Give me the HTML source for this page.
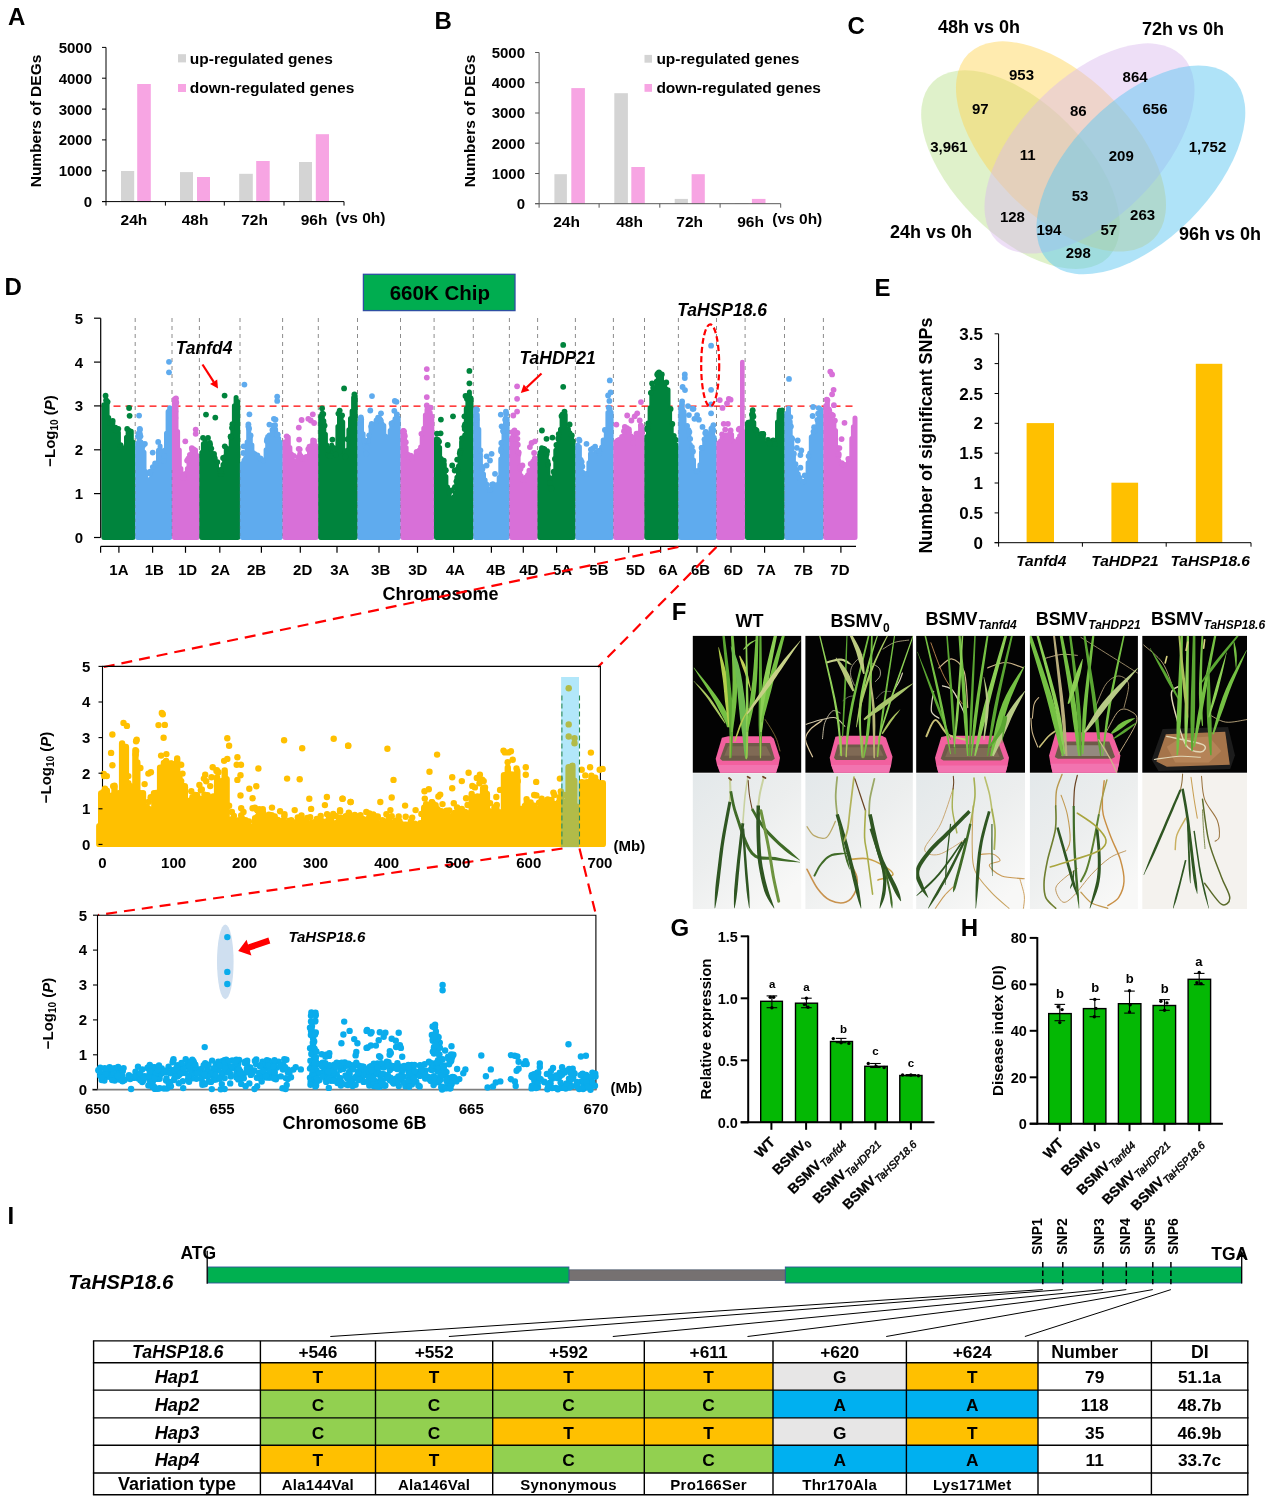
<!DOCTYPE html>
<html lang="en"><head><meta charset="utf-8"><title>Figure</title>
<style>
html,body{margin:0;padding:0;background:#fff;}
body{width:1269px;height:1502px;overflow:hidden;}
svg{display:block;font-family:"Liberation Sans", Arial, sans-serif;font-weight:bold;}
</style></head><body>
<svg width="1269" height="1502" viewBox="0 0 1269 1502">
<rect width="1269" height="1502" fill="#fff"/>
<g id="panelA">
<text x="8.0" y="25.4" font-size="24">A</text>
<rect x="121.0" y="171.0" width="13.2" height="30.6" fill="#d4d4d4"/>
<rect x="137.2" y="84.0" width="13.6" height="117.6" fill="#f7a5e3"/>
<rect x="180.0" y="172.1" width="13.0" height="29.5" fill="#d4d4d4"/>
<rect x="197.0" y="177.0" width="13.0" height="24.6" fill="#f7a5e3"/>
<rect x="239.2" y="173.8" width="13.6" height="27.8" fill="#d4d4d4"/>
<rect x="256.2" y="161.0" width="13.5" height="40.6" fill="#f7a5e3"/>
<rect x="299.0" y="162.0" width="13.0" height="39.6" fill="#d4d4d4"/>
<rect x="315.8" y="134.2" width="13.2" height="67.4" fill="#f7a5e3"/>
<line x1="106.0" y1="47.4" x2="106.0" y2="205.6" stroke="#000" stroke-width="1"/>
<line x1="102.0" y1="201.6" x2="344.0" y2="201.6" stroke="#000" stroke-width="1"/>
<line x1="102.0" y1="201.6" x2="106.0" y2="201.6" stroke="#000" stroke-width="1"/>
<text x="92.0" y="207.0" font-size="15" text-anchor="end">0</text>
<line x1="102.0" y1="170.8" x2="106.0" y2="170.8" stroke="#000" stroke-width="1"/>
<text x="92.0" y="176.2" font-size="15" text-anchor="end">1000</text>
<line x1="102.0" y1="139.9" x2="106.0" y2="139.9" stroke="#000" stroke-width="1"/>
<text x="92.0" y="145.3" font-size="15" text-anchor="end">2000</text>
<line x1="102.0" y1="109.1" x2="106.0" y2="109.1" stroke="#000" stroke-width="1"/>
<text x="92.0" y="114.5" font-size="15" text-anchor="end">3000</text>
<line x1="102.0" y1="78.2" x2="106.0" y2="78.2" stroke="#000" stroke-width="1"/>
<text x="92.0" y="83.6" font-size="15" text-anchor="end">4000</text>
<line x1="102.0" y1="47.4" x2="106.0" y2="47.4" stroke="#000" stroke-width="1"/>
<text x="92.0" y="52.8" font-size="15" text-anchor="end">5000</text>
<line x1="165.4" y1="201.6" x2="165.4" y2="205.6" stroke="#000" stroke-width="1"/>
<line x1="224.3" y1="201.6" x2="224.3" y2="205.6" stroke="#000" stroke-width="1"/>
<line x1="284.0" y1="201.6" x2="284.0" y2="205.6" stroke="#000" stroke-width="1"/>
<line x1="344.0" y1="201.6" x2="344.0" y2="205.6" stroke="#000" stroke-width="1"/>
<text x="133.9" y="225.0" font-size="15.5" text-anchor="middle">24h</text>
<text x="195.0" y="225.0" font-size="15.5" text-anchor="middle">48h</text>
<text x="254.5" y="225.0" font-size="15.5" text-anchor="middle">72h</text>
<text x="314.0" y="225.0" font-size="15.5" text-anchor="middle">96h</text>
<text x="335.5" y="222.5" font-size="15.5">(vs 0h)</text>
<text x="40.5" y="121.0" font-size="15.5" text-anchor="middle" transform="rotate(-90 40.5 121.0)">Numbers of DEGs</text>
<rect x="178.0" y="54.2" width="8.0" height="8.2" fill="#d4d4d4"/>
<text x="189.8" y="63.5" font-size="15.5">up-regulated genes</text>
<rect x="178.0" y="84.0" width="8.0" height="8.0" fill="#f7a5e3"/>
<text x="189.8" y="92.5" font-size="15.5">down-regulated genes</text>
</g>
<g id="panelB">
<text x="434.4" y="28.8" font-size="24">B</text>
<rect x="554.4" y="174.2" width="12.5" height="29.5" fill="#d4d4d4"/>
<rect x="571.3" y="88.1" width="13.6" height="115.6" fill="#f7a5e3"/>
<rect x="614.3" y="93.2" width="13.6" height="110.5" fill="#d4d4d4"/>
<rect x="631.3" y="167.0" width="13.5" height="36.7" fill="#f7a5e3"/>
<rect x="674.7" y="198.9" width="13.2" height="4.8" fill="#d4d4d4"/>
<rect x="691.6" y="174.2" width="13.2" height="29.5" fill="#f7a5e3"/>
<rect x="735.0" y="203.2" width="13.5" height="0.5" fill="#d4d4d4"/>
<rect x="751.9" y="198.9" width="13.6" height="4.8" fill="#f7a5e3"/>
<line x1="539.1" y1="52.5" x2="539.1" y2="207.7" stroke="#595959" stroke-width="1"/>
<line x1="535.1" y1="203.7" x2="780.7" y2="203.7" stroke="#595959" stroke-width="1"/>
<line x1="535.1" y1="203.7" x2="539.1" y2="203.7" stroke="#595959" stroke-width="1"/>
<text x="525.0" y="209.1" font-size="15" text-anchor="end">0</text>
<line x1="535.1" y1="173.5" x2="539.1" y2="173.5" stroke="#595959" stroke-width="1"/>
<text x="525.0" y="178.9" font-size="15" text-anchor="end">1000</text>
<line x1="535.1" y1="143.2" x2="539.1" y2="143.2" stroke="#595959" stroke-width="1"/>
<text x="525.0" y="148.6" font-size="15" text-anchor="end">2000</text>
<line x1="535.1" y1="113.0" x2="539.1" y2="113.0" stroke="#595959" stroke-width="1"/>
<text x="525.0" y="118.4" font-size="15" text-anchor="end">3000</text>
<line x1="535.1" y1="82.7" x2="539.1" y2="82.7" stroke="#595959" stroke-width="1"/>
<text x="525.0" y="88.1" font-size="15" text-anchor="end">4000</text>
<line x1="535.1" y1="52.5" x2="539.1" y2="52.5" stroke="#595959" stroke-width="1"/>
<text x="525.0" y="57.9" font-size="15" text-anchor="end">5000</text>
<line x1="599.1" y1="203.7" x2="599.1" y2="207.7" stroke="#595959" stroke-width="1"/>
<line x1="659.8" y1="203.7" x2="659.8" y2="207.7" stroke="#595959" stroke-width="1"/>
<line x1="720.1" y1="203.7" x2="720.1" y2="207.7" stroke="#595959" stroke-width="1"/>
<line x1="780.7" y1="203.7" x2="780.7" y2="207.7" stroke="#595959" stroke-width="1"/>
<text x="566.6" y="226.7" font-size="15.5" text-anchor="middle">24h</text>
<text x="629.5" y="226.7" font-size="15.5" text-anchor="middle">48h</text>
<text x="689.7" y="226.7" font-size="15.5" text-anchor="middle">72h</text>
<text x="750.5" y="226.7" font-size="15.5" text-anchor="middle">96h</text>
<text x="772.3" y="224.0" font-size="15.5">(vs 0h)</text>
<text x="474.5" y="121.0" font-size="15.5" text-anchor="middle" transform="rotate(-90 474.5 121.0)">Numbers of DEGs</text>
<rect x="644.5" y="54.9" width="7.5" height="7.8" fill="#d4d4d4"/>
<text x="656.4" y="63.5" font-size="15.5">up-regulated genes</text>
<rect x="644.5" y="84.0" width="7.5" height="7.8" fill="#f7a5e3"/>
<text x="656.4" y="92.5" font-size="15.5">down-regulated genes</text>
</g>
<g id="panelC">
<text x="847.4" y="33.6" font-size="24">C</text>
<ellipse cx="1020.5" cy="169.7" rx="124" ry="66" transform="rotate(45 1020.5 169.7)" fill="#b7e08a" fill-opacity="0.45"/>
<ellipse cx="1061" cy="146.4" rx="131" ry="70" transform="rotate(45 1061 146.4)" fill="#ffd24d" fill-opacity="0.45"/>
<ellipse cx="1089.5" cy="148.4" rx="131" ry="70" transform="rotate(-45 1089.5 148.4)" fill="#d9b8ee" fill-opacity="0.45"/>
<ellipse cx="1140.9" cy="169.9" rx="130" ry="70" transform="rotate(-45 1140.9 169.9)" fill="#5fc7f2" fill-opacity="0.5"/>
<text x="938.0" y="33.3" font-size="18">48h vs 0h</text>
<text x="1142.0" y="35.0" font-size="18">72h vs 0h</text>
<text x="890.0" y="238.0" font-size="18">24h vs 0h</text>
<text x="1179.0" y="239.5" font-size="18">96h vs 0h</text>
<text x="1021.5" y="80.3" font-size="15" text-anchor="middle">953</text>
<text x="1135.1" y="82.3" font-size="15" text-anchor="middle">864</text>
<text x="980.3" y="113.5" font-size="15" text-anchor="middle">97</text>
<text x="1078.3" y="116.2" font-size="15" text-anchor="middle">86</text>
<text x="1155.0" y="114.2" font-size="15" text-anchor="middle">656</text>
<text x="948.9" y="152.3" font-size="15" text-anchor="middle">3,961</text>
<text x="1027.6" y="160.1" font-size="15" text-anchor="middle">11</text>
<text x="1121.3" y="161.1" font-size="15" text-anchor="middle">209</text>
<text x="1207.5" y="151.7" font-size="15" text-anchor="middle">1,752</text>
<text x="1080.0" y="201.3" font-size="15" text-anchor="middle">53</text>
<text x="1012.4" y="221.7" font-size="15" text-anchor="middle">128</text>
<text x="1142.6" y="220.3" font-size="15" text-anchor="middle">263</text>
<text x="1048.9" y="234.5" font-size="15" text-anchor="middle">194</text>
<text x="1108.8" y="235.2" font-size="15" text-anchor="middle">57</text>
<text x="1078.3" y="258.2" font-size="15" text-anchor="middle">298</text>
</g>
<g id="panelD">
<text x="4.5" y="295.0" font-size="24">D</text>
<line x1="135.2" y1="318.0" x2="135.2" y2="539.5" stroke="#7f7f7f" stroke-width="0.9" stroke-dasharray="4 4"/>
<line x1="172.0" y1="318.0" x2="172.0" y2="539.5" stroke="#7f7f7f" stroke-width="0.9" stroke-dasharray="4 4"/>
<line x1="199.4" y1="318.0" x2="199.4" y2="539.5" stroke="#7f7f7f" stroke-width="0.9" stroke-dasharray="4 4"/>
<line x1="240.0" y1="318.0" x2="240.0" y2="539.5" stroke="#7f7f7f" stroke-width="0.9" stroke-dasharray="4 4"/>
<line x1="282.6" y1="318.0" x2="282.6" y2="539.5" stroke="#7f7f7f" stroke-width="0.9" stroke-dasharray="4 4"/>
<line x1="318.3" y1="318.0" x2="318.3" y2="539.5" stroke="#7f7f7f" stroke-width="0.9" stroke-dasharray="4 4"/>
<line x1="357.5" y1="318.0" x2="357.5" y2="539.5" stroke="#7f7f7f" stroke-width="0.9" stroke-dasharray="4 4"/>
<line x1="400.5" y1="318.0" x2="400.5" y2="539.5" stroke="#7f7f7f" stroke-width="0.9" stroke-dasharray="4 4"/>
<line x1="434.1" y1="318.0" x2="434.1" y2="539.5" stroke="#7f7f7f" stroke-width="0.9" stroke-dasharray="4 4"/>
<line x1="473.3" y1="318.0" x2="473.3" y2="539.5" stroke="#7f7f7f" stroke-width="0.9" stroke-dasharray="4 4"/>
<line x1="509.4" y1="318.0" x2="509.4" y2="539.5" stroke="#7f7f7f" stroke-width="0.9" stroke-dasharray="4 4"/>
<line x1="537.6" y1="318.0" x2="537.6" y2="539.5" stroke="#7f7f7f" stroke-width="0.9" stroke-dasharray="4 4"/>
<line x1="575.4" y1="318.0" x2="575.4" y2="539.5" stroke="#7f7f7f" stroke-width="0.9" stroke-dasharray="4 4"/>
<line x1="613.4" y1="318.0" x2="613.4" y2="539.5" stroke="#7f7f7f" stroke-width="0.9" stroke-dasharray="4 4"/>
<line x1="644.5" y1="318.0" x2="644.5" y2="539.5" stroke="#7f7f7f" stroke-width="0.9" stroke-dasharray="4 4"/>
<line x1="678.4" y1="318.0" x2="678.4" y2="539.5" stroke="#7f7f7f" stroke-width="0.9" stroke-dasharray="4 4"/>
<line x1="716.5" y1="318.0" x2="716.5" y2="539.5" stroke="#7f7f7f" stroke-width="0.9" stroke-dasharray="4 4"/>
<line x1="745.1" y1="318.0" x2="745.1" y2="539.5" stroke="#7f7f7f" stroke-width="0.9" stroke-dasharray="4 4"/>
<line x1="784.5" y1="318.0" x2="784.5" y2="539.5" stroke="#7f7f7f" stroke-width="0.9" stroke-dasharray="4 4"/>
<line x1="823.4" y1="318.0" x2="823.4" y2="539.5" stroke="#7f7f7f" stroke-width="0.9" stroke-dasharray="4 4"/>
<line x1="101.5" y1="406.2" x2="857.5" y2="406.2" stroke="#ff0000" stroke-width="1.3" stroke-dasharray="7 5"/>
<path d="M103.9 537.5V404.8M105.5 537.5V404.0M107.1 537.5V402.5M108.7 537.5V417.4M110.3 537.5V429.1M112.0 537.5V427.3M113.6 537.5V432.6M115.2 537.5V434.2M116.8 537.5V436.1M118.4 537.5V432.4M120.0 537.5V448.0M121.6 537.5V458.3M123.2 537.5V459.6M124.8 537.5V447.8M126.5 537.5V437.2M128.1 537.5V432.7M129.7 537.5V430.4M131.3 537.5V431.2M132.9 537.5V442.0" stroke="#00843d" stroke-width="5.0" stroke-linecap="round" fill="none"/>
<g fill="#00843d"><circle cx="129.1" cy="408.0" r="2.9"/><circle cx="129.6" cy="415.8" r="2.9"/><circle cx="118.3" cy="428.8" r="2.9"/><circle cx="111.6" cy="423.0" r="2.9"/><circle cx="115.4" cy="427.7" r="2.9"/><circle cx="105.6" cy="395.7" r="2.9"/><circle cx="112.4" cy="423.5" r="2.9"/><circle cx="107.6" cy="401.8" r="2.9"/><circle cx="127.2" cy="428.9" r="2.9"/><circle cx="120.6" cy="445.1" r="2.9"/><circle cx="114.8" cy="429.7" r="2.9"/><circle cx="106.1" cy="400.2" r="2.9"/><circle cx="110.1" cy="422.9" r="2.9"/><circle cx="116.3" cy="430.3" r="2.9"/><circle cx="120.8" cy="446.9" r="2.9"/><circle cx="112.7" cy="420.9" r="2.9"/></g>
<path d="M137.6 537.5V443.2M139.2 537.5V436.0M140.8 537.5V441.7M142.4 537.5V446.4M144.0 537.5V452.2M145.6 537.5V471.6M147.2 537.5V486.0M148.8 537.5V481.1M150.4 537.5V478.9M152.0 537.5V473.3M153.6 537.5V468.8M155.3 537.5V471.7M156.9 537.5V464.3M158.5 537.5V450.3M160.1 537.5V446.1M161.7 537.5V456.9M163.3 537.5V462.1M164.9 537.5V450.0M166.5 537.5V433.2M168.1 537.5V411.4M169.7 537.5V407.8" stroke="#5fabee" stroke-width="5.0" stroke-linecap="round" fill="none"/>
<g fill="#5fabee"><circle cx="169.0" cy="361.8" r="2.9"/><circle cx="169.0" cy="372.3" r="2.9"/><circle cx="139.1" cy="415.6" r="2.9"/><circle cx="152.7" cy="452.6" r="2.9"/><circle cx="139.9" cy="433.8" r="2.9"/><circle cx="137.9" cy="436.3" r="2.9"/><circle cx="144.9" cy="443.8" r="2.9"/><circle cx="156.1" cy="464.8" r="2.9"/><circle cx="164.2" cy="456.2" r="2.9"/><circle cx="152.8" cy="467.1" r="2.9"/><circle cx="139.9" cy="429.7" r="2.9"/><circle cx="158.2" cy="441.9" r="2.9"/><circle cx="163.6" cy="460.9" r="2.9"/><circle cx="150.0" cy="473.6" r="2.9"/><circle cx="138.7" cy="433.3" r="2.9"/><circle cx="143.2" cy="445.2" r="2.9"/><circle cx="139.8" cy="428.9" r="2.9"/><circle cx="142.0" cy="444.0" r="2.9"/><circle cx="150.2" cy="471.7" r="2.9"/><circle cx="140.5" cy="436.3" r="2.9"/><circle cx="155.1" cy="463.5" r="2.9"/></g>
<path d="M174.4 537.5V399.1M176.0 537.5V401.5M177.6 537.5V431.6M179.3 537.5V449.9M180.9 537.5V468.5M182.5 537.5V475.5M184.1 537.5V473.9M185.8 537.5V473.5M187.4 537.5V468.4M189.0 537.5V463.2M190.6 537.5V458.8M192.2 537.5V453.1M193.9 537.5V449.1M195.5 537.5V450.1M197.1 537.5V455.4" stroke="#d870d8" stroke-width="5.0" stroke-linecap="round" fill="none"/>
<g fill="#d870d8"><circle cx="185.3" cy="441.3" r="2.9"/><circle cx="195.7" cy="429.6" r="2.9"/><circle cx="195.7" cy="433.8" r="2.9"/><circle cx="175.4" cy="411.3" r="2.9"/><circle cx="175.4" cy="418.0" r="2.9"/><circle cx="174.9" cy="428.8" r="2.9"/><circle cx="183.9" cy="475.1" r="2.9"/><circle cx="187.1" cy="460.6" r="2.9"/><circle cx="189.9" cy="455.0" r="2.9"/><circle cx="188.3" cy="458.7" r="2.9"/><circle cx="176.0" cy="398.3" r="2.9"/><circle cx="191.8" cy="448.1" r="2.9"/><circle cx="192.2" cy="449.9" r="2.9"/><circle cx="183.5" cy="478.2" r="2.9"/><circle cx="188.6" cy="460.8" r="2.9"/><circle cx="176.3" cy="402.5" r="2.9"/></g>
<path d="M201.8 537.5V452.5M203.4 537.5V443.7M205.1 537.5V440.5M206.7 537.5V443.6M208.3 537.5V446.4M210.0 537.5V451.1M211.6 537.5V453.3M213.2 537.5V459.9M214.9 537.5V457.4M216.5 537.5V463.3M218.1 537.5V471.9M219.8 537.5V477.4M221.4 537.5V476.2M223.0 537.5V464.4M224.6 537.5V456.7M226.3 537.5V447.9M227.9 537.5V448.8M229.5 537.5V448.6M231.2 537.5V439.7M232.8 537.5V427.8M234.4 537.5V405.7M236.1 537.5V397.4M237.7 537.5V401.6" stroke="#00843d" stroke-width="5.0" stroke-linecap="round" fill="none"/>
<g fill="#00843d"><circle cx="206.0" cy="414.6" r="2.9"/><circle cx="215.3" cy="417.6" r="2.9"/><circle cx="224.6" cy="395.6" r="2.9"/><circle cx="209.8" cy="443.0" r="2.9"/><circle cx="214.0" cy="453.8" r="2.9"/><circle cx="217.3" cy="462.1" r="2.9"/><circle cx="223.1" cy="458.0" r="2.9"/><circle cx="224.8" cy="446.3" r="2.9"/><circle cx="231.2" cy="437.4" r="2.9"/><circle cx="203.0" cy="437.8" r="2.9"/><circle cx="220.7" cy="474.2" r="2.9"/><circle cx="221.2" cy="474.1" r="2.9"/><circle cx="220.7" cy="469.9" r="2.9"/><circle cx="232.4" cy="424.2" r="2.9"/><circle cx="211.3" cy="448.6" r="2.9"/><circle cx="208.0" cy="437.9" r="2.9"/><circle cx="220.8" cy="470.7" r="2.9"/><circle cx="213.7" cy="455.3" r="2.9"/><circle cx="230.6" cy="436.7" r="2.9"/><circle cx="232.0" cy="427.8" r="2.9"/><circle cx="230.8" cy="436.5" r="2.9"/><circle cx="210.1" cy="444.8" r="2.9"/><circle cx="214.6" cy="458.5" r="2.9"/></g>
<path d="M242.4 537.5V463.6M244.0 537.5V460.2M245.6 537.5V457.7M247.1 537.5V442.1M248.7 537.5V428.1M250.3 537.5V436.0M251.9 537.5V445.1M253.5 537.5V452.8M255.0 537.5V453.8M256.6 537.5V458.9M258.2 537.5V461.1M259.8 537.5V462.1M261.4 537.5V463.3M262.9 537.5V464.4M264.5 537.5V462.3M266.1 537.5V449.8M267.7 537.5V436.5M269.2 537.5V434.9M270.8 537.5V438.3M272.4 537.5V434.1M274.0 537.5V434.6M275.6 537.5V429.2M277.1 537.5V434.0M278.7 537.5V438.2M280.3 537.5V442.3" stroke="#5fabee" stroke-width="5.0" stroke-linecap="round" fill="none"/>
<g fill="#5fabee"><circle cx="244.4" cy="384.6" r="2.9"/><circle cx="249.4" cy="414.3" r="2.9"/><circle cx="248.4" cy="424.3" r="2.9"/><circle cx="243.6" cy="446.3" r="2.9"/><circle cx="269.4" cy="424.6" r="2.9"/><circle cx="273.9" cy="418.8" r="2.9"/><circle cx="275.5" cy="419.6" r="2.9"/><circle cx="277.2" cy="396.6" r="2.9"/><circle cx="277.2" cy="400.9" r="2.9"/><circle cx="260.5" cy="458.5" r="2.9"/><circle cx="272.0" cy="435.4" r="2.9"/><circle cx="272.4" cy="430.0" r="2.9"/><circle cx="257.4" cy="455.3" r="2.9"/><circle cx="277.8" cy="434.6" r="2.9"/><circle cx="249.1" cy="428.6" r="2.9"/><circle cx="248.4" cy="426.6" r="2.9"/><circle cx="272.6" cy="433.4" r="2.9"/><circle cx="273.4" cy="425.7" r="2.9"/><circle cx="267.1" cy="439.1" r="2.9"/><circle cx="263.1" cy="460.5" r="2.9"/><circle cx="243.3" cy="453.0" r="2.9"/><circle cx="266.8" cy="441.1" r="2.9"/><circle cx="277.3" cy="434.6" r="2.9"/><circle cx="275.1" cy="425.2" r="2.9"/><circle cx="250.6" cy="435.4" r="2.9"/></g>
<path d="M285.0 537.5V441.8M286.6 537.5V441.0M288.3 537.5V437.2M289.9 537.5V447.5M291.5 537.5V454.0M293.2 537.5V462.3M294.8 537.5V460.9M296.4 537.5V462.6M298.1 537.5V456.8M299.7 537.5V453.8M301.3 537.5V458.2M302.9 537.5V462.2M304.6 537.5V458.5M306.2 537.5V460.4M307.8 537.5V457.1M309.5 537.5V448.4M311.1 537.5V445.8M312.7 537.5V439.9M314.4 537.5V440.6M316.0 537.5V445.7" stroke="#d870d8" stroke-width="5.0" stroke-linecap="round" fill="none"/>
<g fill="#d870d8"><circle cx="298.8" cy="427.6" r="2.9"/><circle cx="301.6" cy="420.0" r="2.9"/><circle cx="308.3" cy="418.8" r="2.9"/><circle cx="310.8" cy="420.5" r="2.9"/><circle cx="312.8" cy="414.3" r="2.9"/><circle cx="314.1" cy="423.0" r="2.9"/><circle cx="299.1" cy="439.6" r="2.9"/><circle cx="286.7" cy="436.3" r="2.9"/><circle cx="309.5" cy="446.6" r="2.9"/><circle cx="299.7" cy="449.3" r="2.9"/><circle cx="302.1" cy="458.6" r="2.9"/><circle cx="301.0" cy="457.1" r="2.9"/><circle cx="309.0" cy="449.4" r="2.9"/><circle cx="302.3" cy="459.1" r="2.9"/><circle cx="293.7" cy="456.0" r="2.9"/><circle cx="300.7" cy="456.4" r="2.9"/><circle cx="308.3" cy="449.1" r="2.9"/><circle cx="298.7" cy="448.8" r="2.9"/><circle cx="300.6" cy="456.2" r="2.9"/><circle cx="306.3" cy="456.9" r="2.9"/><circle cx="301.5" cy="457.7" r="2.9"/></g>
<path d="M320.7 537.5V416.6M322.3 537.5V417.4M323.8 537.5V420.8M325.4 537.5V434.2M327.0 537.5V451.8M328.5 537.5V454.6M330.1 537.5V454.9M331.7 537.5V445.1M333.2 537.5V447.5M334.8 537.5V457.7M336.4 537.5V451.0M337.9 537.5V426.5M339.5 537.5V416.0M341.1 537.5V418.2M342.7 537.5V422.1M344.2 537.5V455.7M345.8 537.5V454.8M347.4 537.5V450.1M348.9 537.5V429.7M350.5 537.5V418.5M352.1 537.5V411.1M353.6 537.5V397.6M355.2 537.5V396.2" stroke="#00843d" stroke-width="5.0" stroke-linecap="round" fill="none"/>
<g fill="#00843d"><circle cx="344.1" cy="388.4" r="2.9"/><circle cx="322.1" cy="408.3" r="2.9"/><circle cx="332.4" cy="439.6" r="2.9"/><circle cx="339.9" cy="451.3" r="2.9"/><circle cx="328.3" cy="454.6" r="2.9"/><circle cx="335.7" cy="454.6" r="2.9"/><circle cx="328.5" cy="448.7" r="2.9"/><circle cx="334.5" cy="448.4" r="2.9"/><circle cx="354.4" cy="394.4" r="2.9"/><circle cx="326.5" cy="445.3" r="2.9"/><circle cx="338.4" cy="413.6" r="2.9"/><circle cx="327.7" cy="449.5" r="2.9"/><circle cx="345.4" cy="456.6" r="2.9"/><circle cx="339.7" cy="410.6" r="2.9"/><circle cx="321.7" cy="416.2" r="2.9"/><circle cx="342.1" cy="415.3" r="2.9"/><circle cx="323.3" cy="414.1" r="2.9"/><circle cx="347.6" cy="439.2" r="2.9"/><circle cx="324.6" cy="425.6" r="2.9"/><circle cx="322.4" cy="413.6" r="2.9"/><circle cx="330.2" cy="455.9" r="2.9"/></g>
<path d="M359.9 537.5V422.5M361.5 537.5V419.5M363.1 537.5V433.8M364.7 537.5V449.9M366.3 537.5V458.0M367.9 537.5V440.3M369.5 537.5V435.4M371.1 537.5V428.8M372.7 537.5V430.2M374.3 537.5V428.7M375.9 537.5V423.0M377.5 537.5V424.4M379.0 537.5V426.5M380.6 537.5V419.5M382.2 537.5V423.9M383.8 537.5V425.5M385.4 537.5V436.1M387.0 537.5V441.4M388.6 537.5V448.0M390.2 537.5V430.6M391.8 537.5V425.9M393.4 537.5V422.0M395.0 537.5V418.8M396.6 537.5V414.4M398.2 537.5V418.0" stroke="#5fabee" stroke-width="5.0" stroke-linecap="round" fill="none"/>
<g fill="#5fabee"><circle cx="372.0" cy="396.1" r="2.9"/><circle cx="370.3" cy="410.5" r="2.9"/><circle cx="381.0" cy="413.3" r="2.9"/><circle cx="394.3" cy="410.8" r="2.9"/><circle cx="394.8" cy="400.9" r="2.9"/><circle cx="396.5" cy="401.8" r="2.9"/><circle cx="361.2" cy="419.6" r="2.9"/><circle cx="365.1" cy="446.6" r="2.9"/><circle cx="369.2" cy="435.3" r="2.9"/><circle cx="366.3" cy="453.6" r="2.9"/><circle cx="367.8" cy="440.9" r="2.9"/><circle cx="371.7" cy="424.0" r="2.9"/><circle cx="371.1" cy="426.4" r="2.9"/><circle cx="367.0" cy="447.4" r="2.9"/><circle cx="361.0" cy="420.0" r="2.9"/><circle cx="360.9" cy="417.4" r="2.9"/><circle cx="380.9" cy="421.0" r="2.9"/><circle cx="378.1" cy="417.6" r="2.9"/><circle cx="364.3" cy="440.5" r="2.9"/><circle cx="376.5" cy="420.5" r="2.9"/><circle cx="391.5" cy="423.4" r="2.9"/><circle cx="379.3" cy="418.5" r="2.9"/><circle cx="397.0" cy="414.3" r="2.9"/></g>
<path d="M402.9 537.5V433.2M404.5 537.5V434.7M406.1 537.5V447.6M407.7 537.5V458.9M409.3 537.5V462.9M410.9 537.5V465.0M412.5 537.5V462.8M414.1 537.5V461.6M415.7 537.5V455.0M417.4 537.5V454.9M419.0 537.5V450.2M420.6 537.5V447.1M422.2 537.5V437.5M423.8 537.5V428.2M425.4 537.5V414.9M427.0 537.5V409.6M428.6 537.5V410.4M430.2 537.5V412.6M431.8 537.5V416.1" stroke="#d870d8" stroke-width="5.0" stroke-linecap="round" fill="none"/>
<g fill="#d870d8"><circle cx="426.8" cy="369.1" r="2.9"/><circle cx="426.8" cy="377.6" r="2.9"/><circle cx="426.8" cy="397.1" r="2.9"/><circle cx="426.8" cy="405.4" r="2.9"/><circle cx="404.0" cy="431.3" r="2.9"/><circle cx="404.8" cy="436.3" r="2.9"/><circle cx="404.0" cy="443.0" r="2.9"/><circle cx="421.4" cy="433.8" r="2.9"/><circle cx="407.7" cy="454.7" r="2.9"/><circle cx="410.7" cy="455.7" r="2.9"/><circle cx="430.5" cy="407.7" r="2.9"/><circle cx="410.1" cy="456.2" r="2.9"/><circle cx="412.0" cy="457.6" r="2.9"/><circle cx="403.3" cy="431.0" r="2.9"/><circle cx="416.6" cy="451.9" r="2.9"/><circle cx="408.9" cy="457.1" r="2.9"/><circle cx="403.4" cy="431.2" r="2.9"/><circle cx="405.8" cy="442.2" r="2.9"/><circle cx="404.5" cy="434.9" r="2.9"/><circle cx="411.8" cy="458.4" r="2.9"/></g>
<path d="M436.5 537.5V438.8M438.1 537.5V441.9M439.6 537.5V447.6M441.2 537.5V458.6M442.8 537.5V461.7M444.3 537.5V464.1M445.9 537.5V476.5M447.5 537.5V487.1M449.0 537.5V490.7M450.6 537.5V503.9M452.2 537.5V500.6M453.8 537.5V497.1M455.3 537.5V492.5M456.9 537.5V477.2M458.5 537.5V466.0M460.0 537.5V453.6M461.6 537.5V441.8M463.2 537.5V437.7M464.7 537.5V434.9M466.3 537.5V408.5M467.9 537.5V395.6M469.4 537.5V391.9M471.0 537.5V398.1" stroke="#00843d" stroke-width="5.0" stroke-linecap="round" fill="none"/>
<g fill="#00843d"><circle cx="469.4" cy="370.9" r="2.9"/><circle cx="469.4" cy="383.3" r="2.9"/><circle cx="453.0" cy="416.3" r="2.9"/><circle cx="440.9" cy="419.6" r="2.9"/><circle cx="440.6" cy="433.3" r="2.9"/><circle cx="447.7" cy="445.0" r="2.9"/><circle cx="457.2" cy="459.6" r="2.9"/><circle cx="452.2" cy="465.5" r="2.9"/><circle cx="454.7" cy="470.5" r="2.9"/><circle cx="456.4" cy="481.3" r="2.9"/><circle cx="451.4" cy="490.5" r="2.9"/><circle cx="465.5" cy="395.9" r="2.9"/><circle cx="464.4" cy="416.3" r="2.9"/><circle cx="464.4" cy="426.3" r="2.9"/><circle cx="437.2" cy="443.0" r="2.9"/><circle cx="438.1" cy="449.6" r="2.9"/><circle cx="464.7" cy="429.0" r="2.9"/><circle cx="466.9" cy="398.7" r="2.9"/><circle cx="460.2" cy="451.0" r="2.9"/><circle cx="437.9" cy="439.8" r="2.9"/><circle cx="449.0" cy="492.5" r="2.9"/><circle cx="465.0" cy="424.4" r="2.9"/><circle cx="458.0" cy="468.7" r="2.9"/><circle cx="459.8" cy="453.2" r="2.9"/><circle cx="437.0" cy="433.6" r="2.9"/><circle cx="462.0" cy="438.4" r="2.9"/><circle cx="454.9" cy="487.2" r="2.9"/><circle cx="439.1" cy="441.6" r="2.9"/><circle cx="445.4" cy="470.6" r="2.9"/><circle cx="445.8" cy="470.2" r="2.9"/><circle cx="443.8" cy="460.7" r="2.9"/></g>
<path d="M475.7 537.5V409.1M477.3 537.5V414.8M478.8 537.5V429.2M480.4 537.5V454.2M482.0 537.5V467.6M483.5 537.5V474.0M485.1 537.5V479.9M486.7 537.5V483.9M488.3 537.5V491.9M489.8 537.5V495.1M491.4 537.5V491.2M493.0 537.5V483.7M494.5 537.5V484.8M496.1 537.5V484.7M497.7 537.5V490.7M499.2 537.5V477.4M500.8 537.5V459.1M502.4 537.5V442.0M504.0 537.5V427.5M505.5 537.5V417.9M507.1 537.5V418.7" stroke="#5fabee" stroke-width="5.0" stroke-linecap="round" fill="none"/>
<g fill="#5fabee"><circle cx="500.8" cy="414.6" r="2.9"/><circle cx="506.3" cy="413.8" r="2.9"/><circle cx="501.6" cy="426.3" r="2.9"/><circle cx="501.3" cy="443.0" r="2.9"/><circle cx="491.6" cy="453.8" r="2.9"/><circle cx="486.6" cy="456.3" r="2.9"/><circle cx="490.0" cy="460.5" r="2.9"/><circle cx="486.6" cy="465.5" r="2.9"/><circle cx="495.0" cy="473.8" r="2.9"/><circle cx="477.0" cy="410.0" r="2.9"/><circle cx="476.6" cy="419.6" r="2.9"/><circle cx="491.9" cy="484.7" r="2.9"/><circle cx="490.3" cy="490.2" r="2.9"/><circle cx="503.4" cy="431.4" r="2.9"/><circle cx="505.9" cy="411.7" r="2.9"/><circle cx="476.6" cy="409.3" r="2.9"/><circle cx="501.1" cy="448.9" r="2.9"/><circle cx="489.8" cy="489.9" r="2.9"/><circle cx="482.5" cy="466.8" r="2.9"/><circle cx="482.5" cy="468.8" r="2.9"/><circle cx="480.4" cy="450.4" r="2.9"/><circle cx="505.2" cy="419.7" r="2.9"/><circle cx="501.1" cy="451.3" r="2.9"/><circle cx="503.1" cy="430.8" r="2.9"/></g>
<path d="M511.8 537.5V437.4M513.4 537.5V432.1M514.9 537.5V436.2M516.5 537.5V442.8M518.1 537.5V454.2M519.6 537.5V465.8M521.2 537.5V475.7M522.8 537.5V482.3M524.3 537.5V484.4M525.9 537.5V476.9M527.5 537.5V475.1M529.0 537.5V470.3M530.6 537.5V477.5M532.2 537.5V469.5M533.7 537.5V461.6M535.3 537.5V464.6" stroke="#d870d8" stroke-width="5.0" stroke-linecap="round" fill="none"/>
<g fill="#d870d8"><circle cx="517.1" cy="386.3" r="2.9"/><circle cx="517.1" cy="398.8" r="2.9"/><circle cx="517.1" cy="411.6" r="2.9"/><circle cx="513.3" cy="415.5" r="2.9"/><circle cx="531.6" cy="443.0" r="2.9"/><circle cx="534.9" cy="441.3" r="2.9"/><circle cx="529.9" cy="447.1" r="2.9"/><circle cx="534.1" cy="453.0" r="2.9"/><circle cx="534.9" cy="460.5" r="2.9"/><circle cx="530.7" cy="463.8" r="2.9"/><circle cx="522.4" cy="465.5" r="2.9"/><circle cx="512.4" cy="432.1" r="2.9"/><circle cx="517.4" cy="433.0" r="2.9"/><circle cx="513.3" cy="438.8" r="2.9"/><circle cx="517.4" cy="438.8" r="2.9"/><circle cx="533.1" cy="461.7" r="2.9"/><circle cx="532.6" cy="466.7" r="2.9"/><circle cx="520.6" cy="468.7" r="2.9"/><circle cx="534.8" cy="458.4" r="2.9"/><circle cx="520.4" cy="467.0" r="2.9"/><circle cx="518.4" cy="454.2" r="2.9"/><circle cx="514.5" cy="430.3" r="2.9"/><circle cx="518.7" cy="452.3" r="2.9"/><circle cx="517.8" cy="444.7" r="2.9"/><circle cx="523.7" cy="480.2" r="2.9"/></g>
<path d="M540.0 537.5V452.6M541.6 537.5V447.7M543.2 537.5V448.2M544.7 537.5V448.8M546.3 537.5V454.0M547.9 537.5V461.2M549.5 537.5V477.5M551.0 537.5V490.2M552.6 537.5V486.5M554.2 537.5V472.5M555.8 537.5V450.2M557.3 537.5V444.8M558.9 537.5V437.0M560.5 537.5V429.3M562.1 537.5V414.2M563.6 537.5V414.3M565.2 537.5V414.8M566.8 537.5V428.7M568.4 537.5V428.9M569.9 537.5V432.7M571.5 537.5V438.3M573.1 537.5V440.9" stroke="#00843d" stroke-width="5.0" stroke-linecap="round" fill="none"/>
<g fill="#00843d"><circle cx="563.2" cy="344.9" r="2.9"/><circle cx="563.2" cy="386.8" r="2.9"/><circle cx="541.9" cy="430.5" r="2.9"/><circle cx="546.5" cy="438.8" r="2.9"/><circle cx="552.4" cy="437.6" r="2.9"/><circle cx="549.9" cy="483.0" r="2.9"/><circle cx="571.8" cy="435.4" r="2.9"/><circle cx="561.5" cy="416.1" r="2.9"/><circle cx="558.3" cy="438.4" r="2.9"/><circle cx="545.8" cy="451.6" r="2.9"/><circle cx="547.1" cy="451.2" r="2.9"/><circle cx="556.4" cy="444.9" r="2.9"/><circle cx="569.6" cy="424.4" r="2.9"/><circle cx="554.9" cy="458.9" r="2.9"/><circle cx="546.6" cy="454.2" r="2.9"/><circle cx="551.4" cy="488.4" r="2.9"/><circle cx="548.1" cy="464.6" r="2.9"/><circle cx="558.7" cy="434.1" r="2.9"/><circle cx="564.5" cy="411.7" r="2.9"/><circle cx="553.7" cy="471.7" r="2.9"/></g>
<path d="M577.8 537.5V445.1M579.4 537.5V446.7M581.0 537.5V459.4M582.6 537.5V472.1M584.1 537.5V476.3M585.7 537.5V483.0M587.3 537.5V473.2M588.9 537.5V462.8M590.5 537.5V453.7M592.1 537.5V455.3M593.7 537.5V453.8M595.2 537.5V453.2M596.8 537.5V453.5M598.4 537.5V455.4M600.0 537.5V454.2M601.6 537.5V447.2M603.2 537.5V439.9M604.8 537.5V440.0M606.3 537.5V433.3M607.9 537.5V412.5M609.5 537.5V408.2M611.1 537.5V412.2" stroke="#5fabee" stroke-width="5.0" stroke-linecap="round" fill="none"/>
<g fill="#5fabee"><circle cx="609.8" cy="380.4" r="2.9"/><circle cx="610.6" cy="392.4" r="2.9"/><circle cx="608.1" cy="395.4" r="2.9"/><circle cx="609.4" cy="400.9" r="2.9"/><circle cx="586.5" cy="443.8" r="2.9"/><circle cx="579.0" cy="439.6" r="2.9"/><circle cx="597.2" cy="452.2" r="2.9"/><circle cx="590.9" cy="449.6" r="2.9"/><circle cx="604.9" cy="430.0" r="2.9"/><circle cx="609.7" cy="408.8" r="2.9"/><circle cx="581.7" cy="461.8" r="2.9"/><circle cx="595.1" cy="446.7" r="2.9"/><circle cx="608.7" cy="407.6" r="2.9"/><circle cx="599.2" cy="451.1" r="2.9"/><circle cx="593.0" cy="448.4" r="2.9"/><circle cx="579.5" cy="440.6" r="2.9"/><circle cx="585.7" cy="474.2" r="2.9"/><circle cx="599.1" cy="453.4" r="2.9"/><circle cx="582.3" cy="466.4" r="2.9"/><circle cx="598.8" cy="450.8" r="2.9"/></g>
<path d="M615.8 537.5V441.8M617.4 537.5V440.3M618.9 537.5V439.5M620.5 537.5V439.5M622.0 537.5V438.9M623.6 537.5V435.9M625.1 537.5V428.7M626.7 537.5V434.1M628.2 537.5V433.8M629.8 537.5V436.5M631.3 537.5V435.9M632.9 537.5V441.8M634.4 537.5V444.2M636.0 537.5V441.6M637.5 537.5V437.2M639.1 537.5V432.7M640.6 537.5V425.3M642.2 537.5V427.6" stroke="#d870d8" stroke-width="5.0" stroke-linecap="round" fill="none"/>
<g fill="#d870d8"><circle cx="641.0" cy="402.1" r="2.9"/><circle cx="627.2" cy="415.5" r="2.9"/><circle cx="631.4" cy="420.5" r="2.9"/><circle cx="634.7" cy="416.3" r="2.9"/><circle cx="637.2" cy="413.3" r="2.9"/><circle cx="639.7" cy="420.5" r="2.9"/><circle cx="616.4" cy="424.6" r="2.9"/><circle cx="624.0" cy="431.2" r="2.9"/><circle cx="628.9" cy="429.4" r="2.9"/><circle cx="626.9" cy="428.1" r="2.9"/><circle cx="633.2" cy="437.8" r="2.9"/><circle cx="622.0" cy="436.8" r="2.9"/><circle cx="624.8" cy="426.8" r="2.9"/><circle cx="633.6" cy="442.7" r="2.9"/><circle cx="636.5" cy="433.7" r="2.9"/><circle cx="629.1" cy="432.3" r="2.9"/><circle cx="640.9" cy="425.6" r="2.9"/><circle cx="637.1" cy="434.2" r="2.9"/></g>
<path d="M646.9 537.5V436.6M648.5 537.5V424.5M650.1 537.5V407.7M651.8 537.5V391.8M653.4 537.5V390.3M655.0 537.5V389.0M656.6 537.5V386.0M658.3 537.5V376.3M659.9 537.5V373.7M661.5 537.5V375.0M663.1 537.5V384.8M664.7 537.5V385.9M666.4 537.5V389.1M668.0 537.5V389.8M669.6 537.5V408.9M671.2 537.5V423.2M672.9 537.5V437.2M674.5 537.5V443.7M676.1 537.5V445.0" stroke="#00843d" stroke-width="5.0" stroke-linecap="round" fill="none"/>
<g fill="#00843d"><circle cx="652.1" cy="383.4" r="2.9"/><circle cx="659.0" cy="372.5" r="2.9"/><circle cx="661.8" cy="374.4" r="2.9"/><circle cx="666.3" cy="382.5" r="2.9"/><circle cx="675.3" cy="439.6" r="2.9"/><circle cx="647.3" cy="427.8" r="2.9"/><circle cx="672.3" cy="424.0" r="2.9"/><circle cx="675.5" cy="440.1" r="2.9"/><circle cx="656.6" cy="381.9" r="2.9"/><circle cx="673.8" cy="435.8" r="2.9"/><circle cx="648.2" cy="423.4" r="2.9"/><circle cx="658.0" cy="373.3" r="2.9"/><circle cx="656.7" cy="381.8" r="2.9"/><circle cx="647.4" cy="429.6" r="2.9"/><circle cx="657.2" cy="374.5" r="2.9"/><circle cx="650.8" cy="392.8" r="2.9"/><circle cx="653.2" cy="387.8" r="2.9"/><circle cx="670.6" cy="409.0" r="2.9"/><circle cx="659.5" cy="373.7" r="2.9"/></g>
<path d="M680.8 537.5V407.7M682.4 537.5V408.3M684.0 537.5V411.5M685.6 537.5V429.7M687.2 537.5V432.3M688.8 537.5V429.7M690.3 537.5V444.5M691.9 537.5V451.1M693.5 537.5V460.0M695.1 537.5V473.1M696.7 537.5V480.9M698.3 537.5V473.2M699.9 537.5V464.8M701.5 537.5V452.1M703.1 537.5V451.0M704.7 537.5V439.4M706.2 537.5V434.4M707.8 537.5V437.0M709.4 537.5V435.0M711.0 537.5V428.4M712.6 537.5V431.0M714.2 537.5V437.4" stroke="#5fabee" stroke-width="5.0" stroke-linecap="round" fill="none"/>
<g fill="#5fabee"><circle cx="711.1" cy="345.7" r="2.9"/><circle cx="711.1" cy="389.8" r="2.9"/><circle cx="711.1" cy="404.3" r="2.9"/><circle cx="711.1" cy="413.3" r="2.9"/><circle cx="684.8" cy="374.4" r="2.9"/><circle cx="684.8" cy="378.0" r="2.9"/><circle cx="682.6" cy="387.0" r="2.9"/><circle cx="685.0" cy="390.1" r="2.9"/><circle cx="682.1" cy="401.5" r="2.9"/><circle cx="688.9" cy="415.1" r="2.9"/><circle cx="688.0" cy="406.1" r="2.9"/><circle cx="693.5" cy="408.8" r="2.9"/><circle cx="694.4" cy="418.8" r="2.9"/><circle cx="697.1" cy="415.1" r="2.9"/><circle cx="698.9" cy="419.7" r="2.9"/><circle cx="702.5" cy="426.9" r="2.9"/><circle cx="713.4" cy="425.1" r="2.9"/><circle cx="713.4" cy="430.5" r="2.9"/><circle cx="701.6" cy="447.8" r="2.9"/><circle cx="692.6" cy="408.8" r="2.9"/><circle cx="704.5" cy="439.3" r="2.9"/><circle cx="690.2" cy="438.8" r="2.9"/><circle cx="705.8" cy="431.9" r="2.9"/><circle cx="701.8" cy="447.9" r="2.9"/><circle cx="682.0" cy="404.4" r="2.9"/><circle cx="696.6" cy="471.3" r="2.9"/><circle cx="712.2" cy="428.0" r="2.9"/><circle cx="689.4" cy="431.9" r="2.9"/><circle cx="697.2" cy="471.1" r="2.9"/><circle cx="687.1" cy="426.0" r="2.9"/><circle cx="705.2" cy="433.1" r="2.9"/><circle cx="706.3" cy="433.1" r="2.9"/><circle cx="691.9" cy="447.1" r="2.9"/><circle cx="693.0" cy="451.5" r="2.9"/></g>
<path d="M718.9 537.5V442.7M720.5 537.5V441.0M722.1 537.5V437.9M723.7 537.5V441.1M725.3 537.5V441.6M726.9 537.5V443.9M728.5 537.5V440.0M730.1 537.5V437.4M731.6 537.5V434.4M733.2 537.5V440.7M734.8 537.5V444.5M736.4 537.5V442.5M738.0 537.5V438.9M739.6 537.5V435.8M741.2 537.5V432.8M742.8 537.5V431.2" stroke="#d870d8" stroke-width="5.0" stroke-linecap="round" fill="none"/>
<g fill="#d870d8"><circle cx="719.8" cy="400.1" r="2.9"/><circle cx="722.5" cy="407.9" r="2.9"/><circle cx="723.7" cy="423.8" r="2.9"/><circle cx="727.9" cy="423.8" r="2.9"/><circle cx="728.8" cy="398.8" r="2.9"/><circle cx="730.6" cy="399.7" r="2.9"/><circle cx="727.0" cy="403.4" r="2.9"/><circle cx="725.2" cy="429.6" r="2.9"/><circle cx="730.6" cy="430.5" r="2.9"/><circle cx="729.6" cy="435.1" r="2.9"/><circle cx="728.9" cy="434.9" r="2.9"/><circle cx="734.8" cy="443.2" r="2.9"/><circle cx="738.8" cy="429.5" r="2.9"/><circle cx="722.1" cy="434.3" r="2.9"/><circle cx="726.1" cy="435.3" r="2.9"/><circle cx="727.9" cy="436.8" r="2.9"/><circle cx="723.9" cy="436.7" r="2.9"/><circle cx="724.9" cy="436.5" r="2.9"/><circle cx="739.6" cy="428.7" r="2.9"/><circle cx="726.8" cy="437.2" r="2.9"/></g>
<path d="M747.5 537.5V423.8M749.1 537.5V424.7M750.7 537.5V423.9M752.2 537.5V413.0M753.8 537.5V422.5M755.4 537.5V429.3M757.0 537.5V438.2M758.5 537.5V437.1M760.1 537.5V435.6M761.7 537.5V434.9M763.3 537.5V433.4M764.9 537.5V443.0M766.4 537.5V444.3M768.0 537.5V447.1M769.6 537.5V447.3M771.2 537.5V441.3M772.7 537.5V442.6M774.3 537.5V443.3M775.9 537.5V447.4M777.5 537.5V422.1M779.0 537.5V413.0M780.6 537.5V413.7M782.2 537.5V409.9" stroke="#00843d" stroke-width="5.0" stroke-linecap="round" fill="none"/>
<g fill="#00843d"><circle cx="752.7" cy="410.2" r="2.9"/><circle cx="752.0" cy="414.6" r="2.9"/><circle cx="747.8" cy="423.8" r="2.9"/><circle cx="757.8" cy="434.2" r="2.9"/><circle cx="763.3" cy="434.2" r="2.9"/><circle cx="773.2" cy="440.5" r="2.9"/><circle cx="779.9" cy="410.6" r="2.9"/><circle cx="768.0" cy="439.9" r="2.9"/><circle cx="755.3" cy="429.6" r="2.9"/><circle cx="752.7" cy="414.4" r="2.9"/><circle cx="756.5" cy="430.3" r="2.9"/><circle cx="769.9" cy="443.0" r="2.9"/><circle cx="748.3" cy="422.7" r="2.9"/><circle cx="770.8" cy="443.1" r="2.9"/><circle cx="758.5" cy="434.7" r="2.9"/><circle cx="774.8" cy="444.2" r="2.9"/><circle cx="750.0" cy="422.3" r="2.9"/><circle cx="761.3" cy="433.8" r="2.9"/><circle cx="769.5" cy="443.4" r="2.9"/><circle cx="753.4" cy="416.5" r="2.9"/><circle cx="761.8" cy="434.8" r="2.9"/></g>
<path d="M786.9 537.5V413.3M788.5 537.5V408.2M790.2 537.5V421.5M791.8 537.5V437.6M793.4 537.5V452.9M795.0 537.5V464.3M796.7 537.5V469.6M798.3 537.5V474.0M799.9 537.5V482.9M801.6 537.5V484.8M803.2 537.5V481.5M804.8 537.5V483.2M806.4 537.5V479.2M808.1 537.5V462.7M809.7 537.5V452.9M811.3 537.5V437.1M813.0 537.5V435.0M814.6 537.5V430.2M816.2 537.5V431.8M817.8 537.5V422.3M819.5 537.5V414.9M821.1 537.5V409.4" stroke="#5fabee" stroke-width="5.0" stroke-linecap="round" fill="none"/>
<g fill="#5fabee"><circle cx="789.0" cy="378.9" r="2.9"/><circle cx="797.7" cy="440.5" r="2.9"/><circle cx="796.8" cy="447.8" r="2.9"/><circle cx="801.3" cy="450.5" r="2.9"/><circle cx="800.4" cy="455.0" r="2.9"/><circle cx="795.5" cy="464.1" r="2.9"/><circle cx="800.4" cy="467.7" r="2.9"/><circle cx="813.1" cy="407.0" r="2.9"/><circle cx="812.6" cy="416.0" r="2.9"/><circle cx="808.6" cy="456.1" r="2.9"/><circle cx="790.3" cy="417.1" r="2.9"/><circle cx="799.6" cy="478.0" r="2.9"/><circle cx="792.2" cy="438.8" r="2.9"/><circle cx="804.7" cy="475.5" r="2.9"/><circle cx="790.9" cy="426.4" r="2.9"/><circle cx="814.1" cy="427.2" r="2.9"/><circle cx="793.9" cy="453.7" r="2.9"/><circle cx="818.7" cy="408.1" r="2.9"/><circle cx="803.4" cy="481.9" r="2.9"/><circle cx="818.1" cy="413.7" r="2.9"/><circle cx="817.4" cy="419.8" r="2.9"/><circle cx="814.8" cy="431.0" r="2.9"/><circle cx="813.5" cy="431.6" r="2.9"/></g>
<path d="M825.8 537.5V405.4M827.4 537.5V402.3M829.0 537.5V408.9M830.7 537.5V419.4M832.3 537.5V421.9M833.9 537.5V423.0M835.5 537.5V430.4M837.2 537.5V447.6M838.8 537.5V460.6M840.4 537.5V466.0M842.0 537.5V465.9M843.6 537.5V465.3M845.3 537.5V472.3M846.9 537.5V465.5M848.5 537.5V459.7M850.1 537.5V459.6M851.8 537.5V438.4M853.4 537.5V426.8M855.0 537.5V417.9" stroke="#d870d8" stroke-width="5.0" stroke-linecap="round" fill="none"/>
<g fill="#d870d8"><circle cx="830.3" cy="371.6" r="2.9"/><circle cx="832.1" cy="374.4" r="2.9"/><circle cx="833.6" cy="389.8" r="2.9"/><circle cx="832.1" cy="394.3" r="2.9"/><circle cx="833.9" cy="405.2" r="2.9"/><circle cx="826.7" cy="399.7" r="2.9"/><circle cx="844.5" cy="422.8" r="2.9"/><circle cx="841.6" cy="439.1" r="2.9"/><circle cx="839.4" cy="448.1" r="2.9"/><circle cx="841.8" cy="463.1" r="2.9"/><circle cx="834.9" cy="420.6" r="2.9"/><circle cx="842.7" cy="464.5" r="2.9"/><circle cx="844.8" cy="465.2" r="2.9"/><circle cx="838.6" cy="455.9" r="2.9"/><circle cx="843.7" cy="464.6" r="2.9"/><circle cx="832.9" cy="415.5" r="2.9"/><circle cx="848.3" cy="458.8" r="2.9"/><circle cx="831.3" cy="414.5" r="2.9"/><circle cx="829.2" cy="410.3" r="2.9"/><circle cx="838.4" cy="454.7" r="2.9"/><circle cx="838.7" cy="453.8" r="2.9"/><circle cx="827.4" cy="400.2" r="2.9"/></g>
<path d="M742.3 537.5V362.1" stroke="#d870d8" stroke-width="4.6" stroke-linecap="round"/>
<line x1="135.2" y1="470.0" x2="135.2" y2="539.5" stroke="#666" stroke-width="0.5" stroke-dasharray="3 4" opacity="0.6"/>
<line x1="172.0" y1="470.0" x2="172.0" y2="539.5" stroke="#666" stroke-width="0.5" stroke-dasharray="3 4" opacity="0.6"/>
<line x1="199.4" y1="470.0" x2="199.4" y2="539.5" stroke="#666" stroke-width="0.5" stroke-dasharray="3 4" opacity="0.6"/>
<line x1="240.0" y1="470.0" x2="240.0" y2="539.5" stroke="#666" stroke-width="0.5" stroke-dasharray="3 4" opacity="0.6"/>
<line x1="282.6" y1="470.0" x2="282.6" y2="539.5" stroke="#666" stroke-width="0.5" stroke-dasharray="3 4" opacity="0.6"/>
<line x1="318.3" y1="470.0" x2="318.3" y2="539.5" stroke="#666" stroke-width="0.5" stroke-dasharray="3 4" opacity="0.6"/>
<line x1="357.5" y1="470.0" x2="357.5" y2="539.5" stroke="#666" stroke-width="0.5" stroke-dasharray="3 4" opacity="0.6"/>
<line x1="400.5" y1="470.0" x2="400.5" y2="539.5" stroke="#666" stroke-width="0.5" stroke-dasharray="3 4" opacity="0.6"/>
<line x1="434.1" y1="470.0" x2="434.1" y2="539.5" stroke="#666" stroke-width="0.5" stroke-dasharray="3 4" opacity="0.6"/>
<line x1="473.3" y1="470.0" x2="473.3" y2="539.5" stroke="#666" stroke-width="0.5" stroke-dasharray="3 4" opacity="0.6"/>
<line x1="509.4" y1="470.0" x2="509.4" y2="539.5" stroke="#666" stroke-width="0.5" stroke-dasharray="3 4" opacity="0.6"/>
<line x1="537.6" y1="470.0" x2="537.6" y2="539.5" stroke="#666" stroke-width="0.5" stroke-dasharray="3 4" opacity="0.6"/>
<line x1="575.4" y1="470.0" x2="575.4" y2="539.5" stroke="#666" stroke-width="0.5" stroke-dasharray="3 4" opacity="0.6"/>
<line x1="613.4" y1="470.0" x2="613.4" y2="539.5" stroke="#666" stroke-width="0.5" stroke-dasharray="3 4" opacity="0.6"/>
<line x1="644.5" y1="470.0" x2="644.5" y2="539.5" stroke="#666" stroke-width="0.5" stroke-dasharray="3 4" opacity="0.6"/>
<line x1="678.4" y1="470.0" x2="678.4" y2="539.5" stroke="#666" stroke-width="0.5" stroke-dasharray="3 4" opacity="0.6"/>
<line x1="716.5" y1="470.0" x2="716.5" y2="539.5" stroke="#666" stroke-width="0.5" stroke-dasharray="3 4" opacity="0.6"/>
<line x1="745.1" y1="470.0" x2="745.1" y2="539.5" stroke="#666" stroke-width="0.5" stroke-dasharray="3 4" opacity="0.6"/>
<line x1="784.5" y1="470.0" x2="784.5" y2="539.5" stroke="#666" stroke-width="0.5" stroke-dasharray="3 4" opacity="0.6"/>
<line x1="823.4" y1="470.0" x2="823.4" y2="539.5" stroke="#666" stroke-width="0.5" stroke-dasharray="3 4" opacity="0.6"/>
<line x1="100.7" y1="318.3" x2="100.7" y2="537.5" stroke="#000" stroke-width="1.2"/>
<line x1="94.0" y1="537.5" x2="100.7" y2="537.5" stroke="#000" stroke-width="1.2"/>
<text x="83.0" y="542.9" font-size="15" text-anchor="end">0</text>
<line x1="94.0" y1="493.6" x2="100.7" y2="493.6" stroke="#000" stroke-width="1.2"/>
<text x="83.0" y="499.0" font-size="15" text-anchor="end">1</text>
<line x1="94.0" y1="449.8" x2="100.7" y2="449.8" stroke="#000" stroke-width="1.2"/>
<text x="83.0" y="455.2" font-size="15" text-anchor="end">2</text>
<line x1="94.0" y1="405.9" x2="100.7" y2="405.9" stroke="#000" stroke-width="1.2"/>
<text x="83.0" y="411.3" font-size="15" text-anchor="end">3</text>
<line x1="94.0" y1="362.1" x2="100.7" y2="362.1" stroke="#000" stroke-width="1.2"/>
<text x="83.0" y="367.5" font-size="15" text-anchor="end">4</text>
<line x1="94.0" y1="318.2" x2="100.7" y2="318.2" stroke="#000" stroke-width="1.2"/>
<text x="83.0" y="323.6" font-size="15" text-anchor="end">5</text>
<line x1="100.6" y1="546.4" x2="856.0" y2="546.4" stroke="#000" stroke-width="1.2"/>
<line x1="100.6" y1="546.4" x2="100.6" y2="552.8" stroke="#000" stroke-width="1.2"/>
<line x1="118.9" y1="546.4" x2="118.9" y2="552.8" stroke="#000" stroke-width="1.2"/>
<line x1="152.6" y1="546.4" x2="152.6" y2="552.8" stroke="#000" stroke-width="1.2"/>
<line x1="185.5" y1="546.4" x2="185.5" y2="552.8" stroke="#000" stroke-width="1.2"/>
<line x1="219.8" y1="546.4" x2="219.8" y2="552.8" stroke="#000" stroke-width="1.2"/>
<line x1="261.4" y1="546.4" x2="261.4" y2="552.8" stroke="#000" stroke-width="1.2"/>
<line x1="300.3" y1="546.4" x2="300.3" y2="552.8" stroke="#000" stroke-width="1.2"/>
<line x1="337.0" y1="546.4" x2="337.0" y2="552.8" stroke="#000" stroke-width="1.2"/>
<line x1="379.0" y1="546.4" x2="379.0" y2="552.8" stroke="#000" stroke-width="1.2"/>
<line x1="417.5" y1="546.4" x2="417.5" y2="552.8" stroke="#000" stroke-width="1.2"/>
<line x1="453.6" y1="546.4" x2="453.6" y2="552.8" stroke="#000" stroke-width="1.2"/>
<line x1="491.4" y1="546.4" x2="491.4" y2="552.8" stroke="#000" stroke-width="1.2"/>
<line x1="523.3" y1="546.4" x2="523.3" y2="552.8" stroke="#000" stroke-width="1.2"/>
<line x1="556.6" y1="546.4" x2="556.6" y2="552.8" stroke="#000" stroke-width="1.2"/>
<line x1="594.7" y1="546.4" x2="594.7" y2="552.8" stroke="#000" stroke-width="1.2"/>
<line x1="628.7" y1="546.4" x2="628.7" y2="552.8" stroke="#000" stroke-width="1.2"/>
<line x1="660.6" y1="546.4" x2="660.6" y2="552.8" stroke="#000" stroke-width="1.2"/>
<line x1="697.0" y1="546.4" x2="697.0" y2="552.8" stroke="#000" stroke-width="1.2"/>
<line x1="731.0" y1="546.4" x2="731.0" y2="552.8" stroke="#000" stroke-width="1.2"/>
<line x1="764.6" y1="546.4" x2="764.6" y2="552.8" stroke="#000" stroke-width="1.2"/>
<line x1="803.8" y1="546.4" x2="803.8" y2="552.8" stroke="#000" stroke-width="1.2"/>
<line x1="840.9" y1="546.4" x2="840.9" y2="552.8" stroke="#000" stroke-width="1.2"/>
<text x="118.9" y="574.5" font-size="15" text-anchor="middle">1A</text>
<text x="154.3" y="574.5" font-size="15" text-anchor="middle">1B</text>
<text x="187.6" y="574.5" font-size="15" text-anchor="middle">1D</text>
<text x="220.5" y="574.5" font-size="15" text-anchor="middle">2A</text>
<text x="256.6" y="574.5" font-size="15" text-anchor="middle">2B</text>
<text x="302.7" y="574.5" font-size="15" text-anchor="middle">2D</text>
<text x="339.8" y="574.5" font-size="15" text-anchor="middle">3A</text>
<text x="380.7" y="574.5" font-size="15" text-anchor="middle">3B</text>
<text x="417.8" y="574.5" font-size="15" text-anchor="middle">3D</text>
<text x="455.3" y="574.5" font-size="15" text-anchor="middle">4A</text>
<text x="495.9" y="574.5" font-size="15" text-anchor="middle">4B</text>
<text x="528.8" y="574.5" font-size="15" text-anchor="middle">4D</text>
<text x="562.5" y="574.5" font-size="15" text-anchor="middle">5A</text>
<text x="598.9" y="574.5" font-size="15" text-anchor="middle">5B</text>
<text x="635.6" y="574.5" font-size="15" text-anchor="middle">5D</text>
<text x="668.2" y="574.5" font-size="15" text-anchor="middle">6A</text>
<text x="700.5" y="574.5" font-size="15" text-anchor="middle">6B</text>
<text x="733.4" y="574.5" font-size="15" text-anchor="middle">6D</text>
<text x="766.3" y="574.5" font-size="15" text-anchor="middle">7A</text>
<text x="803.4" y="574.5" font-size="15" text-anchor="middle">7B</text>
<text x="839.9" y="574.5" font-size="15" text-anchor="middle">7D</text>
<text x="440.5" y="600.0" font-size="18" text-anchor="middle">Chromosome</text>
<text x="55" y="431" font-size="15" text-anchor="middle" transform="rotate(-90 55 431)">−Log<tspan font-size="10" dy="3">10</tspan><tspan dy="-3"> (</tspan><tspan font-style="italic">P</tspan>)</text>
<rect x="363.4" y="274.3" width="151.6" height="36.3" fill="#00ad50" stroke="#2e4fa2" stroke-width="1.3"/>
<text x="439.8" y="299.6" font-size="20.5" text-anchor="middle">660K Chip</text>
<text x="175.8" y="354.3" font-size="17.5" font-style="italic">Tanfd4</text>
<text x="519.5" y="364.3" font-size="17.5" font-style="italic">TaHDP21</text>
<text x="677.2" y="315.8" font-size="17.5" font-style="italic">TaHSP18.6</text>
<line x1="202.5" y1="364.5" x2="213.7" y2="381.8" stroke="#ff0000" stroke-width="2.2"/>
<polygon points="218.0,388.5 210.1,384.1 217.2,379.5" fill="#ff0000"/>
<line x1="541.5" y1="373.5" x2="526.6" y2="387.5" stroke="#ff0000" stroke-width="2.2"/>
<polygon points="520.8,393.0 523.7,384.5 529.5,390.6" fill="#ff0000"/>
<ellipse cx="710.2" cy="365.4" rx="9" ry="41" fill="none" stroke="#ff0000" stroke-width="2.2" stroke-dasharray="6 3"/>
<line x1="678.4" y1="547.0" x2="101.5" y2="667.5" stroke="#ff0000" stroke-width="2.2" stroke-dasharray="11 7"/>
<line x1="716.5" y1="547.0" x2="598.0" y2="667.0" stroke="#ff0000" stroke-width="2.2" stroke-dasharray="11 7"/>
<line x1="562.5" y1="848.5" x2="98.0" y2="915.0" stroke="#ff0000" stroke-width="2.2" stroke-dasharray="11 7"/>
<line x1="579.5" y1="848.5" x2="596.0" y2="915.0" stroke="#ff0000" stroke-width="2.2" stroke-dasharray="11 7"/>
<path d="M102.5 844.4V666.4H600.4V844.4" fill="none" stroke="#000" stroke-width="1.1"/>
<path d="M99.3 843.9V826.3M101.2 843.9V793.4M103.1 843.9V792.3M105.0 843.9V788.7M106.9 843.9V790.7M108.8 843.9V795.7M110.7 843.9V798.5M112.6 843.9V795.5M114.5 843.9V787.3M116.4 843.9V803.5M118.3 843.9V795.2M120.2 843.9V797.4M122.1 843.9V743.5M124.0 843.9V753.8M125.9 843.9V746.9M127.8 843.9V785.7M129.7 843.9V792.4M131.6 843.9V787.5M133.5 843.9V787.8M135.4 843.9V750.2M137.3 843.9V762.5M139.2 843.9V801.7M141.1 843.9V801.6M143.0 843.9V793.2M144.9 843.9V807.8M146.8 843.9V807.0M148.7 843.9V809.0M150.6 843.9V811.2M152.5 843.9V810.4M154.4 843.9V795.9M156.3 843.9V793.0M158.2 843.9V803.4M160.1 843.9V767.8M162.0 843.9V774.7M163.9 843.9V762.9M165.8 843.9V772.4M167.7 843.9V763.6M169.6 843.9V772.4M171.5 843.9V763.6M173.4 843.9V772.2M175.3 843.9V764.7M177.2 843.9V758.4M179.1 843.9V785.3M181.0 843.9V793.1M182.9 843.9V793.6M184.8 843.9V786.1M186.7 843.9V802.1M188.6 843.9V803.7M190.5 843.9V800.4M192.4 843.9V797.3M194.3 843.9V798.5M196.2 843.9V796.8M198.1 843.9V804.8M200.0 843.9V798.9M201.9 843.9V801.1M203.8 843.9V798.5M205.7 843.9V801.0M207.6 843.9V795.2M209.5 843.9V799.2M211.4 843.9V798.8M213.3 843.9V796.4M215.2 843.9V799.6M217.1 843.9V777.3M219.0 843.9V787.8M220.9 843.9V782.7M222.8 843.9V780.7M224.7 843.9V770.4M226.6 843.9V779.1M228.5 843.9V822.9M230.4 843.9V821.4M232.3 843.9V819.1M234.2 843.9V823.9M236.1 843.9V822.7M238.0 843.9V820.5M239.9 843.9V823.5M241.8 843.9V818.1M243.7 843.9V822.8M245.6 843.9V820.2M247.5 843.9V829.9M249.4 843.9V827.7M251.3 843.9V827.0M253.2 843.9V827.6M255.1 843.9V818.1M257.0 843.9V817.0M258.9 843.9V814.5M260.8 843.9V815.7M262.7 843.9V814.0M264.6 843.9V816.6M266.5 843.9V817.3M268.4 843.9V821.9M270.3 843.9V823.0M272.2 843.9V820.5M274.1 843.9V817.8M276.0 843.9V822.1M277.9 843.9V819.9M279.8 843.9V820.9M281.7 843.9V821.5M283.6 843.9V821.9M285.5 843.9V822.4M287.4 843.9V822.9M289.3 843.9V820.7M291.2 843.9V820.1M293.1 843.9V824.4M295.0 843.9V822.5M296.9 843.9V823.8M298.8 843.9V826.4M300.7 843.9V819.8M302.6 843.9V820.8M304.5 843.9V822.0M306.4 843.9V822.0M308.3 843.9V825.6M310.2 843.9V825.6M312.1 843.9V822.5M314.0 843.9V823.0M315.9 843.9V821.5M317.8 843.9V822.5M319.7 843.9V819.3M321.6 843.9V820.9M323.5 843.9V821.6M325.4 843.9V822.7M327.3 843.9V821.1M329.2 843.9V822.0M331.1 843.9V818.5M333.0 843.9V823.4M334.9 843.9V823.8M336.8 843.9V823.0M338.7 843.9V820.7M340.6 843.9V817.7M342.5 843.9V819.2M344.4 843.9V820.4M346.3 843.9V820.1M348.2 843.9V817.6M350.1 843.9V822.8M352.0 843.9V819.4M353.9 843.9V824.7M355.8 843.9V818.8M357.7 843.9V816.4M359.6 843.9V822.5M361.5 843.9V823.6M363.4 843.9V819.1M365.3 843.9V824.5M367.2 843.9V821.5M369.1 843.9V817.7M371.0 843.9V818.7M372.9 843.9V820.9M374.8 843.9V821.1M376.7 843.9V824.2M378.6 843.9V824.0M380.5 843.9V824.5M382.4 843.9V820.3M384.3 843.9V826.2M386.2 843.9V821.5M388.1 843.9V823.7M390.0 843.9V821.8M391.9 843.9V826.5M393.8 843.9V823.0M395.7 843.9V820.8M397.6 843.9V823.8M399.5 843.9V821.3M401.4 843.9V824.5M403.3 843.9V824.8M405.2 843.9V824.8M407.1 843.9V824.9M409.0 843.9V824.9M410.9 843.9V821.5M412.8 843.9V824.2M414.7 843.9V823.6M416.6 843.9V827.0M418.5 843.9V825.6M420.4 843.9V823.2M422.3 843.9V824.5M424.2 843.9V807.8M426.1 843.9V804.3M428.0 843.9V811.7M429.9 843.9V806.1M431.8 843.9V802.3M433.7 843.9V804.3M435.6 843.9V805.1M437.5 843.9V809.1M439.4 843.9V813.1M441.3 843.9V811.3M443.2 843.9V812.2M445.1 843.9V814.1M447.0 843.9V814.1M448.9 843.9V818.3M450.8 843.9V818.7M452.7 843.9V815.6M454.6 843.9V813.0M456.5 843.9V814.0M458.4 843.9V818.5M460.3 843.9V815.3M462.2 843.9V819.4M464.1 843.9V817.2M466.0 843.9V816.9M467.9 843.9V819.5M469.8 843.9V815.4M471.7 843.9V794.0M473.6 843.9V798.4M475.5 843.9V797.2M477.4 843.9V796.4M479.3 843.9V798.2M481.2 843.9V796.4M483.1 843.9V788.3M485.0 843.9V791.2M486.9 843.9V793.9M488.8 843.9V814.1M490.7 843.9V811.5M492.6 843.9V815.7M494.5 843.9V816.6M496.4 843.9V808.7M498.3 843.9V815.0M500.2 843.9V812.5M502.1 843.9V813.7M504.0 843.9V775.3M505.9 843.9V776.2M507.8 843.9V767.8M509.7 843.9V776.3M511.6 843.9V774.4M513.5 843.9V775.6M515.4 843.9V774.4M517.3 843.9V771.3M519.2 843.9V817.3M521.1 843.9V815.7M523.0 843.9V813.7M524.9 843.9V806.0M526.8 843.9V802.1M528.7 843.9V809.0M530.6 843.9V802.5M532.5 843.9V805.6M534.4 843.9V805.7M536.3 843.9V809.5M538.2 843.9V810.2M540.1 843.9V807.7M542.0 843.9V803.5M543.9 843.9V812.7M545.8 843.9V811.7M547.7 843.9V799.4M549.6 843.9V803.6M551.5 843.9V800.0M553.4 843.9V803.9M555.3 843.9V806.9M557.2 843.9V803.7M559.1 843.9V801.8M561.0 843.9V796.9M562.9 843.9V810.4M564.8 843.9V804.2M566.7 843.9V801.0M568.6 843.9V767.1M570.5 843.9V771.9M572.4 843.9V765.7M574.3 843.9V780.8M576.2 843.9V806.4M578.1 843.9V807.8M580.0 843.9V807.2M581.9 843.9V782.3M583.8 843.9V784.3M585.7 843.9V782.5M587.6 843.9V782.3M589.5 843.9V784.1M591.4 843.9V775.8M593.3 843.9V781.3M595.2 843.9V777.8M597.1 843.9V782.0M599.0 843.9V784.6M600.9 843.9V783.3M602.8 843.9V783.2" stroke="#ffc000" stroke-width="6.4" stroke-linecap="round" fill="none"/>
<g fill="#ffc000"><circle cx="103.8" cy="774.0" r="3.2"/><circle cx="113.2" cy="786.2" r="3.2"/><circle cx="114.5" cy="785.8" r="3.2"/><circle cx="118.9" cy="793.3" r="3.2"/><circle cx="126.9" cy="725.9" r="3.2"/><circle cx="128.3" cy="783.1" r="3.2"/><circle cx="130.6" cy="786.2" r="3.2"/><circle cx="135.7" cy="754.4" r="3.2"/><circle cx="136.7" cy="739.8" r="3.2"/><circle cx="140.4" cy="793.1" r="3.2"/><circle cx="142.5" cy="794.0" r="3.2"/><circle cx="148.8" cy="801.8" r="3.2"/><circle cx="150.7" cy="797.3" r="3.2"/><circle cx="154.0" cy="793.2" r="3.2"/><circle cx="161.1" cy="755.6" r="3.2"/><circle cx="166.4" cy="754.1" r="3.2"/><circle cx="168.5" cy="763.8" r="3.2"/><circle cx="179.5" cy="778.1" r="3.2"/><circle cx="181.8" cy="785.2" r="3.2"/><circle cx="182.2" cy="786.7" r="3.2"/><circle cx="191.8" cy="800.4" r="3.2"/><circle cx="195.4" cy="795.0" r="3.2"/><circle cx="197.1" cy="795.3" r="3.2"/><circle cx="200.9" cy="790.2" r="3.2"/><circle cx="201.8" cy="789.4" r="3.2"/><circle cx="204.5" cy="794.8" r="3.2"/><circle cx="206.2" cy="781.2" r="3.2"/><circle cx="210.2" cy="786.1" r="3.2"/><circle cx="216.9" cy="770.2" r="3.2"/><circle cx="218.4" cy="772.2" r="3.2"/><circle cx="227.3" cy="758.9" r="3.2"/><circle cx="231.9" cy="811.9" r="3.2"/><circle cx="233.9" cy="815.9" r="3.2"/><circle cx="241.2" cy="815.4" r="3.2"/><circle cx="243.5" cy="812.0" r="3.2"/><circle cx="248.0" cy="822.7" r="3.2"/><circle cx="248.9" cy="821.5" r="3.2"/><circle cx="254.9" cy="807.7" r="3.2"/><circle cx="256.9" cy="810.1" r="3.2"/><circle cx="259.2" cy="809.1" r="3.2"/><circle cx="260.9" cy="811.7" r="3.2"/><circle cx="262.8" cy="809.3" r="3.2"/><circle cx="268.9" cy="814.8" r="3.2"/><circle cx="270.1" cy="817.8" r="3.2"/><circle cx="271.7" cy="815.2" r="3.2"/><circle cx="274.7" cy="816.4" r="3.2"/><circle cx="280.1" cy="811.3" r="3.2"/><circle cx="284.3" cy="816.5" r="3.2"/><circle cx="284.5" cy="814.2" r="3.2"/><circle cx="297.8" cy="817.5" r="3.2"/><circle cx="299.4" cy="819.6" r="3.2"/><circle cx="301.5" cy="815.5" r="3.2"/><circle cx="307.2" cy="818.0" r="3.2"/><circle cx="310.2" cy="817.1" r="3.2"/><circle cx="316.8" cy="819.0" r="3.2"/><circle cx="320.7" cy="815.9" r="3.2"/><circle cx="327.1" cy="814.2" r="3.2"/><circle cx="329.2" cy="817.2" r="3.2"/><circle cx="333.2" cy="813.9" r="3.2"/><circle cx="335.8" cy="815.9" r="3.2"/><circle cx="345.7" cy="816.2" r="3.2"/><circle cx="348.8" cy="812.6" r="3.2"/><circle cx="349.7" cy="814.4" r="3.2"/><circle cx="354.8" cy="814.9" r="3.2"/><circle cx="360.5" cy="815.1" r="3.2"/><circle cx="366.3" cy="812.0" r="3.2"/><circle cx="369.4" cy="813.5" r="3.2"/><circle cx="373.2" cy="814.5" r="3.2"/><circle cx="375.5" cy="816.5" r="3.2"/><circle cx="377.1" cy="818.6" r="3.2"/><circle cx="386.4" cy="814.2" r="3.2"/><circle cx="388.9" cy="817.9" r="3.2"/><circle cx="391.7" cy="816.3" r="3.2"/><circle cx="398.7" cy="816.5" r="3.2"/><circle cx="405.7" cy="816.7" r="3.2"/><circle cx="412.2" cy="817.6" r="3.2"/><circle cx="421.4" cy="813.9" r="3.2"/><circle cx="424.8" cy="798.6" r="3.2"/><circle cx="427.4" cy="805.5" r="3.2"/><circle cx="432.0" cy="802.3" r="3.2"/><circle cx="438.4" cy="796.5" r="3.2"/><circle cx="440.2" cy="794.6" r="3.2"/><circle cx="442.5" cy="804.1" r="3.2"/><circle cx="446.5" cy="810.7" r="3.2"/><circle cx="449.3" cy="810.5" r="3.2"/><circle cx="453.8" cy="803.2" r="3.2"/><circle cx="457.1" cy="807.5" r="3.2"/><circle cx="458.8" cy="809.0" r="3.2"/><circle cx="459.6" cy="810.7" r="3.2"/><circle cx="465.1" cy="811.9" r="3.2"/><circle cx="467.6" cy="805.0" r="3.2"/><circle cx="470.6" cy="812.6" r="3.2"/><circle cx="472.3" cy="785.9" r="3.2"/><circle cx="476.8" cy="777.9" r="3.2"/><circle cx="479.5" cy="783.3" r="3.2"/><circle cx="482.2" cy="779.7" r="3.2"/><circle cx="490.1" cy="803.1" r="3.2"/><circle cx="494.5" cy="807.3" r="3.2"/><circle cx="496.8" cy="805.0" r="3.2"/><circle cx="503.5" cy="750.6" r="3.2"/><circle cx="504.9" cy="752.4" r="3.2"/><circle cx="508.5" cy="752.4" r="3.2"/><circle cx="510.9" cy="751.3" r="3.2"/><circle cx="520.8" cy="808.9" r="3.2"/><circle cx="526.6" cy="799.1" r="3.2"/><circle cx="528.7" cy="805.7" r="3.2"/><circle cx="536.4" cy="795.4" r="3.2"/><circle cx="539.1" cy="802.6" r="3.2"/><circle cx="541.9" cy="801.0" r="3.2"/><circle cx="543.7" cy="802.8" r="3.2"/><circle cx="553.4" cy="792.6" r="3.2"/><circle cx="559.6" cy="797.3" r="3.2"/><circle cx="560.8" cy="791.4" r="3.2"/><circle cx="564.5" cy="794.9" r="3.2"/><circle cx="581.7" cy="769.8" r="3.2"/><circle cx="585.3" cy="775.4" r="3.2"/><circle cx="592.2" cy="779.7" r="3.2"/><circle cx="602.6" cy="768.9" r="3.2"/></g>
<g fill="#ffc000"><circle cx="104.3" cy="776.1" r="3.2"/><circle cx="106.8" cy="776.1" r="3.2"/><circle cx="112.4" cy="734.5" r="3.2"/><circle cx="111.1" cy="752.9" r="3.2"/><circle cx="112.4" cy="765.2" r="3.2"/><circle cx="123.5" cy="722.9" r="3.2"/><circle cx="128.3" cy="776.1" r="3.2"/><circle cx="136.1" cy="741.3" r="3.2"/><circle cx="136.1" cy="750.9" r="3.2"/><circle cx="140.4" cy="768.0" r="3.2"/><circle cx="144.6" cy="784.1" r="3.2"/><circle cx="148.4" cy="773.6" r="3.2"/><circle cx="150.9" cy="772.3" r="3.2"/><circle cx="158.5" cy="725.1" r="3.2"/><circle cx="161.8" cy="713.0" r="3.2"/><circle cx="162.8" cy="714.3" r="3.2"/><circle cx="164.8" cy="724.9" r="3.2"/><circle cx="163.6" cy="737.7" r="3.2"/><circle cx="181.2" cy="764.7" r="3.2"/><circle cx="182.5" cy="773.6" r="3.2"/><circle cx="181.2" cy="781.1" r="3.2"/><circle cx="199.4" cy="784.9" r="3.2"/><circle cx="205.2" cy="774.8" r="3.2"/><circle cx="203.9" cy="778.6" r="3.2"/><circle cx="212.7" cy="767.2" r="3.2"/><circle cx="211.5" cy="777.3" r="3.2"/><circle cx="216.5" cy="771.0" r="3.2"/><circle cx="224.1" cy="760.9" r="3.2"/><circle cx="227.3" cy="738.3" r="3.2"/><circle cx="229.1" cy="745.8" r="3.2"/><circle cx="237.4" cy="757.2" r="3.2"/><circle cx="236.7" cy="764.7" r="3.2"/><circle cx="241.0" cy="764.7" r="3.2"/><circle cx="240.5" cy="775.3" r="3.2"/><circle cx="237.4" cy="779.9" r="3.2"/><circle cx="240.5" cy="795.5" r="3.2"/><circle cx="241.2" cy="808.3" r="3.2"/><circle cx="229.1" cy="805.8" r="3.2"/><circle cx="249.3" cy="788.7" r="3.2"/><circle cx="256.3" cy="786.2" r="3.2"/><circle cx="252.6" cy="798.3" r="3.2"/><circle cx="252.6" cy="808.3" r="3.2"/><circle cx="258.4" cy="768.5" r="3.2"/><circle cx="272.0" cy="807.6" r="3.2"/><circle cx="263.1" cy="812.6" r="3.2"/><circle cx="284.1" cy="740.3" r="3.2"/><circle cx="287.1" cy="778.6" r="3.2"/><circle cx="302.2" cy="748.3" r="3.2"/><circle cx="299.7" cy="779.3" r="3.2"/><circle cx="294.7" cy="810.1" r="3.2"/><circle cx="309.3" cy="798.8" r="3.2"/><circle cx="311.1" cy="808.9" r="3.2"/><circle cx="326.9" cy="797.0" r="3.2"/><circle cx="324.9" cy="805.1" r="3.2"/><circle cx="333.7" cy="738.8" r="3.2"/><circle cx="342.6" cy="798.8" r="3.2"/><circle cx="350.6" cy="802.0" r="3.2"/><circle cx="348.1" cy="745.8" r="3.2"/><circle cx="340.1" cy="811.4" r="3.2"/><circle cx="191.3" cy="791.2" r="3.2"/><circle cx="185.0" cy="787.4" r="3.2"/><circle cx="176.2" cy="768.5" r="3.2"/><circle cx="171.1" cy="763.5" r="3.2"/><circle cx="166.1" cy="760.9" r="3.2"/><circle cx="348.3" cy="745.8" r="3.2"/><circle cx="342.5" cy="798.8" r="3.2"/><circle cx="350.6" cy="802.0" r="3.2"/><circle cx="340.0" cy="810.1" r="3.2"/><circle cx="380.3" cy="802.0" r="3.2"/><circle cx="377.8" cy="816.4" r="3.2"/><circle cx="387.4" cy="748.8" r="3.2"/><circle cx="393.5" cy="779.9" r="3.2"/><circle cx="391.7" cy="797.5" r="3.2"/><circle cx="390.4" cy="810.1" r="3.2"/><circle cx="405.1" cy="805.6" r="3.2"/><circle cx="415.6" cy="810.1" r="3.2"/><circle cx="424.5" cy="791.2" r="3.2"/><circle cx="428.8" cy="789.2" r="3.2"/><circle cx="429.5" cy="771.8" r="3.2"/><circle cx="437.1" cy="754.6" r="3.2"/><circle cx="452.2" cy="777.3" r="3.2"/><circle cx="452.2" cy="788.2" r="3.2"/><circle cx="461.8" cy="781.1" r="3.2"/><circle cx="461.8" cy="808.9" r="3.2"/><circle cx="468.6" cy="772.8" r="3.2"/><circle cx="466.1" cy="798.3" r="3.2"/><circle cx="479.9" cy="774.8" r="3.2"/><circle cx="483.7" cy="781.1" r="3.2"/><circle cx="474.9" cy="787.4" r="3.2"/><circle cx="485.0" cy="787.4" r="3.2"/><circle cx="496.3" cy="797.0" r="3.2"/><circle cx="500.1" cy="789.9" r="3.2"/><circle cx="512.7" cy="759.7" r="3.2"/><circle cx="507.7" cy="762.2" r="3.2"/><circle cx="525.8" cy="767.2" r="3.2"/><circle cx="525.8" cy="774.8" r="3.2"/><circle cx="536.2" cy="781.9" r="3.2"/><circle cx="534.2" cy="795.0" r="3.2"/><circle cx="559.9" cy="778.6" r="3.2"/><circle cx="568.7" cy="688.3" r="3.2"/><circle cx="568.7" cy="724.4" r="3.2"/><circle cx="568.7" cy="736.5" r="3.2"/><circle cx="574.5" cy="738.3" r="3.2"/><circle cx="574.5" cy="743.3" r="3.2"/><circle cx="590.9" cy="752.6" r="3.2"/><circle cx="590.1" cy="767.2" r="3.2"/><circle cx="599.7" cy="769.8" r="3.2"/><circle cx="516.5" cy="768.5" r="3.2"/><circle cx="517.8" cy="781.1" r="3.2"/><circle cx="541.7" cy="798.8" r="3.2"/><circle cx="554.3" cy="795.0" r="3.2"/></g>
<rect x="561.1" y="677.0" width="17.9" height="170.4" fill="#00b0f0" fill-opacity="0.3"/>
<line x1="561.9" y1="695.4" x2="561.9" y2="847.4" stroke="#2e8b57" stroke-width="1.1" stroke-dasharray="5 3"/>
<line x1="579.5" y1="695.4" x2="579.5" y2="847.4" stroke="#2e8b57" stroke-width="1.1" stroke-dasharray="5 3"/>
<line x1="98.5" y1="844.4" x2="102.5" y2="844.4" stroke="#000" stroke-width="1.1"/>
<text x="90.3" y="849.7" font-size="15" text-anchor="end">0</text>
<line x1="98.5" y1="808.8" x2="102.5" y2="808.8" stroke="#000" stroke-width="1.1"/>
<text x="90.3" y="814.1" font-size="15" text-anchor="end">1</text>
<line x1="98.5" y1="773.2" x2="102.5" y2="773.2" stroke="#000" stroke-width="1.1"/>
<text x="90.3" y="778.5" font-size="15" text-anchor="end">2</text>
<line x1="98.5" y1="737.6" x2="102.5" y2="737.6" stroke="#000" stroke-width="1.1"/>
<text x="90.3" y="742.9" font-size="15" text-anchor="end">3</text>
<line x1="98.5" y1="702.0" x2="102.5" y2="702.0" stroke="#000" stroke-width="1.1"/>
<text x="90.3" y="707.3" font-size="15" text-anchor="end">4</text>
<line x1="98.5" y1="666.4" x2="102.5" y2="666.4" stroke="#000" stroke-width="1.1"/>
<text x="90.3" y="671.7" font-size="15" text-anchor="end">5</text>
<text x="102.5" y="867.6" font-size="15" text-anchor="middle">0</text>
<text x="173.6" y="867.6" font-size="15" text-anchor="middle">100</text>
<text x="244.6" y="867.6" font-size="15" text-anchor="middle">200</text>
<text x="315.6" y="867.6" font-size="15" text-anchor="middle">300</text>
<text x="386.7" y="867.6" font-size="15" text-anchor="middle">400</text>
<text x="457.8" y="867.6" font-size="15" text-anchor="middle">500</text>
<text x="528.8" y="867.6" font-size="15" text-anchor="middle">600</text>
<text x="599.9" y="867.6" font-size="15" text-anchor="middle">700</text>
<text x="613.5" y="850.8" font-size="15">(Mb)</text>
<text x="50.6" y="767.5" font-size="15" text-anchor="middle" transform="rotate(-90 50.6 767.5)">−Log<tspan font-size="10" dy="3">10</tspan><tspan dy="-3"> (</tspan><tspan font-style="italic">P</tspan>)</text>
<path d="M97.5 1089.7V915.2H595.9V1089.7" fill="none" stroke="#000" stroke-width="1.1"/>
<line x1="92.0" y1="1089.7" x2="596.5" y2="1089.7" stroke="#7f7f7f" stroke-width="1.8"/>
<ellipse cx="225.3" cy="961.8" rx="8.3" ry="37.4" fill="#cfdff0"/>
<g fill="#0aacec"><circle cx="154.5" cy="1067.2" r="3.2"/><circle cx="129.0" cy="1075.3" r="3.2"/><circle cx="138.0" cy="1066.7" r="3.2"/><circle cx="119.7" cy="1073.9" r="3.2"/><circle cx="150.4" cy="1079.4" r="3.2"/><circle cx="118.1" cy="1067.0" r="3.2"/><circle cx="151.0" cy="1074.2" r="3.2"/><circle cx="104.7" cy="1068.3" r="3.2"/><circle cx="142.2" cy="1069.4" r="3.2"/><circle cx="161.7" cy="1068.4" r="3.2"/><circle cx="124.8" cy="1079.6" r="3.2"/><circle cx="116.3" cy="1074.2" r="3.2"/><circle cx="130.2" cy="1079.1" r="3.2"/><circle cx="109.3" cy="1072.3" r="3.2"/><circle cx="136.6" cy="1076.6" r="3.2"/><circle cx="161.9" cy="1072.2" r="3.2"/><circle cx="100.2" cy="1075.7" r="3.2"/><circle cx="148.5" cy="1077.3" r="3.2"/><circle cx="142.3" cy="1082.0" r="3.2"/><circle cx="117.2" cy="1069.1" r="3.2"/><circle cx="135.5" cy="1071.8" r="3.2"/><circle cx="110.2" cy="1074.4" r="3.2"/><circle cx="133.3" cy="1077.9" r="3.2"/><circle cx="139.4" cy="1073.9" r="3.2"/><circle cx="162.1" cy="1073.2" r="3.2"/><circle cx="124.1" cy="1080.2" r="3.2"/><circle cx="107.7" cy="1070.4" r="3.2"/><circle cx="104.4" cy="1080.5" r="3.2"/><circle cx="108.5" cy="1074.0" r="3.2"/><circle cx="150.8" cy="1072.6" r="3.2"/><circle cx="149.8" cy="1081.1" r="3.2"/><circle cx="98.3" cy="1070.2" r="3.2"/><circle cx="118.4" cy="1071.0" r="3.2"/><circle cx="120.4" cy="1079.4" r="3.2"/><circle cx="114.8" cy="1080.5" r="3.2"/><circle cx="156.1" cy="1073.1" r="3.2"/><circle cx="120.1" cy="1075.1" r="3.2"/><circle cx="122.5" cy="1081.2" r="3.2"/><circle cx="155.2" cy="1073.1" r="3.2"/><circle cx="159.7" cy="1075.3" r="3.2"/><circle cx="137.7" cy="1078.2" r="3.2"/><circle cx="100.3" cy="1067.7" r="3.2"/><circle cx="152.9" cy="1077.2" r="3.2"/><circle cx="155.7" cy="1069.5" r="3.2"/><circle cx="117.2" cy="1072.8" r="3.2"/><circle cx="159.7" cy="1074.4" r="3.2"/><circle cx="159.0" cy="1078.3" r="3.2"/><circle cx="122.8" cy="1071.0" r="3.2"/><circle cx="111.8" cy="1077.3" r="3.2"/><circle cx="154.2" cy="1074.6" r="3.2"/><circle cx="148.9" cy="1078.3" r="3.2"/><circle cx="108.7" cy="1076.5" r="3.2"/><circle cx="109.6" cy="1067.1" r="3.2"/><circle cx="116.3" cy="1073.4" r="3.2"/><circle cx="104.9" cy="1073.8" r="3.2"/><circle cx="122.5" cy="1075.8" r="3.2"/><circle cx="101.7" cy="1080.1" r="3.2"/><circle cx="151.0" cy="1076.6" r="3.2"/><circle cx="113.4" cy="1079.1" r="3.2"/><circle cx="115.9" cy="1078.4" r="3.2"/><circle cx="99.8" cy="1071.8" r="3.2"/><circle cx="119.6" cy="1079.6" r="3.2"/><circle cx="143.2" cy="1080.6" r="3.2"/><circle cx="115.0" cy="1069.2" r="3.2"/><circle cx="105.8" cy="1075.2" r="3.2"/><circle cx="151.7" cy="1069.7" r="3.2"/><circle cx="107.8" cy="1076.6" r="3.2"/><circle cx="144.3" cy="1076.2" r="3.2"/><circle cx="159.6" cy="1078.8" r="3.2"/><circle cx="159.1" cy="1074.3" r="3.2"/><circle cx="112.2" cy="1075.1" r="3.2"/><circle cx="106.0" cy="1071.2" r="3.2"/><circle cx="114.4" cy="1068.2" r="3.2"/><circle cx="135.6" cy="1076.4" r="3.2"/><circle cx="113.5" cy="1072.7" r="3.2"/><circle cx="111.3" cy="1068.6" r="3.2"/><circle cx="105.5" cy="1074.1" r="3.2"/><circle cx="132.7" cy="1077.9" r="3.2"/><circle cx="147.5" cy="1076.1" r="3.2"/><circle cx="140.1" cy="1073.3" r="3.2"/><circle cx="117.6" cy="1076.0" r="3.2"/><circle cx="103.1" cy="1079.3" r="3.2"/><circle cx="152.6" cy="1077.1" r="3.2"/><circle cx="140.4" cy="1080.3" r="3.2"/><circle cx="133.9" cy="1076.5" r="3.2"/><circle cx="129.9" cy="1077.5" r="3.2"/><circle cx="101.8" cy="1077.2" r="3.2"/><circle cx="112.2" cy="1080.1" r="3.2"/><circle cx="143.9" cy="1077.7" r="3.2"/><circle cx="123.6" cy="1068.1" r="3.2"/><circle cx="168.6" cy="1066.6" r="3.2"/><circle cx="170.9" cy="1086.2" r="3.2"/><circle cx="154.9" cy="1088.9" r="3.2"/><circle cx="166.0" cy="1072.3" r="3.2"/><circle cx="157.0" cy="1078.9" r="3.2"/><circle cx="165.4" cy="1071.4" r="3.2"/><circle cx="154.1" cy="1067.5" r="3.2"/><circle cx="157.0" cy="1073.2" r="3.2"/><circle cx="152.3" cy="1086.7" r="3.2"/><circle cx="172.4" cy="1070.5" r="3.2"/><circle cx="166.9" cy="1088.6" r="3.2"/><circle cx="148.4" cy="1085.5" r="3.2"/><circle cx="152.8" cy="1081.8" r="3.2"/><circle cx="157.8" cy="1088.7" r="3.2"/><circle cx="155.9" cy="1073.0" r="3.2"/><circle cx="152.3" cy="1067.7" r="3.2"/><circle cx="163.0" cy="1070.9" r="3.2"/><circle cx="154.3" cy="1078.3" r="3.2"/><circle cx="166.1" cy="1080.6" r="3.2"/><circle cx="147.4" cy="1067.9" r="3.2"/><circle cx="168.6" cy="1082.2" r="3.2"/><circle cx="148.5" cy="1067.3" r="3.2"/><circle cx="164.0" cy="1088.5" r="3.2"/><circle cx="154.0" cy="1086.8" r="3.2"/><circle cx="169.0" cy="1084.2" r="3.2"/><circle cx="172.4" cy="1070.1" r="3.2"/><circle cx="149.7" cy="1071.5" r="3.2"/><circle cx="158.1" cy="1070.1" r="3.2"/><circle cx="170.1" cy="1082.3" r="3.2"/><circle cx="149.8" cy="1064.9" r="3.2"/><circle cx="159.0" cy="1065.4" r="3.2"/><circle cx="166.3" cy="1070.4" r="3.2"/><circle cx="170.1" cy="1073.3" r="3.2"/><circle cx="159.8" cy="1088.3" r="3.2"/><circle cx="166.5" cy="1078.5" r="3.2"/><circle cx="232.2" cy="1060.5" r="3.2"/><circle cx="187.2" cy="1064.0" r="3.2"/><circle cx="177.4" cy="1065.2" r="3.2"/><circle cx="266.6" cy="1074.5" r="3.2"/><circle cx="236.3" cy="1059.6" r="3.2"/><circle cx="246.9" cy="1068.5" r="3.2"/><circle cx="201.5" cy="1078.7" r="3.2"/><circle cx="214.2" cy="1071.3" r="3.2"/><circle cx="195.9" cy="1073.4" r="3.2"/><circle cx="188.3" cy="1065.1" r="3.2"/><circle cx="250.8" cy="1074.9" r="3.2"/><circle cx="200.6" cy="1069.1" r="3.2"/><circle cx="224.4" cy="1060.3" r="3.2"/><circle cx="213.4" cy="1073.7" r="3.2"/><circle cx="275.9" cy="1077.0" r="3.2"/><circle cx="238.2" cy="1072.9" r="3.2"/><circle cx="267.8" cy="1068.4" r="3.2"/><circle cx="261.3" cy="1076.4" r="3.2"/><circle cx="250.3" cy="1067.4" r="3.2"/><circle cx="226.3" cy="1063.9" r="3.2"/><circle cx="269.6" cy="1077.5" r="3.2"/><circle cx="206.1" cy="1072.4" r="3.2"/><circle cx="196.4" cy="1078.7" r="3.2"/><circle cx="205.2" cy="1075.8" r="3.2"/><circle cx="254.4" cy="1070.5" r="3.2"/><circle cx="185.5" cy="1073.1" r="3.2"/><circle cx="227.2" cy="1072.3" r="3.2"/><circle cx="191.9" cy="1078.4" r="3.2"/><circle cx="173.5" cy="1059.2" r="3.2"/><circle cx="260.2" cy="1078.2" r="3.2"/><circle cx="256.3" cy="1059.4" r="3.2"/><circle cx="238.3" cy="1077.6" r="3.2"/><circle cx="229.5" cy="1070.8" r="3.2"/><circle cx="194.5" cy="1068.6" r="3.2"/><circle cx="173.2" cy="1060.7" r="3.2"/><circle cx="247.7" cy="1066.8" r="3.2"/><circle cx="281.8" cy="1066.3" r="3.2"/><circle cx="201.7" cy="1074.8" r="3.2"/><circle cx="188.5" cy="1079.3" r="3.2"/><circle cx="263.0" cy="1062.3" r="3.2"/><circle cx="207.0" cy="1076.0" r="3.2"/><circle cx="247.0" cy="1062.2" r="3.2"/><circle cx="280.8" cy="1076.4" r="3.2"/><circle cx="264.2" cy="1062.5" r="3.2"/><circle cx="259.2" cy="1073.1" r="3.2"/><circle cx="193.9" cy="1062.6" r="3.2"/><circle cx="209.8" cy="1072.2" r="3.2"/><circle cx="236.8" cy="1072.2" r="3.2"/><circle cx="269.6" cy="1074.9" r="3.2"/><circle cx="177.1" cy="1068.1" r="3.2"/><circle cx="245.8" cy="1062.8" r="3.2"/><circle cx="254.9" cy="1061.0" r="3.2"/><circle cx="282.9" cy="1069.6" r="3.2"/><circle cx="230.8" cy="1076.6" r="3.2"/><circle cx="207.3" cy="1067.8" r="3.2"/><circle cx="181.7" cy="1065.5" r="3.2"/><circle cx="191.4" cy="1070.6" r="3.2"/><circle cx="285.8" cy="1078.1" r="3.2"/><circle cx="176.9" cy="1070.7" r="3.2"/><circle cx="194.6" cy="1064.8" r="3.2"/><circle cx="172.6" cy="1062.3" r="3.2"/><circle cx="272.4" cy="1063.4" r="3.2"/><circle cx="222.1" cy="1074.0" r="3.2"/><circle cx="249.8" cy="1069.2" r="3.2"/><circle cx="221.6" cy="1072.8" r="3.2"/><circle cx="223.6" cy="1066.0" r="3.2"/><circle cx="269.0" cy="1061.0" r="3.2"/><circle cx="191.5" cy="1073.7" r="3.2"/><circle cx="224.2" cy="1068.1" r="3.2"/><circle cx="213.0" cy="1075.8" r="3.2"/><circle cx="182.2" cy="1073.1" r="3.2"/><circle cx="226.2" cy="1059.6" r="3.2"/><circle cx="278.7" cy="1061.8" r="3.2"/><circle cx="286.4" cy="1059.8" r="3.2"/><circle cx="244.9" cy="1062.9" r="3.2"/><circle cx="179.3" cy="1065.8" r="3.2"/><circle cx="243.6" cy="1073.7" r="3.2"/><circle cx="239.2" cy="1060.0" r="3.2"/><circle cx="228.6" cy="1066.4" r="3.2"/><circle cx="207.3" cy="1072.7" r="3.2"/><circle cx="275.9" cy="1079.3" r="3.2"/><circle cx="194.4" cy="1065.7" r="3.2"/><circle cx="224.7" cy="1078.1" r="3.2"/><circle cx="249.6" cy="1072.1" r="3.2"/><circle cx="240.3" cy="1071.2" r="3.2"/><circle cx="234.3" cy="1068.1" r="3.2"/><circle cx="218.7" cy="1077.5" r="3.2"/><circle cx="193.4" cy="1061.3" r="3.2"/><circle cx="236.5" cy="1077.6" r="3.2"/><circle cx="273.2" cy="1074.6" r="3.2"/><circle cx="183.4" cy="1068.8" r="3.2"/><circle cx="201.7" cy="1069.7" r="3.2"/><circle cx="237.1" cy="1075.2" r="3.2"/><circle cx="239.3" cy="1077.6" r="3.2"/><circle cx="232.4" cy="1067.6" r="3.2"/><circle cx="181.7" cy="1071.4" r="3.2"/><circle cx="180.9" cy="1070.7" r="3.2"/><circle cx="273.4" cy="1068.4" r="3.2"/><circle cx="256.0" cy="1064.1" r="3.2"/><circle cx="185.7" cy="1059.2" r="3.2"/><circle cx="256.8" cy="1077.8" r="3.2"/><circle cx="269.5" cy="1071.7" r="3.2"/><circle cx="192.3" cy="1059.8" r="3.2"/><circle cx="238.2" cy="1063.7" r="3.2"/><circle cx="188.3" cy="1063.7" r="3.2"/><circle cx="179.0" cy="1075.0" r="3.2"/><circle cx="215.9" cy="1079.6" r="3.2"/><circle cx="241.9" cy="1075.5" r="3.2"/><circle cx="207.4" cy="1065.1" r="3.2"/><circle cx="222.2" cy="1061.3" r="3.2"/><circle cx="245.0" cy="1061.7" r="3.2"/><circle cx="238.2" cy="1060.7" r="3.2"/><circle cx="274.2" cy="1076.4" r="3.2"/><circle cx="259.6" cy="1072.8" r="3.2"/><circle cx="261.7" cy="1065.7" r="3.2"/><circle cx="269.0" cy="1077.4" r="3.2"/><circle cx="215.9" cy="1064.5" r="3.2"/><circle cx="283.3" cy="1064.8" r="3.2"/><circle cx="177.4" cy="1067.3" r="3.2"/><circle cx="183.9" cy="1068.4" r="3.2"/><circle cx="266.3" cy="1077.6" r="3.2"/><circle cx="280.6" cy="1065.8" r="3.2"/><circle cx="202.1" cy="1075.9" r="3.2"/><circle cx="224.6" cy="1062.4" r="3.2"/><circle cx="240.4" cy="1077.5" r="3.2"/><circle cx="174.7" cy="1077.6" r="3.2"/><circle cx="266.0" cy="1076.0" r="3.2"/><circle cx="237.2" cy="1073.9" r="3.2"/><circle cx="252.7" cy="1072.0" r="3.2"/><circle cx="189.2" cy="1061.6" r="3.2"/><circle cx="235.3" cy="1065.5" r="3.2"/><circle cx="266.9" cy="1060.1" r="3.2"/><circle cx="173.9" cy="1072.8" r="3.2"/><circle cx="189.9" cy="1069.4" r="3.2"/><circle cx="274.5" cy="1063.2" r="3.2"/><circle cx="176.4" cy="1076.1" r="3.2"/><circle cx="268.1" cy="1065.7" r="3.2"/><circle cx="218.2" cy="1070.0" r="3.2"/><circle cx="190.8" cy="1062.2" r="3.2"/><circle cx="218.3" cy="1061.6" r="3.2"/><circle cx="243.8" cy="1078.3" r="3.2"/><circle cx="210.8" cy="1075.4" r="3.2"/><circle cx="277.0" cy="1067.6" r="3.2"/><circle cx="177.4" cy="1076.4" r="3.2"/><circle cx="214.5" cy="1070.1" r="3.2"/><circle cx="239.8" cy="1071.8" r="3.2"/><circle cx="213.7" cy="1079.8" r="3.2"/><circle cx="240.1" cy="1072.9" r="3.2"/><circle cx="174.7" cy="1070.3" r="3.2"/><circle cx="287.8" cy="1079.0" r="3.2"/><circle cx="189.3" cy="1065.9" r="3.2"/><circle cx="204.2" cy="1074.2" r="3.2"/><circle cx="230.8" cy="1074.4" r="3.2"/><circle cx="238.9" cy="1068.9" r="3.2"/><circle cx="284.3" cy="1059.2" r="3.2"/><circle cx="176.3" cy="1068.2" r="3.2"/><circle cx="262.6" cy="1061.7" r="3.2"/><circle cx="262.9" cy="1066.7" r="3.2"/><circle cx="246.6" cy="1072.3" r="3.2"/><circle cx="205.2" cy="1063.3" r="3.2"/><circle cx="274.5" cy="1060.3" r="3.2"/><circle cx="252.1" cy="1073.6" r="3.2"/><circle cx="261.7" cy="1064.4" r="3.2"/><circle cx="231.9" cy="1066.6" r="3.2"/><circle cx="213.3" cy="1068.4" r="3.2"/><circle cx="219.8" cy="1078.7" r="3.2"/><circle cx="211.8" cy="1073.2" r="3.2"/><circle cx="288.0" cy="1069.8" r="3.2"/><circle cx="215.3" cy="1074.8" r="3.2"/><circle cx="199.8" cy="1072.6" r="3.2"/><circle cx="188.1" cy="1079.8" r="3.2"/><circle cx="274.3" cy="1070.4" r="3.2"/><circle cx="224.4" cy="1068.0" r="3.2"/><circle cx="207.7" cy="1076.4" r="3.2"/><circle cx="180.0" cy="1073.6" r="3.2"/><circle cx="208.4" cy="1064.7" r="3.2"/><circle cx="236.8" cy="1060.3" r="3.2"/><circle cx="212.1" cy="1060.6" r="3.2"/><circle cx="240.6" cy="1078.3" r="3.2"/><circle cx="193.2" cy="1067.8" r="3.2"/><circle cx="287.9" cy="1072.5" r="3.2"/><circle cx="263.0" cy="1071.0" r="3.2"/><circle cx="274.0" cy="1078.5" r="3.2"/><circle cx="229.0" cy="1061.1" r="3.2"/><circle cx="204.6" cy="1074.5" r="3.2"/><circle cx="175.0" cy="1076.5" r="3.2"/><circle cx="203.7" cy="1065.2" r="3.2"/><circle cx="197.8" cy="1071.6" r="3.2"/><circle cx="195.7" cy="1067.3" r="3.2"/><circle cx="273.5" cy="1066.4" r="3.2"/><circle cx="195.3" cy="1064.6" r="3.2"/><circle cx="285.1" cy="1067.3" r="3.2"/><circle cx="181.5" cy="1063.0" r="3.2"/><circle cx="274.8" cy="1072.8" r="3.2"/><circle cx="188.3" cy="1076.0" r="3.2"/><circle cx="235.1" cy="1061.6" r="3.2"/><circle cx="247.2" cy="1060.6" r="3.2"/><circle cx="197.1" cy="1073.1" r="3.2"/><circle cx="260.0" cy="1066.3" r="3.2"/><circle cx="219.7" cy="1065.7" r="3.2"/><circle cx="211.8" cy="1089.1" r="3.2"/><circle cx="220.8" cy="1089.2" r="3.2"/><circle cx="245.6" cy="1086.2" r="3.2"/><circle cx="230.2" cy="1083.4" r="3.2"/><circle cx="202.4" cy="1084.8" r="3.2"/><circle cx="173.9" cy="1080.0" r="3.2"/><circle cx="238.3" cy="1079.4" r="3.2"/><circle cx="178.8" cy="1083.3" r="3.2"/><circle cx="257.1" cy="1086.3" r="3.2"/><circle cx="183.2" cy="1088.1" r="3.2"/><circle cx="189.0" cy="1081.7" r="3.2"/><circle cx="182.8" cy="1081.2" r="3.2"/><circle cx="221.8" cy="1084.1" r="3.2"/><circle cx="241.2" cy="1083.9" r="3.2"/><circle cx="249.3" cy="1083.4" r="3.2"/><circle cx="211.0" cy="1081.9" r="3.2"/><circle cx="202.5" cy="1082.3" r="3.2"/><circle cx="261.7" cy="1081.6" r="3.2"/><circle cx="208.5" cy="1081.6" r="3.2"/><circle cx="286.7" cy="1085.0" r="3.2"/><circle cx="204.9" cy="1084.2" r="3.2"/><circle cx="282.5" cy="1088.3" r="3.2"/><circle cx="289.5" cy="1072.5" r="3.2"/><circle cx="300.8" cy="1069.4" r="3.2"/><circle cx="295.7" cy="1067.1" r="3.2"/><circle cx="293.4" cy="1069.6" r="3.2"/><circle cx="291.0" cy="1077.2" r="3.2"/><circle cx="310.7" cy="1081.7" r="3.2"/><circle cx="313.1" cy="1044.5" r="3.2"/><circle cx="311.0" cy="1015.7" r="3.2"/><circle cx="312.2" cy="1075.0" r="3.2"/><circle cx="311.0" cy="1030.9" r="3.2"/><circle cx="315.8" cy="1074.0" r="3.2"/><circle cx="310.0" cy="1027.8" r="3.2"/><circle cx="311.4" cy="1012.5" r="3.2"/><circle cx="313.1" cy="1038.5" r="3.2"/><circle cx="312.0" cy="1026.1" r="3.2"/><circle cx="312.8" cy="1061.9" r="3.2"/><circle cx="315.7" cy="1078.1" r="3.2"/><circle cx="314.6" cy="1081.3" r="3.2"/><circle cx="314.0" cy="1056.1" r="3.2"/><circle cx="315.4" cy="1081.7" r="3.2"/><circle cx="313.5" cy="1055.5" r="3.2"/><circle cx="315.8" cy="1015.3" r="3.2"/><circle cx="313.9" cy="1069.4" r="3.2"/><circle cx="311.5" cy="1066.5" r="3.2"/><circle cx="312.6" cy="1068.8" r="3.2"/><circle cx="311.1" cy="1029.2" r="3.2"/><circle cx="314.0" cy="1063.8" r="3.2"/><circle cx="316.3" cy="1070.0" r="3.2"/><circle cx="313.5" cy="1074.5" r="3.2"/><circle cx="315.4" cy="1021.0" r="3.2"/><circle cx="311.6" cy="1029.8" r="3.2"/><circle cx="315.1" cy="1065.0" r="3.2"/><circle cx="312.0" cy="1049.8" r="3.2"/><circle cx="315.6" cy="1074.1" r="3.2"/><circle cx="314.2" cy="1041.4" r="3.2"/><circle cx="312.8" cy="1042.7" r="3.2"/><circle cx="315.5" cy="1070.5" r="3.2"/><circle cx="315.5" cy="1059.2" r="3.2"/><circle cx="314.9" cy="1021.4" r="3.2"/><circle cx="311.0" cy="1021.4" r="3.2"/><circle cx="316.3" cy="1063.9" r="3.2"/><circle cx="310.0" cy="1077.8" r="3.2"/><circle cx="316.1" cy="1085.5" r="3.2"/><circle cx="315.7" cy="1074.9" r="3.2"/><circle cx="314.6" cy="1078.9" r="3.2"/><circle cx="310.9" cy="1035.0" r="3.2"/><circle cx="310.4" cy="1060.7" r="3.2"/><circle cx="315.8" cy="1032.5" r="3.2"/><circle cx="315.5" cy="1012.7" r="3.2"/><circle cx="310.0" cy="1068.6" r="3.2"/><circle cx="315.0" cy="1034.5" r="3.2"/><circle cx="310.1" cy="1048.3" r="3.2"/><circle cx="311.3" cy="1053.9" r="3.2"/><circle cx="310.5" cy="1084.7" r="3.2"/><circle cx="316.2" cy="1062.5" r="3.2"/><circle cx="315.5" cy="1077.2" r="3.2"/><circle cx="313.0" cy="1076.0" r="3.2"/><circle cx="312.6" cy="1072.8" r="3.2"/><circle cx="314.3" cy="1075.1" r="3.2"/><circle cx="314.6" cy="1048.6" r="3.2"/><circle cx="316.0" cy="1075.0" r="3.2"/><circle cx="321.7" cy="1054.3" r="3.2"/><circle cx="319.5" cy="1080.1" r="3.2"/><circle cx="328.8" cy="1055.6" r="3.2"/><circle cx="325.2" cy="1078.0" r="3.2"/><circle cx="317.0" cy="1078.3" r="3.2"/><circle cx="315.3" cy="1086.4" r="3.2"/><circle cx="321.9" cy="1073.0" r="3.2"/><circle cx="322.6" cy="1074.7" r="3.2"/><circle cx="314.5" cy="1062.7" r="3.2"/><circle cx="324.1" cy="1068.0" r="3.2"/><circle cx="322.5" cy="1062.7" r="3.2"/><circle cx="329.0" cy="1055.9" r="3.2"/><circle cx="325.0" cy="1073.3" r="3.2"/><circle cx="319.1" cy="1072.6" r="3.2"/><circle cx="328.9" cy="1073.8" r="3.2"/><circle cx="320.1" cy="1072.9" r="3.2"/><circle cx="316.4" cy="1051.4" r="3.2"/><circle cx="314.4" cy="1065.7" r="3.2"/><circle cx="328.2" cy="1078.6" r="3.2"/><circle cx="323.4" cy="1074.1" r="3.2"/><circle cx="317.9" cy="1080.7" r="3.2"/><circle cx="316.0" cy="1057.1" r="3.2"/><circle cx="326.0" cy="1054.7" r="3.2"/><circle cx="315.0" cy="1062.5" r="3.2"/><circle cx="319.2" cy="1064.3" r="3.2"/><circle cx="322.5" cy="1076.4" r="3.2"/><circle cx="328.8" cy="1087.9" r="3.2"/><circle cx="325.5" cy="1056.7" r="3.2"/><circle cx="321.9" cy="1066.3" r="3.2"/><circle cx="430.9" cy="1081.0" r="3.2"/><circle cx="391.7" cy="1068.2" r="3.2"/><circle cx="364.9" cy="1069.0" r="3.2"/><circle cx="366.4" cy="1073.7" r="3.2"/><circle cx="389.9" cy="1069.9" r="3.2"/><circle cx="358.8" cy="1071.1" r="3.2"/><circle cx="382.5" cy="1081.3" r="3.2"/><circle cx="389.9" cy="1080.3" r="3.2"/><circle cx="421.6" cy="1075.0" r="3.2"/><circle cx="401.6" cy="1073.8" r="3.2"/><circle cx="375.3" cy="1081.3" r="3.2"/><circle cx="339.5" cy="1063.6" r="3.2"/><circle cx="380.9" cy="1073.7" r="3.2"/><circle cx="380.8" cy="1066.5" r="3.2"/><circle cx="349.8" cy="1082.6" r="3.2"/><circle cx="412.3" cy="1075.3" r="3.2"/><circle cx="392.9" cy="1066.1" r="3.2"/><circle cx="420.1" cy="1065.1" r="3.2"/><circle cx="328.9" cy="1077.3" r="3.2"/><circle cx="413.4" cy="1066.4" r="3.2"/><circle cx="337.5" cy="1083.0" r="3.2"/><circle cx="351.2" cy="1084.3" r="3.2"/><circle cx="362.5" cy="1066.7" r="3.2"/><circle cx="380.1" cy="1075.5" r="3.2"/><circle cx="333.7" cy="1077.0" r="3.2"/><circle cx="431.1" cy="1069.4" r="3.2"/><circle cx="372.4" cy="1074.9" r="3.2"/><circle cx="409.8" cy="1067.8" r="3.2"/><circle cx="340.3" cy="1069.8" r="3.2"/><circle cx="363.6" cy="1073.8" r="3.2"/><circle cx="349.7" cy="1077.6" r="3.2"/><circle cx="360.7" cy="1077.3" r="3.2"/><circle cx="326.2" cy="1081.9" r="3.2"/><circle cx="385.4" cy="1085.5" r="3.2"/><circle cx="343.4" cy="1068.9" r="3.2"/><circle cx="353.7" cy="1078.8" r="3.2"/><circle cx="350.2" cy="1065.9" r="3.2"/><circle cx="334.1" cy="1070.9" r="3.2"/><circle cx="416.3" cy="1081.8" r="3.2"/><circle cx="369.6" cy="1067.0" r="3.2"/><circle cx="390.5" cy="1077.6" r="3.2"/><circle cx="329.0" cy="1075.8" r="3.2"/><circle cx="363.6" cy="1069.0" r="3.2"/><circle cx="355.9" cy="1076.7" r="3.2"/><circle cx="393.7" cy="1066.5" r="3.2"/><circle cx="362.0" cy="1077.2" r="3.2"/><circle cx="386.3" cy="1063.7" r="3.2"/><circle cx="344.8" cy="1062.5" r="3.2"/><circle cx="400.6" cy="1077.6" r="3.2"/><circle cx="395.6" cy="1078.6" r="3.2"/><circle cx="331.9" cy="1067.9" r="3.2"/><circle cx="364.9" cy="1073.7" r="3.2"/><circle cx="377.5" cy="1064.3" r="3.2"/><circle cx="405.4" cy="1086.3" r="3.2"/><circle cx="387.8" cy="1075.3" r="3.2"/><circle cx="373.8" cy="1065.8" r="3.2"/><circle cx="368.7" cy="1075.0" r="3.2"/><circle cx="419.7" cy="1075.9" r="3.2"/><circle cx="376.9" cy="1074.0" r="3.2"/><circle cx="412.6" cy="1070.1" r="3.2"/><circle cx="403.6" cy="1076.8" r="3.2"/><circle cx="328.6" cy="1069.8" r="3.2"/><circle cx="383.6" cy="1067.6" r="3.2"/><circle cx="406.8" cy="1083.9" r="3.2"/><circle cx="347.9" cy="1085.0" r="3.2"/><circle cx="411.9" cy="1084.4" r="3.2"/><circle cx="333.7" cy="1068.0" r="3.2"/><circle cx="384.8" cy="1085.5" r="3.2"/><circle cx="397.2" cy="1069.0" r="3.2"/><circle cx="376.0" cy="1085.5" r="3.2"/><circle cx="398.3" cy="1076.4" r="3.2"/><circle cx="386.8" cy="1061.8" r="3.2"/><circle cx="411.8" cy="1065.0" r="3.2"/><circle cx="339.9" cy="1078.5" r="3.2"/><circle cx="379.8" cy="1086.8" r="3.2"/><circle cx="430.2" cy="1080.0" r="3.2"/><circle cx="352.4" cy="1079.0" r="3.2"/><circle cx="351.6" cy="1065.3" r="3.2"/><circle cx="383.8" cy="1074.1" r="3.2"/><circle cx="369.3" cy="1085.6" r="3.2"/><circle cx="356.9" cy="1065.1" r="3.2"/><circle cx="410.2" cy="1065.4" r="3.2"/><circle cx="351.8" cy="1081.8" r="3.2"/><circle cx="329.9" cy="1073.4" r="3.2"/><circle cx="364.3" cy="1075.2" r="3.2"/><circle cx="376.7" cy="1072.2" r="3.2"/><circle cx="363.5" cy="1066.8" r="3.2"/><circle cx="345.7" cy="1063.8" r="3.2"/><circle cx="383.9" cy="1085.6" r="3.2"/><circle cx="357.9" cy="1073.5" r="3.2"/><circle cx="368.1" cy="1072.7" r="3.2"/><circle cx="358.9" cy="1080.0" r="3.2"/><circle cx="409.6" cy="1079.6" r="3.2"/><circle cx="400.4" cy="1066.7" r="3.2"/><circle cx="387.7" cy="1075.5" r="3.2"/><circle cx="424.4" cy="1075.7" r="3.2"/><circle cx="418.4" cy="1085.5" r="3.2"/><circle cx="370.7" cy="1070.8" r="3.2"/><circle cx="329.5" cy="1065.2" r="3.2"/><circle cx="332.0" cy="1071.9" r="3.2"/><circle cx="343.6" cy="1063.7" r="3.2"/><circle cx="384.4" cy="1066.8" r="3.2"/><circle cx="377.7" cy="1070.0" r="3.2"/><circle cx="396.6" cy="1079.5" r="3.2"/><circle cx="346.9" cy="1065.8" r="3.2"/><circle cx="339.9" cy="1063.8" r="3.2"/><circle cx="346.4" cy="1084.4" r="3.2"/><circle cx="334.5" cy="1067.2" r="3.2"/><circle cx="426.2" cy="1076.5" r="3.2"/><circle cx="394.9" cy="1080.4" r="3.2"/><circle cx="421.3" cy="1069.7" r="3.2"/><circle cx="340.9" cy="1085.5" r="3.2"/><circle cx="398.8" cy="1085.9" r="3.2"/><circle cx="413.9" cy="1079.5" r="3.2"/><circle cx="349.2" cy="1072.3" r="3.2"/><circle cx="358.4" cy="1072.8" r="3.2"/><circle cx="340.8" cy="1064.0" r="3.2"/><circle cx="359.0" cy="1065.8" r="3.2"/><circle cx="340.5" cy="1066.8" r="3.2"/><circle cx="429.3" cy="1077.1" r="3.2"/><circle cx="327.8" cy="1077.4" r="3.2"/><circle cx="392.9" cy="1081.3" r="3.2"/><circle cx="382.7" cy="1084.6" r="3.2"/><circle cx="374.0" cy="1068.6" r="3.2"/><circle cx="370.3" cy="1069.8" r="3.2"/><circle cx="336.5" cy="1066.1" r="3.2"/><circle cx="337.4" cy="1063.7" r="3.2"/><circle cx="431.0" cy="1063.3" r="3.2"/><circle cx="380.7" cy="1079.6" r="3.2"/><circle cx="361.6" cy="1068.1" r="3.2"/><circle cx="377.5" cy="1063.5" r="3.2"/><circle cx="334.2" cy="1074.7" r="3.2"/><circle cx="416.9" cy="1071.9" r="3.2"/><circle cx="382.2" cy="1084.7" r="3.2"/><circle cx="339.2" cy="1080.1" r="3.2"/><circle cx="420.0" cy="1065.7" r="3.2"/><circle cx="348.6" cy="1063.7" r="3.2"/><circle cx="327.7" cy="1071.9" r="3.2"/><circle cx="427.9" cy="1078.3" r="3.2"/><circle cx="425.5" cy="1070.4" r="3.2"/><circle cx="329.6" cy="1078.5" r="3.2"/><circle cx="372.5" cy="1080.7" r="3.2"/><circle cx="403.8" cy="1082.4" r="3.2"/><circle cx="408.7" cy="1079.4" r="3.2"/><circle cx="331.7" cy="1072.9" r="3.2"/><circle cx="334.5" cy="1073.0" r="3.2"/><circle cx="408.7" cy="1071.9" r="3.2"/><circle cx="373.7" cy="1086.1" r="3.2"/><circle cx="379.3" cy="1084.5" r="3.2"/><circle cx="393.6" cy="1083.6" r="3.2"/><circle cx="386.2" cy="1078.0" r="3.2"/><circle cx="364.4" cy="1070.2" r="3.2"/><circle cx="341.8" cy="1082.6" r="3.2"/><circle cx="425.2" cy="1078.6" r="3.2"/><circle cx="414.5" cy="1065.0" r="3.2"/><circle cx="375.7" cy="1083.2" r="3.2"/><circle cx="334.3" cy="1064.8" r="3.2"/><circle cx="336.8" cy="1074.4" r="3.2"/><circle cx="381.7" cy="1084.0" r="3.2"/><circle cx="374.4" cy="1082.8" r="3.2"/><circle cx="381.7" cy="1074.2" r="3.2"/><circle cx="363.6" cy="1081.9" r="3.2"/><circle cx="367.5" cy="1081.8" r="3.2"/><circle cx="337.9" cy="1080.9" r="3.2"/><circle cx="417.7" cy="1074.3" r="3.2"/><circle cx="419.7" cy="1086.5" r="3.2"/><circle cx="425.4" cy="1074.6" r="3.2"/><circle cx="409.0" cy="1072.6" r="3.2"/><circle cx="398.1" cy="1081.1" r="3.2"/><circle cx="404.6" cy="1083.0" r="3.2"/><circle cx="352.6" cy="1086.1" r="3.2"/><circle cx="366.4" cy="1073.9" r="3.2"/><circle cx="355.6" cy="1064.5" r="3.2"/><circle cx="333.3" cy="1072.4" r="3.2"/><circle cx="349.3" cy="1071.9" r="3.2"/><circle cx="408.3" cy="1069.0" r="3.2"/><circle cx="330.9" cy="1080.7" r="3.2"/><circle cx="388.5" cy="1062.2" r="3.2"/><circle cx="328.7" cy="1071.4" r="3.2"/><circle cx="398.4" cy="1066.4" r="3.2"/><circle cx="360.9" cy="1066.5" r="3.2"/><circle cx="373.8" cy="1063.8" r="3.2"/><circle cx="325.4" cy="1063.3" r="3.2"/><circle cx="368.4" cy="1076.7" r="3.2"/><circle cx="333.7" cy="1080.8" r="3.2"/><circle cx="402.9" cy="1069.9" r="3.2"/><circle cx="340.5" cy="1078.3" r="3.2"/><circle cx="339.3" cy="1081.9" r="3.2"/><circle cx="347.8" cy="1078.6" r="3.2"/><circle cx="428.9" cy="1061.8" r="3.2"/><circle cx="409.1" cy="1074.9" r="3.2"/><circle cx="377.6" cy="1067.3" r="3.2"/><circle cx="421.6" cy="1068.0" r="3.2"/><circle cx="392.5" cy="1081.9" r="3.2"/><circle cx="391.3" cy="1065.7" r="3.2"/><circle cx="408.6" cy="1084.6" r="3.2"/><circle cx="401.2" cy="1078.1" r="3.2"/><circle cx="341.7" cy="1062.6" r="3.2"/><circle cx="396.4" cy="1068.2" r="3.2"/><circle cx="338.7" cy="1066.1" r="3.2"/><circle cx="424.7" cy="1064.2" r="3.2"/><circle cx="404.1" cy="1066.0" r="3.2"/><circle cx="410.2" cy="1072.1" r="3.2"/><circle cx="370.9" cy="1066.2" r="3.2"/><circle cx="408.3" cy="1065.0" r="3.2"/><circle cx="356.3" cy="1062.8" r="3.2"/><circle cx="381.2" cy="1063.1" r="3.2"/><circle cx="336.7" cy="1062.6" r="3.2"/><circle cx="408.7" cy="1080.6" r="3.2"/><circle cx="414.1" cy="1081.1" r="3.2"/><circle cx="345.5" cy="1075.4" r="3.2"/><circle cx="349.6" cy="1074.5" r="3.2"/><circle cx="421.6" cy="1069.7" r="3.2"/><circle cx="400.4" cy="1077.1" r="3.2"/><circle cx="408.3" cy="1067.0" r="3.2"/><circle cx="397.4" cy="1063.2" r="3.2"/><circle cx="412.8" cy="1076.7" r="3.2"/><circle cx="333.6" cy="1070.5" r="3.2"/><circle cx="413.9" cy="1078.4" r="3.2"/><circle cx="388.0" cy="1065.9" r="3.2"/><circle cx="409.2" cy="1086.8" r="3.2"/><circle cx="376.7" cy="1086.5" r="3.2"/><circle cx="336.1" cy="1066.5" r="3.2"/><circle cx="369.1" cy="1071.7" r="3.2"/><circle cx="373.3" cy="1078.5" r="3.2"/><circle cx="347.2" cy="1078.0" r="3.2"/><circle cx="414.8" cy="1071.3" r="3.2"/><circle cx="355.6" cy="1084.7" r="3.2"/><circle cx="353.3" cy="1069.3" r="3.2"/><circle cx="371.6" cy="1070.3" r="3.2"/><circle cx="389.6" cy="1054.8" r="3.2"/><circle cx="380.3" cy="1057.1" r="3.2"/><circle cx="390.8" cy="1053.0" r="3.2"/><circle cx="349.6" cy="1030.9" r="3.2"/><circle cx="356.3" cy="1051.9" r="3.2"/><circle cx="395.8" cy="1040.8" r="3.2"/><circle cx="396.1" cy="1047.0" r="3.2"/><circle cx="366.6" cy="1030.9" r="3.2"/><circle cx="367.1" cy="1030.0" r="3.2"/><circle cx="343.4" cy="1034.5" r="3.2"/><circle cx="341.4" cy="1043.2" r="3.2"/><circle cx="329.3" cy="1053.3" r="3.2"/><circle cx="399.9" cy="1045.3" r="3.2"/><circle cx="389.8" cy="1051.1" r="3.2"/><circle cx="355.6" cy="1055.4" r="3.2"/><circle cx="370.6" cy="1033.6" r="3.2"/><circle cx="367.7" cy="1047.5" r="3.2"/><circle cx="398.7" cy="1032.7" r="3.2"/><circle cx="379.1" cy="1056.1" r="3.2"/><circle cx="375.9" cy="1045.6" r="3.2"/><circle cx="400.9" cy="1047.9" r="3.2"/><circle cx="378.7" cy="1040.2" r="3.2"/><circle cx="357.4" cy="1043.3" r="3.2"/><circle cx="379.8" cy="1032.3" r="3.2"/><circle cx="366.5" cy="1047.9" r="3.2"/><circle cx="402.2" cy="1056.7" r="3.2"/><circle cx="391.7" cy="1038.7" r="3.2"/><circle cx="370.9" cy="1045.5" r="3.2"/><circle cx="385.4" cy="1032.8" r="3.2"/><circle cx="383.7" cy="1036.8" r="3.2"/><circle cx="431.7" cy="1068.1" r="3.2"/><circle cx="432.6" cy="1026.5" r="3.2"/><circle cx="439.2" cy="1080.1" r="3.2"/><circle cx="436.6" cy="1051.5" r="3.2"/><circle cx="431.8" cy="1063.7" r="3.2"/><circle cx="437.9" cy="1047.2" r="3.2"/><circle cx="433.9" cy="1039.1" r="3.2"/><circle cx="434.0" cy="1053.6" r="3.2"/><circle cx="435.1" cy="1024.8" r="3.2"/><circle cx="437.1" cy="1036.3" r="3.2"/><circle cx="437.3" cy="1064.5" r="3.2"/><circle cx="439.8" cy="1042.6" r="3.2"/><circle cx="437.5" cy="1071.3" r="3.2"/><circle cx="432.8" cy="1051.6" r="3.2"/><circle cx="438.6" cy="1037.1" r="3.2"/><circle cx="434.5" cy="1080.4" r="3.2"/><circle cx="435.9" cy="1031.5" r="3.2"/><circle cx="432.8" cy="1040.7" r="3.2"/><circle cx="432.9" cy="1069.0" r="3.2"/><circle cx="431.9" cy="1070.0" r="3.2"/><circle cx="434.8" cy="1025.6" r="3.2"/><circle cx="439.8" cy="1077.3" r="3.2"/><circle cx="434.1" cy="1027.1" r="3.2"/><circle cx="433.1" cy="1068.4" r="3.2"/><circle cx="435.3" cy="1082.5" r="3.2"/><circle cx="433.7" cy="1063.6" r="3.2"/><circle cx="434.8" cy="1025.8" r="3.2"/><circle cx="433.8" cy="1076.2" r="3.2"/><circle cx="439.4" cy="1059.8" r="3.2"/><circle cx="438.7" cy="1047.5" r="3.2"/><circle cx="438.2" cy="1068.8" r="3.2"/><circle cx="432.8" cy="1039.5" r="3.2"/><circle cx="435.5" cy="1052.6" r="3.2"/><circle cx="437.3" cy="1039.8" r="3.2"/><circle cx="433.8" cy="1065.6" r="3.2"/><circle cx="439.4" cy="1054.6" r="3.2"/><circle cx="433.9" cy="1047.9" r="3.2"/><circle cx="433.7" cy="1038.6" r="3.2"/><circle cx="431.8" cy="1034.9" r="3.2"/><circle cx="436.4" cy="1066.2" r="3.2"/><circle cx="439.6" cy="1072.1" r="3.2"/><circle cx="433.6" cy="1085.1" r="3.2"/><circle cx="436.2" cy="1039.7" r="3.2"/><circle cx="437.3" cy="1062.3" r="3.2"/><circle cx="438.5" cy="1082.3" r="3.2"/><circle cx="434.1" cy="1046.9" r="3.2"/><circle cx="439.9" cy="1047.7" r="3.2"/><circle cx="437.5" cy="1038.3" r="3.2"/><circle cx="434.9" cy="1027.3" r="3.2"/><circle cx="437.9" cy="1067.0" r="3.2"/><circle cx="434.9" cy="1036.3" r="3.2"/><circle cx="434.5" cy="1077.4" r="3.2"/><circle cx="439.0" cy="1054.4" r="3.2"/><circle cx="436.0" cy="1045.3" r="3.2"/><circle cx="439.3" cy="1080.8" r="3.2"/><circle cx="442.3" cy="1086.8" r="3.2"/><circle cx="443.6" cy="1067.8" r="3.2"/><circle cx="451.3" cy="1060.6" r="3.2"/><circle cx="446.5" cy="1072.1" r="3.2"/><circle cx="446.4" cy="1077.8" r="3.2"/><circle cx="451.1" cy="1055.3" r="3.2"/><circle cx="451.0" cy="1083.1" r="3.2"/><circle cx="448.1" cy="1056.8" r="3.2"/><circle cx="445.1" cy="1050.5" r="3.2"/><circle cx="452.1" cy="1057.3" r="3.2"/><circle cx="450.7" cy="1061.4" r="3.2"/><circle cx="451.7" cy="1084.0" r="3.2"/><circle cx="448.7" cy="1059.0" r="3.2"/><circle cx="447.1" cy="1077.7" r="3.2"/><circle cx="437.6" cy="1063.4" r="3.2"/><circle cx="450.8" cy="1077.8" r="3.2"/><circle cx="440.1" cy="1079.9" r="3.2"/><circle cx="438.0" cy="1060.2" r="3.2"/><circle cx="453.4" cy="1054.7" r="3.2"/><circle cx="442.7" cy="1059.2" r="3.2"/><circle cx="437.7" cy="1053.1" r="3.2"/><circle cx="442.1" cy="1089.6" r="3.2"/><circle cx="447.4" cy="1083.6" r="3.2"/><circle cx="441.2" cy="1087.1" r="3.2"/><circle cx="444.2" cy="1065.5" r="3.2"/><circle cx="450.5" cy="1088.0" r="3.2"/><circle cx="450.8" cy="1084.9" r="3.2"/><circle cx="440.3" cy="1062.2" r="3.2"/><circle cx="442.3" cy="1075.3" r="3.2"/><circle cx="446.3" cy="1080.2" r="3.2"/><circle cx="450.3" cy="1080.6" r="3.2"/><circle cx="451.1" cy="1054.4" r="3.2"/><circle cx="445.8" cy="1088.4" r="3.2"/><circle cx="450.0" cy="1088.5" r="3.2"/><circle cx="445.2" cy="1071.2" r="3.2"/><circle cx="437.5" cy="1062.2" r="3.2"/><circle cx="449.1" cy="1064.2" r="3.2"/><circle cx="443.4" cy="1067.4" r="3.2"/><circle cx="446.7" cy="1079.8" r="3.2"/><circle cx="451.5" cy="1046.3" r="3.2"/><circle cx="465.4" cy="1069.4" r="3.2"/><circle cx="457.1" cy="1069.0" r="3.2"/><circle cx="452.6" cy="1077.0" r="3.2"/><circle cx="453.7" cy="1077.3" r="3.2"/><circle cx="463.3" cy="1073.3" r="3.2"/><circle cx="459.3" cy="1079.1" r="3.2"/><circle cx="454.7" cy="1078.1" r="3.2"/><circle cx="456.3" cy="1081.4" r="3.2"/><circle cx="516.6" cy="1070.8" r="3.2"/><circle cx="500.3" cy="1081.4" r="3.2"/><circle cx="514.9" cy="1081.4" r="3.2"/><circle cx="490.8" cy="1069.4" r="3.2"/><circle cx="514.7" cy="1055.7" r="3.2"/><circle cx="517.3" cy="1056.5" r="3.2"/><circle cx="526.7" cy="1064.0" r="3.2"/><circle cx="515.7" cy="1085.9" r="3.2"/><circle cx="487.6" cy="1087.5" r="3.2"/><circle cx="523.6" cy="1064.0" r="3.2"/><circle cx="510.8" cy="1079.2" r="3.2"/><circle cx="495.8" cy="1082.5" r="3.2"/><circle cx="510.9" cy="1055.1" r="3.2"/><circle cx="493.0" cy="1086.5" r="3.2"/><circle cx="485.9" cy="1076.2" r="3.2"/><circle cx="525.6" cy="1061.3" r="3.2"/><circle cx="560.6" cy="1087.9" r="3.2"/><circle cx="538.0" cy="1087.0" r="3.2"/><circle cx="581.5" cy="1081.5" r="3.2"/><circle cx="595.3" cy="1073.8" r="3.2"/><circle cx="582.6" cy="1081.4" r="3.2"/><circle cx="584.4" cy="1087.5" r="3.2"/><circle cx="538.2" cy="1079.9" r="3.2"/><circle cx="564.0" cy="1086.0" r="3.2"/><circle cx="547.4" cy="1089.3" r="3.2"/><circle cx="590.0" cy="1077.3" r="3.2"/><circle cx="592.4" cy="1072.6" r="3.2"/><circle cx="559.4" cy="1076.9" r="3.2"/><circle cx="556.0" cy="1075.5" r="3.2"/><circle cx="585.6" cy="1087.4" r="3.2"/><circle cx="531.9" cy="1086.0" r="3.2"/><circle cx="569.0" cy="1083.1" r="3.2"/><circle cx="531.7" cy="1075.2" r="3.2"/><circle cx="582.0" cy="1081.6" r="3.2"/><circle cx="533.9" cy="1074.2" r="3.2"/><circle cx="565.7" cy="1088.5" r="3.2"/><circle cx="552.1" cy="1078.8" r="3.2"/><circle cx="588.5" cy="1081.2" r="3.2"/><circle cx="572.5" cy="1086.1" r="3.2"/><circle cx="546.9" cy="1073.9" r="3.2"/><circle cx="555.9" cy="1087.9" r="3.2"/><circle cx="569.4" cy="1087.5" r="3.2"/><circle cx="544.1" cy="1081.7" r="3.2"/><circle cx="569.0" cy="1078.6" r="3.2"/><circle cx="576.9" cy="1082.0" r="3.2"/><circle cx="535.5" cy="1077.1" r="3.2"/><circle cx="534.6" cy="1081.5" r="3.2"/><circle cx="557.0" cy="1078.0" r="3.2"/><circle cx="577.4" cy="1085.5" r="3.2"/><circle cx="573.2" cy="1077.6" r="3.2"/><circle cx="561.7" cy="1087.2" r="3.2"/><circle cx="590.0" cy="1079.2" r="3.2"/><circle cx="535.2" cy="1085.5" r="3.2"/><circle cx="595.0" cy="1085.7" r="3.2"/><circle cx="556.5" cy="1075.9" r="3.2"/><circle cx="584.5" cy="1078.6" r="3.2"/><circle cx="579.2" cy="1089.0" r="3.2"/><circle cx="537.2" cy="1072.7" r="3.2"/><circle cx="583.1" cy="1089.0" r="3.2"/><circle cx="534.3" cy="1085.5" r="3.2"/><circle cx="591.4" cy="1085.9" r="3.2"/><circle cx="574.6" cy="1073.5" r="3.2"/><circle cx="572.5" cy="1073.7" r="3.2"/><circle cx="548.1" cy="1087.0" r="3.2"/><circle cx="532.3" cy="1076.5" r="3.2"/><circle cx="537.8" cy="1072.7" r="3.2"/><circle cx="577.1" cy="1086.4" r="3.2"/><circle cx="583.4" cy="1086.9" r="3.2"/><circle cx="564.3" cy="1087.9" r="3.2"/><circle cx="582.1" cy="1074.2" r="3.2"/><circle cx="590.5" cy="1089.7" r="3.2"/><circle cx="586.3" cy="1080.0" r="3.2"/><circle cx="584.3" cy="1080.9" r="3.2"/><circle cx="571.3" cy="1079.3" r="3.2"/><circle cx="582.9" cy="1088.3" r="3.2"/><circle cx="534.6" cy="1080.2" r="3.2"/><circle cx="550.0" cy="1082.8" r="3.2"/><circle cx="531.6" cy="1076.7" r="3.2"/><circle cx="532.7" cy="1075.2" r="3.2"/><circle cx="583.7" cy="1081.7" r="3.2"/><circle cx="539.0" cy="1078.4" r="3.2"/><circle cx="544.5" cy="1082.2" r="3.2"/><circle cx="538.3" cy="1072.7" r="3.2"/><circle cx="566.5" cy="1083.5" r="3.2"/><circle cx="537.2" cy="1077.0" r="3.2"/><circle cx="586.2" cy="1074.9" r="3.2"/><circle cx="537.7" cy="1083.3" r="3.2"/><circle cx="550.7" cy="1076.4" r="3.2"/><circle cx="540.7" cy="1079.1" r="3.2"/><circle cx="594.5" cy="1076.3" r="3.2"/><circle cx="531.6" cy="1088.4" r="3.2"/><circle cx="538.5" cy="1077.6" r="3.2"/><circle cx="569.9" cy="1080.6" r="3.2"/><circle cx="560.6" cy="1082.6" r="3.2"/><circle cx="570.7" cy="1078.4" r="3.2"/><circle cx="590.5" cy="1076.9" r="3.2"/><circle cx="582.7" cy="1073.8" r="3.2"/><circle cx="585.4" cy="1077.2" r="3.2"/><circle cx="533.1" cy="1077.8" r="3.2"/><circle cx="586.2" cy="1082.2" r="3.2"/><circle cx="588.0" cy="1086.6" r="3.2"/><circle cx="592.2" cy="1082.0" r="3.2"/><circle cx="576.9" cy="1085.3" r="3.2"/><circle cx="550.6" cy="1083.6" r="3.2"/><circle cx="552.1" cy="1088.0" r="3.2"/><circle cx="559.8" cy="1072.6" r="3.2"/><circle cx="573.5" cy="1073.4" r="3.2"/><circle cx="580.5" cy="1075.1" r="3.2"/><circle cx="595.5" cy="1076.6" r="3.2"/><circle cx="548.9" cy="1085.3" r="3.2"/><circle cx="557.8" cy="1089.3" r="3.2"/><circle cx="553.0" cy="1068.0" r="3.2"/><circle cx="573.6" cy="1072.9" r="3.2"/><circle cx="569.1" cy="1069.0" r="3.2"/><circle cx="572.7" cy="1068.8" r="3.2"/><circle cx="562.0" cy="1074.8" r="3.2"/><circle cx="570.7" cy="1073.0" r="3.2"/><circle cx="564.8" cy="1072.5" r="3.2"/><circle cx="562.1" cy="1067.3" r="3.2"/><circle cx="550.9" cy="1071.1" r="3.2"/><circle cx="565.5" cy="1071.0" r="3.2"/><circle cx="204.7" cy="1047.1" r="3.2"/><circle cx="442.6" cy="985.0" r="3.2"/><circle cx="442.6" cy="990.2" r="3.2"/><circle cx="568.5" cy="1044.3" r="3.2"/><circle cx="580.9" cy="1056.5" r="3.2"/><circle cx="585.9" cy="1055.8" r="3.2"/><circle cx="344.2" cy="1021.6" r="3.2"/><circle cx="371.6" cy="1032.1" r="3.2"/><circle cx="354.2" cy="1039.1" r="3.2"/><circle cx="131.1" cy="1089.0" r="3.2"/><circle cx="224.6" cy="1089.0" r="3.2"/><circle cx="254.5" cy="1089.0" r="3.2"/><circle cx="285.6" cy="1089.0" r="3.2"/><circle cx="536.1" cy="1088.0" r="3.2"/><circle cx="518.6" cy="1061.8" r="3.2"/><circle cx="518.6" cy="1068.8" r="3.2"/><circle cx="481.3" cy="1055.5" r="3.2"/><circle cx="539.8" cy="1063.5" r="3.2"/><circle cx="539.8" cy="1067.0" r="3.2"/><circle cx="227.3" cy="937.1" r="3.2"/><circle cx="227.3" cy="971.9" r="3.2"/><circle cx="227.3" cy="984" r="3.2"/></g>
<line x1="93.0" y1="1089.7" x2="97.5" y2="1089.7" stroke="#000" stroke-width="1.1"/>
<text x="87.0" y="1095.0" font-size="15" text-anchor="end">0</text>
<line x1="93.0" y1="1054.8" x2="97.5" y2="1054.8" stroke="#000" stroke-width="1.1"/>
<text x="87.0" y="1060.1" font-size="15" text-anchor="end">1</text>
<line x1="93.0" y1="1019.9" x2="97.5" y2="1019.9" stroke="#000" stroke-width="1.1"/>
<text x="87.0" y="1025.2" font-size="15" text-anchor="end">2</text>
<line x1="93.0" y1="985.0" x2="97.5" y2="985.0" stroke="#000" stroke-width="1.1"/>
<text x="87.0" y="990.3" font-size="15" text-anchor="end">3</text>
<line x1="93.0" y1="950.1" x2="97.5" y2="950.1" stroke="#000" stroke-width="1.1"/>
<text x="87.0" y="955.4" font-size="15" text-anchor="end">4</text>
<line x1="93.0" y1="915.2" x2="97.5" y2="915.2" stroke="#000" stroke-width="1.1"/>
<text x="87.0" y="920.5" font-size="15" text-anchor="end">5</text>
<text x="97.5" y="1114.3" font-size="15" text-anchor="middle">650</text>
<text x="222.1" y="1114.3" font-size="15" text-anchor="middle">655</text>
<text x="346.7" y="1114.3" font-size="15" text-anchor="middle">660</text>
<text x="471.3" y="1114.3" font-size="15" text-anchor="middle">665</text>
<text x="595.9" y="1114.3" font-size="15" text-anchor="middle">670</text>
<text x="354.5" y="1128.5" font-size="18" text-anchor="middle">Chromosome 6B</text>
<text x="610.5" y="1093.2" font-size="15">(Mb)</text>
<text x="288.4" y="942.4" font-size="15" font-style="italic">TaHSP18.6</text>
<polygon points="268.4,937.6 270.3,943.4 249.8,950.6 251.4,955.6 238.2,951 246.6,939.8 248,944.6" fill="#ff0000"/>
<text x="52.6" y="1013.5" font-size="15" text-anchor="middle" transform="rotate(-90 52.6 1013.5)">−Log<tspan font-size="10" dy="3">10</tspan><tspan dy="-3"> (</tspan><tspan font-style="italic">P</tspan>)</text>
</g>
<g id="panelE">
<text x="874.4" y="295.8" font-size="24">E</text>
<rect x="1026.6" y="423.1" width="27.4" height="119.6" fill="#ffc000"/>
<rect x="1111.4" y="482.7" width="26.7" height="60.0" fill="#ffc000"/>
<rect x="1195.8" y="363.8" width="26.5" height="178.9" fill="#ffc000"/>
<line x1="998.6" y1="333.8" x2="998.6" y2="546.7" stroke="#000" stroke-width="1"/>
<line x1="994.6" y1="542.7" x2="1251.0" y2="542.7" stroke="#000" stroke-width="1"/>
<line x1="994.6" y1="542.7" x2="998.6" y2="542.7" stroke="#000" stroke-width="1"/>
<text x="983.0" y="548.7" font-size="17" text-anchor="end">0</text>
<line x1="994.6" y1="512.9" x2="998.6" y2="512.9" stroke="#000" stroke-width="1"/>
<text x="983.0" y="518.9" font-size="17" text-anchor="end">0.5</text>
<line x1="994.6" y1="483.0" x2="998.6" y2="483.0" stroke="#000" stroke-width="1"/>
<text x="983.0" y="489.0" font-size="17" text-anchor="end">1</text>
<line x1="994.6" y1="453.2" x2="998.6" y2="453.2" stroke="#000" stroke-width="1"/>
<text x="983.0" y="459.2" font-size="17" text-anchor="end">1.5</text>
<line x1="994.6" y1="423.3" x2="998.6" y2="423.3" stroke="#000" stroke-width="1"/>
<text x="983.0" y="429.3" font-size="17" text-anchor="end">2</text>
<line x1="994.6" y1="393.5" x2="998.6" y2="393.5" stroke="#000" stroke-width="1"/>
<text x="983.0" y="399.5" font-size="17" text-anchor="end">2.5</text>
<line x1="994.6" y1="363.6" x2="998.6" y2="363.6" stroke="#000" stroke-width="1"/>
<text x="983.0" y="369.6" font-size="17" text-anchor="end">3</text>
<line x1="994.6" y1="333.8" x2="998.6" y2="333.8" stroke="#000" stroke-width="1"/>
<text x="983.0" y="339.8" font-size="17" text-anchor="end">3.5</text>
<line x1="1082.4" y1="542.7" x2="1082.4" y2="546.7" stroke="#000" stroke-width="1"/>
<line x1="1166.2" y1="542.7" x2="1166.2" y2="546.7" stroke="#000" stroke-width="1"/>
<line x1="1251.0" y1="542.7" x2="1251.0" y2="546.7" stroke="#000" stroke-width="1"/>
<text x="1041.3" y="565.5" font-size="15.5" text-anchor="middle" font-style="italic">Tanfd4</text>
<text x="1125.0" y="565.5" font-size="15.5" text-anchor="middle" font-style="italic">TaHDP21</text>
<text x="1210.2" y="565.5" font-size="15.5" text-anchor="middle" font-style="italic">TaHSP18.6</text>
<text x="932.0" y="435.6" font-size="17.5" text-anchor="middle" transform="rotate(-90 932.0 435.6)" textLength="236" lengthAdjust="spacingAndGlyphs">Number of significant SNPs</text>
</g>
<g id="panelF">
<text x="671.7" y="619.8" font-size="24">F</text>
<text x="735.5" y="627.3" font-size="18">WT</text>
<text x="830.4" y="627.3" font-size="18">BSMV<tspan font-size="12" dx="0.5" dy="4.5">0</tspan></text>
<text x="925.4" y="624.5" font-size="18">BSMV<tspan font-size="12" font-style="italic" dx="0.5" dy="4.5">Tanfd4</tspan></text>
<text x="1035.8" y="624.5" font-size="18">BSMV<tspan font-size="12" font-style="italic" dx="0.5" dy="4.5">TaHDP21</tspan></text>
<text x="1151.0" y="624.5" font-size="18">BSMV<tspan font-size="12" font-style="italic" dx="0.5" dy="4.5">TaHSP18.6</tspan></text>
<defs>
<clipPath id="ct0"><rect x="692.8" y="635.9" width="108.4" height="136.8"/></clipPath>
<clipPath id="cb0"><rect x="692.8" y="772.7" width="108.4" height="136.3"/></clipPath>
<clipPath id="ct1"><rect x="805.4" y="635.9" width="107.4" height="136.8"/></clipPath>
<clipPath id="cb1"><rect x="805.4" y="772.7" width="107.4" height="136.3"/></clipPath>
<clipPath id="ct2"><rect x="916.2" y="635.9" width="108.8" height="136.8"/></clipPath>
<clipPath id="cb2"><rect x="916.2" y="772.7" width="108.8" height="136.3"/></clipPath>
<clipPath id="ct3"><rect x="1029.9" y="635.9" width="108.0" height="136.8"/></clipPath>
<clipPath id="cb3"><rect x="1029.9" y="772.7" width="108.0" height="136.3"/></clipPath>
<clipPath id="ct4"><rect x="1142.3" y="635.9" width="104.7" height="136.8"/></clipPath>
<clipPath id="cb4"><rect x="1142.3" y="772.7" width="104.7" height="136.3"/></clipPath>
<linearGradient id="gbot" x1="0" y1="0" x2="0.7" y2="1"><stop offset="0" stop-color="#e3e8ea"/><stop offset="0.5" stop-color="#eceeee"/><stop offset="1" stop-color="#f8f8f7"/></linearGradient>
</defs>
<rect x="692.8" y="635.9" width="108.4" height="136.8" fill="#030303"/>
<rect x="692.8" y="773.3" width="108.4" height="135.7" fill="url(#gbot)"/>
<rect x="805.4" y="635.9" width="107.4" height="136.8" fill="#030303"/>
<rect x="805.4" y="773.3" width="107.4" height="135.7" fill="url(#gbot)"/>
<rect x="916.2" y="635.9" width="108.8" height="136.8" fill="#030303"/>
<rect x="916.2" y="773.3" width="108.8" height="135.7" fill="url(#gbot)"/>
<rect x="1029.9" y="635.9" width="108.0" height="136.8" fill="#030303"/>
<rect x="1029.9" y="773.3" width="108.0" height="135.7" fill="url(#gbot)"/>
<rect x="1142.3" y="635.9" width="104.7" height="136.8" fill="#030303"/>
<rect x="1142.3" y="773.3" width="104.7" height="135.7" fill="#f4f2ee"/>
<g clip-path="url(#ct0)">
<polygon points="715.7,758.7 721.9,737.7 728.1,736.3 771.0,736.3 773.8,738.7 780.0,757.7 778.6,765.3 775.7,773.9 720.5,773.9 717.1,765.3" fill="#f2609f"/>
<polygon points="717.6,764.9 778.1,764.9 775.7,773.9 720.5,773.9" fill="#f274b0"/>
<polygon points="720.0,758.7 725.7,743.0 770.0,743.0 774.8,758.7 771.9,760.8 722.4,760.8" fill="#6e5a49"/>
<polygon points="724.3,755.8 728.1,746.3 766.2,746.3 771.0,755.8" fill="#806a55"/>
<path d="M765.2 719.6C766.3 721.4 770.0 726.8 771.9 730.1C773.8 733.4 775.3 736.1 776.7 739.6C778.0 743.1 779.4 749.1 780.0 751.0" stroke="#8f7a3c" stroke-width="0.76" fill="none" stroke-linecap="round"/>
<polygon points="725.6,723.2 724.0,720.3 721.7,716.3 718.9,711.6 716.0,706.7 712.9,702.0 710.0,698.0 707.1,694.5 704.0,691.0 700.9,687.8 698.1,685.0 695.6,682.7 694.0,680.9 693.6,681.2 695.3,683.1 697.4,685.7 699.9,688.8 702.7,692.2 705.5,695.8 708.1,699.3 710.9,703.4 714.0,708.0 717.3,712.7 720.3,717.2 723.0,721.0 724.9,723.6" fill="#a9c860"/>
<polygon points="728.9,727.2 729.2,726.3 729.5,725.2 729.7,723.7 729.8,721.7 729.5,719.4 728.7,716.6 727.4,713.6 725.5,710.3 723.4,706.6 721.0,702.8 718.3,698.8 715.5,694.7 712.1,690.2 708.2,685.0 704.0,679.7 699.9,674.8 696.4,670.6 694.0,667.6 693.6,667.9 695.7,671.1 698.6,675.7 702.1,681.1 705.8,686.7 709.2,692.2 712.1,696.9 714.5,701.1 716.8,705.3 718.8,709.2 720.7,712.9 722.3,716.1 723.7,718.8 724.8,720.9 725.6,722.6 726.1,724.0 726.5,725.3 726.8,726.4 727.2,727.3" fill="#74c043"/>
<polygon points="730.4,727.2 730.6,722.5 730.7,716.1 730.7,708.5 730.6,700.3 729.9,692.3 728.9,685.0 727.5,677.9 725.7,670.5 723.8,663.3 721.8,656.7 720.0,651.2 718.8,647.2 718.3,647.3 718.8,651.5 719.6,657.2 720.6,664.0 721.6,671.3 722.7,678.7 723.5,685.7 724.2,692.9 724.9,700.8 726.0,708.8 727.0,716.4 727.8,722.7 728.6,727.3" fill="#b3cf4c"/>
<polygon points="731.6,757.7 732.0,752.0 732.5,744.6 733.0,735.5 733.3,724.8 733.0,712.5 732.0,698.5 730.2,680.9 727.7,659.3 724.8,636.0 721.9,613.6 719.3,594.5 717.6,581.0 717.1,581.1 718.4,594.6 720.2,613.8 722.4,636.3 724.6,659.6 726.6,681.3 728.0,698.8 728.7,712.7 729.1,724.9 729.5,735.5 729.8,744.6 730.0,752.0 730.3,757.7" fill="#5aa632"/>
<polygon points="732.6,732.1 733.4,726.7 734.5,719.7 735.6,711.1 736.6,701.4 737.1,690.7 736.9,679.6 736.2,666.6 735.0,651.2 733.6,635.1 732.0,619.7 730.5,606.6 729.6,597.3 729.1,597.3 729.5,606.6 730.1,619.8 730.9,635.3 731.7,651.5 732.3,666.8 732.6,679.7 732.4,690.6 732.0,701.1 731.8,710.8 731.5,719.4 731.2,726.6 731.2,731.9" fill="#74c043"/>
<polygon points="739.1,656.0 739.5,657.6 740.1,659.7 740.8,662.1 741.7,664.9 742.7,667.7 743.8,670.6 745.0,673.8 746.3,677.7 747.6,681.7 748.9,685.5 750.0,688.8 750.7,691.1 751.2,691.0 750.7,688.6 750.1,685.2 749.3,681.2 748.5,677.1 747.5,673.1 746.7,669.6 745.7,666.6 744.6,663.7 743.2,661.1 741.9,658.9 740.8,657.0 740.0,655.6" fill="#c2cf58"/>
<polygon points="747.2,758.6 747.3,754.2 747.3,748.2 747.3,741.0 747.1,733.2 746.9,725.2 746.6,717.4 745.9,709.5 745.0,701.1 743.8,692.5 742.6,684.1 741.3,676.3 740.0,669.7 738.5,664.0 736.9,659.0 735.2,654.8 733.6,651.3 732.1,648.4 731.2,646.2 730.7,646.4 731.2,648.8 731.8,651.9 732.6,655.6 733.5,660.0 734.4,664.9 735.2,670.5 736.0,677.1 736.8,684.8 737.6,693.2 738.4,701.8 739.2,710.2 740.0,718.0 741.1,725.6 742.1,733.6 743.0,741.3 743.8,748.4 744.5,754.4 745.2,758.7" fill="#6dbb50"/>
<polygon points="747.5,757.7 747.8,752.0 748.1,744.6 748.3,735.6 748.6,724.9 748.6,712.6 748.4,698.7 748.0,681.0 747.5,659.2 747.0,635.7 746.4,613.1 745.8,593.7 745.6,580.1 745.1,580.1 745.3,593.7 745.3,613.1 745.5,635.7 745.7,659.2 745.8,681.0 745.9,698.7 745.9,712.6 746.0,724.9 746.2,735.6 746.4,744.6 746.5,752.0 746.7,757.7" fill="#8ccf55"/>
<polygon points="747.9,732.1 749.2,726.8 750.8,719.8 752.7,711.3 754.6,701.6 756.0,691.0 757.0,679.8 757.7,666.8 758.1,651.4 758.4,635.2 758.6,619.8 758.5,606.6 758.6,597.3 758.1,597.3 757.5,606.6 756.6,619.7 755.7,635.1 754.7,651.3 753.6,666.6 752.5,679.4 751.2,690.4 749.9,700.9 748.8,710.6 747.7,719.3 746.9,726.5 746.4,731.9" fill="#74c043"/>
<polygon points="761.0,757.7 761.4,752.0 761.7,744.6 762.0,735.6 762.3,724.9 762.3,712.6 762.2,698.7 762.0,681.0 761.8,659.2 761.5,635.7 761.2,613.1 760.9,593.7 760.7,580.1 760.2,580.1 760.1,593.7 759.7,613.1 759.4,635.7 759.1,659.2 758.9,681.0 758.7,698.7 758.6,712.6 758.6,724.9 759.0,735.6 759.3,744.6 759.6,752.0 759.9,757.7" fill="#5aa632"/>
<polygon points="761.8,732.1 762.7,726.7 763.6,719.7 764.7,711.1 766.0,701.5 767.3,691.1 768.8,680.1 771.0,667.1 773.9,651.8 777.1,635.5 780.2,620.0 782.7,606.7 784.5,597.3 784.0,597.2 781.6,606.5 778.0,619.5 774.0,634.8 770.0,650.9 766.4,666.2 763.6,679.2 761.7,690.3 760.6,701.0 760.2,710.8 760.0,719.4 760.0,726.6 760.1,731.9" fill="#8ccf55"/>
<polygon points="762.2,722.6 763.8,717.2 766.0,709.7 768.4,700.7 771.1,690.9 773.6,680.7 776.0,670.7 778.7,659.9 781.8,647.7 785.0,635.1 787.9,623.2 790.4,613.1 792.1,605.9 791.7,605.8 789.4,612.8 786.1,622.7 782.3,634.3 778.4,646.7 774.7,658.8 771.6,669.5 768.9,679.5 766.5,689.8 764.6,699.9 762.9,709.0 761.6,716.7 760.7,722.3" fill="#74c043"/>
<polygon points="735.4,741.7 736.2,739.6 737.2,736.6 738.4,733.2 739.7,729.5 741.0,725.9 742.2,722.8 743.4,720.0 744.7,717.1 746.1,714.4 747.3,711.9 748.4,709.8 749.3,708.3 748.8,708.1 748.0,709.6 746.7,711.5 745.2,713.9 743.6,716.5 742.1,719.3 740.7,722.2 739.4,725.3 738.1,728.9 736.9,732.6 735.7,736.2 734.8,739.2 734.1,741.3" fill="#b8c850"/>
<polygon points="743.5,649.8 744.4,649.2 745.5,648.4 746.8,647.3 748.2,646.2 749.4,645.1 750.5,644.1 751.6,643.3 752.8,642.4 754.0,641.6 755.1,640.9 756.1,640.2 756.8,639.8 756.5,639.4 755.8,639.8 754.8,640.2 753.5,640.7 752.1,641.3 750.8,642.0 749.5,642.7 748.2,643.7 746.9,644.9 745.7,646.2 744.6,647.5 743.7,648.6 743.1,649.4" fill="#8ccf55"/>
<polygon points="747.7,714.3 750.2,711.2 753.7,706.7 757.7,701.5 762.0,695.9 766.2,690.4 769.9,685.7 773.0,681.4 776.0,677.2 778.7,673.1 781.4,669.2 784.0,665.3 786.5,661.5 789.2,657.6 791.9,653.6 794.6,649.6 797.1,646.0 799.1,642.9 800.7,640.7 800.3,640.4 798.6,642.5 796.1,645.2 793.2,648.5 790.1,652.2 786.9,655.9 783.9,659.6 781.1,663.2 778.2,666.9 775.3,670.7 772.4,674.6 769.3,678.7 766.3,683.1 763.0,688.2 759.2,693.9 755.4,699.8 751.7,705.3 748.7,710.1 746.6,713.5" fill="#c7d187"/>
<path d="M730.0 757.7L730.3 736.8" stroke="#9cc04a" stroke-width="1.14" fill="none" stroke-linecap="round"/>
<path d="M746.4 758.7L746.8 736.8" stroke="#9cc04a" stroke-width="1.14" fill="none" stroke-linecap="round"/>
<path d="M760.5 757.7L760.5 736.8" stroke="#9cc04a" stroke-width="1.14" fill="none" stroke-linecap="round"/>
</g>
<g clip-path="url(#ct1)">
<polygon points="829.7,757.7 835.4,736.8 841.1,735.8 882.0,735.8 885.9,737.7 892.5,756.8 891.1,765.3 888.7,773.9 834.4,773.9 831.1,765.3" fill="#f2609f"/>
<polygon points="831.4,764.9 890.8,764.9 888.7,773.9 834.4,773.9" fill="#f274b0"/>
<polygon points="834.0,757.7 837.8,744.4 882.0,744.4 887.3,757.7 884.9,760.1 835.9,760.1" fill="#6e5a49"/>
<polygon points="838.2,755.8 841.1,747.2 879.2,747.2 883.5,755.8" fill="#806a55"/>
<path d="M844.9 726.3C843.3 724.9 839.2 718.8 835.4 717.7C831.6 716.6 827.0 718.5 822.0 719.6C817.1 720.7 808.6 723.6 805.9 724.4" stroke="#cfc5a8" stroke-width="1.05" fill="none" stroke-linecap="round"/>
<path d="M840.1 713.0C838.9 712.6 835.1 709.5 832.5 711.0C830.0 712.6 826.6 717.9 824.9 722.5C823.2 727.1 822.9 736.0 822.5 738.7" stroke="#d5ccb0" stroke-width="0.86" fill="none" stroke-linecap="round"/>
<path d="M822.0 720.6C820.1 722.0 813.4 726.0 810.6 729.1C807.8 732.3 805.1 735.0 805.4 739.6C805.7 744.2 811.3 753.9 812.5 756.8" stroke="#d8c49a" stroke-width="1.24" fill="none" stroke-linecap="round"/>
<path d="M883.0 649.1C884.9 648.0 890.1 644.0 894.4 642.5C898.7 641.0 906.3 640.5 908.7 640.1" stroke="#c9bd95" stroke-width="0.76" fill="none" stroke-linecap="round"/>
<path d="M862.0 654.9C860.5 656.6 854.4 662.0 852.5 665.3C850.6 668.7 850.3 671.5 850.6 674.9C850.9 678.2 853.8 683.6 854.4 685.3" stroke="#d2cbb0" stroke-width="0.67" fill="none" stroke-linecap="round"/>
<path d="M871.6 663.4C872.8 664.2 877.8 666.1 879.2 668.2C880.6 670.3 880.8 673.6 880.1 675.8C879.5 678.0 876.2 680.6 875.4 681.5" stroke="#d2cbb0" stroke-width="0.76" fill="none" stroke-linecap="round"/>
<path d="M876.3 698.7C877.4 697.6 880.6 693.2 883.0 692.0C885.4 690.8 889.3 691.6 890.6 691.5" stroke="#c5c5b0" stroke-width="0.48" fill="none" stroke-linecap="round"/>
<path d="M843.0 700.6C844.0 699.9 846.8 697.6 848.7 696.8C850.6 696.0 853.5 696.0 854.4 695.8" stroke="#c5c5b0" stroke-width="0.48" fill="none" stroke-linecap="round"/>
<path d="M893.5 691.0C894.4 689.5 897.7 684.5 899.2 681.5C900.7 678.5 902.0 674.4 902.5 673.0" stroke="#d9d2b5" stroke-width="1.14" fill="none" stroke-linecap="round"/>
<polygon points="826.1,663.6 827.8,663.2 830.2,662.5 833.1,661.8 836.0,661.2 838.8,660.7 841.0,660.7 842.9,661.1 844.8,662.0 846.7,663.0 848.5,663.9 850.2,664.6 851.4,665.1 851.7,664.6 850.8,663.8 849.5,662.4 847.9,661.1 845.8,659.9 843.6,659.0 841.2,658.5 838.6,658.6 835.6,659.1 832.6,659.8 829.7,660.6 827.3,661.3 825.6,661.7" fill="#c5cf8a"/>
<polygon points="841.8,755.8 841.4,750.2 841.1,743.1 840.5,734.4 839.6,724.1 838.0,712.1 835.5,698.5 831.6,681.1 826.4,659.7 820.6,636.6 814.9,614.3 809.9,595.3 806.6,581.9 806.1,582.0 809.4,595.4 814.0,614.5 819.4,636.9 824.8,660.0 829.7,681.5 833.4,698.9 835.7,712.5 837.4,724.4 838.5,734.6 839.3,743.3 839.8,750.3 840.4,755.9" fill="#8fd058"/>
<polygon points="843.1,736.8 843.5,730.9 844.0,722.9 844.6,713.3 845.3,702.6 845.8,691.2 846.3,679.7 846.7,666.6 847.1,651.6 847.5,635.8 847.8,620.8 848.1,608.1 848.3,599.1 847.8,599.1 847.6,608.1 847.0,620.8 846.4,635.8 845.7,651.5 845.1,666.6 844.5,679.6 843.9,691.1 843.4,702.5 842.9,713.2 842.5,722.8 842.2,730.8 842.0,736.7" fill="#5aa632"/>
<polygon points="846.3,756.8 847.0,751.8 847.6,745.7 848.4,738.1 849.6,728.7 851.3,717.4 853.8,703.7 857.8,685.5 863.1,662.5 869.1,637.4 875.0,613.1 879.9,592.3 883.5,577.7 883.0,577.6 879.4,592.1 873.9,612.8 867.5,637.0 861.2,662.0 855.5,684.9 851.2,703.2 848.6,716.9 846.9,728.4 846.1,737.9 845.8,745.6 845.6,751.7 845.4,756.7" fill="#74c043"/>
<polygon points="854.2,690.7 853.7,688.4 852.8,685.3 851.7,681.6 850.5,677.6 848.8,674.0 847.1,670.9 845.2,668.1 843.2,665.4 841.1,662.8 839.1,660.7 837.3,658.9 836.1,657.6 835.6,657.9 836.4,659.5 837.3,661.8 838.6,664.5 840.0,667.4 841.4,670.3 842.7,673.1 844.1,676.2 845.8,679.8 847.8,683.3 849.7,686.6 851.4,689.4 852.7,691.4" fill="#b7c77a"/>
<polygon points="864.7,673.7 864.5,671.2 864.3,667.8 863.8,663.7 863.2,659.2 862.0,654.6 860.4,650.3 858.3,645.7 855.6,640.8 852.8,635.9 850.0,631.3 847.5,627.5 845.8,624.7 845.3,624.9 846.6,627.9 848.2,632.2 850.3,637.1 852.5,642.3 854.5,647.4 856.1,651.8 857.3,656.0 858.5,660.4 860.0,664.5 861.2,668.4 862.3,671.7 863.2,674.1" fill="#bccb80"/>
<polygon points="862.5,757.7 862.3,752.3 861.9,744.7 861.4,735.9 861.1,726.4 861.0,716.9 861.5,708.3 862.4,700.3 863.6,692.3 865.2,684.3 866.9,676.4 868.8,668.6 870.6,660.8 872.8,652.7 875.4,644.1 878.0,635.6 880.6,627.7 882.7,621.1 884.4,616.3 883.9,616.2 882.3,620.9 879.8,627.5 877.0,635.2 874.0,643.7 871.1,652.2 868.7,660.3 866.6,668.0 864.5,675.8 862.6,683.8 860.9,691.8 859.6,699.9 858.8,708.1 858.6,716.9 858.9,726.4 859.6,736.0 860.4,744.9 861.1,752.3 861.6,757.7" fill="#8ccf55"/>
<polygon points="864.4,757.8 865.3,753.4 866.5,748.2 867.8,741.6 869.2,733.0 870.3,722.1 871.1,708.3 871.7,689.1 872.2,664.6 872.7,637.7 873.0,611.5 873.2,589.0 873.5,573.4 873.0,573.4 872.6,589.0 871.8,611.5 871.0,637.7 870.1,664.5 869.2,689.1 868.3,708.1 867.3,721.8 866.2,732.7 865.4,741.2 864.6,747.9 863.9,753.2 863.5,757.6" fill="#74c043"/>
<polygon points="874.4,757.7 874.6,752.2 874.9,744.5 875.2,735.3 875.4,725.7 875.2,716.3 874.8,708.1 874.0,700.6 873.0,693.1 871.9,685.9 870.7,679.5 869.6,674.1 869.0,670.1 868.5,670.1 869.0,674.2 869.5,679.6 870.3,686.2 871.0,693.4 871.7,700.9 872.2,708.3 872.4,716.4 872.6,725.7 872.9,735.3 873.1,744.4 873.3,752.2 873.5,757.7" fill="#b9b878"/>
<polygon points="877.9,756.8 878.7,751.2 879.7,744.0 880.9,735.1 882.3,724.7 884.0,712.6 885.9,698.8 888.4,681.4 891.6,659.9 895.0,636.8 898.3,614.4 901.2,595.4 903.2,582.0 902.8,581.9 900.7,595.3 897.5,614.3 893.8,636.6 890.1,659.7 886.7,681.1 884.0,698.5 881.9,712.3 880.3,724.4 879.0,734.9 878.1,743.8 877.3,751.0 876.7,756.7" fill="#74c043"/>
<polygon points="879.7,736.9 881.3,732.4 883.2,726.5 885.5,719.3 888.3,710.8 891.5,700.8 895.3,689.4 900.2,674.9 906.4,656.9 913.1,637.5 919.5,618.7 925.1,602.7 929.0,591.5 928.6,591.3 924.6,602.6 918.8,618.5 912.1,637.1 905.1,656.4 898.7,674.4 893.6,688.9 889.7,700.2 886.5,710.2 883.9,718.8 881.7,726.1 880.0,732.0 878.6,736.6" fill="#8ccf55"/>
<polygon points="856.7,727.3 857.4,724.3 858.2,720.3 859.1,715.5 860.3,710.1 861.6,704.6 863.2,699.0 864.9,693.3 866.8,687.2 868.8,680.9 871.0,674.4 873.5,667.7 876.2,660.9 879.5,653.5 883.4,645.2 887.5,636.7 891.5,628.8 894.9,622.0 897.3,617.3 896.9,617.0 894.4,621.8 890.9,628.4 886.6,636.3 882.2,644.6 878.1,652.8 874.6,660.2 871.7,667.0 869.0,673.6 866.6,680.2 864.5,686.5 862.6,692.6 860.9,698.3 859.6,704.1 858.5,709.8 857.6,715.2 856.9,720.1 856.4,724.2 856.0,727.2" fill="#a8cc62"/>
<polygon points="864.4,720.2 867.4,718.4 871.4,715.8 876.0,712.7 881.0,709.4 885.8,705.8 890.1,702.4 894.3,699.1 898.8,695.5 903.2,691.9 907.3,688.6 910.7,685.7 913.1,683.6 912.9,683.2 910.1,684.8 906.2,687.0 901.6,689.7 896.7,692.7 891.9,695.7 887.4,698.7 882.9,701.9 878.1,705.6 873.6,709.6 869.4,713.4 865.9,716.6 863.5,719.0" fill="#a9c66c"/>
<polygon points="882.6,734.3 883.8,732.7 885.3,730.5 887.1,727.9 889.0,725.2 890.8,722.6 892.4,720.2 893.9,718.2 895.4,716.1 896.9,714.2 898.3,712.4 899.4,710.8 900.3,709.8 900.0,709.5 899.0,710.5 897.6,711.7 896.0,713.3 894.2,715.1 892.4,717.0 890.7,719.0 889.0,721.3 887.2,724.0 885.4,726.8 883.8,729.6 882.4,731.9 881.5,733.5" fill="#a8c060"/>
<path d="M841.6 755.8L841.1 736.8" stroke="#9cc04a" stroke-width="1.05" fill="none" stroke-linecap="round"/>
<path d="M846.3 756.8L847.0 736.8" stroke="#b9c060" stroke-width="1.05" fill="none" stroke-linecap="round"/>
<path d="M863.0 757.7L862.5 736.8" stroke="#9cc04a" stroke-width="1.14" fill="none" stroke-linecap="round"/>
<path d="M874.4 757.7L874.2 736.8" stroke="#c0b070" stroke-width="1.05" fill="none" stroke-linecap="round"/>
<path d="M877.8 756.8L878.7 736.8" stroke="#9cc04a" stroke-width="0.95" fill="none" stroke-linecap="round"/>
</g>
<g clip-path="url(#cb0)">
<path d="M729.9 778.9C730.0 780.9 730.4 787.4 730.4 791.3C730.4 795.1 730.0 800.1 729.9 801.9" stroke="#c9d2a0" stroke-width="2.13" fill="none" stroke-linecap="round"/>
<polygon points="728.4,801.6 727.6,805.9 726.4,811.9 725.1,818.9 723.7,826.5 722.3,833.9 721.2,840.7 720.3,846.8 719.4,852.9 718.7,858.9 718.0,864.8 717.3,870.5 716.6,876.2 715.9,882.1 715.3,888.3 714.9,894.4 714.7,900.0 714.6,904.8 714.6,908.3 715.1,908.3 715.8,904.9 716.7,900.3 717.7,894.7 718.6,888.6 719.4,882.5 720.1,876.6 720.7,870.9 721.4,865.2 722.0,859.3 722.8,853.3 723.5,847.3 724.4,841.2 725.5,834.4 726.8,827.0 728.2,819.5 729.5,812.4 730.6,806.5 731.4,802.2" fill="#2f5622"/>
<polygon points="729.4,791.5 729.9,793.8 730.4,796.9 731.1,800.6 732.0,804.9 733.2,809.7 734.7,814.8 736.7,820.7 739.0,827.9 741.6,835.4 744.4,842.8 747.5,849.3 750.9,854.3 754.7,857.5 758.7,859.2 762.9,859.8 767.0,859.8 771.0,859.8 774.9,860.2 779.2,860.8 784.0,861.3 788.8,861.8 793.3,862.1 797.2,862.2 799.9,862.4 800.0,862.0 797.3,861.5 793.5,860.6 789.1,859.8 784.3,858.9 779.7,858.0 775.3,857.1 771.2,856.7 767.0,856.7 763.1,856.6 759.5,856.2 756.3,854.9 753.2,852.3 750.2,847.9 747.2,841.6 744.4,834.4 741.8,826.9 739.4,819.8 737.5,813.9 735.9,808.9 734.7,804.3 733.8,800.1 733.1,796.4 732.6,793.4 732.1,791.0" fill="#3f6b27"/>
<path d="M747.6 778.9C747.2 781.8 745.8 789.2 745.0 796.6C744.2 804.0 743.2 818.8 742.8 823.2" stroke="#c9d2a0" stroke-width="1.60" fill="none" stroke-linecap="round"/>
<polygon points="741.4,823.0 740.8,827.9 740.0,834.6 739.1,842.6 738.1,851.2 737.1,859.7 736.3,867.4 735.5,874.8 734.8,882.7 734.1,890.5 733.9,897.7 733.9,903.8 734.1,908.3 734.6,908.3 735.5,904.0 736.5,898.0 737.4,890.8 738.1,883.0 738.8,875.1 739.5,867.7 740.2,860.0 741.1,851.5 742.1,843.0 743.0,835.0 743.7,828.2 744.3,823.4" fill="#2f5622"/>
<polygon points="742.1,828.6 742.3,832.8 742.7,838.6 743.1,845.5 743.6,853.0 744.1,860.6 744.6,867.6 745.1,874.8 745.8,882.6 746.5,890.5 747.4,897.8 748.4,903.9 749.1,908.3 749.6,908.3 749.6,903.8 749.5,897.6 749.1,890.2 748.4,882.4 747.7,874.6 747.1,867.4 746.6,860.4 746.0,852.9 745.5,845.4 745.0,838.5 744.6,832.7 744.3,828.4" fill="#2f5622"/>
<path d="M748.2 780.6C748.4 783.0 748.7 790.1 749.4 794.8C750.0 799.6 751.6 806.6 752.1 809.0" stroke="#6b4423" stroke-width="1.06" fill="none" stroke-linecap="round"/>
<polygon points="750.9,809.7 752.2,811.8 753.9,814.8 755.9,818.4 758.3,822.2 760.8,826.0 763.3,829.4 766.0,832.6 768.9,835.7 771.9,838.8 775.0,841.8 778.1,844.7 781.2,847.4 784.3,850.2 787.8,852.9 791.4,855.4 794.8,857.6 797.7,859.3 799.8,860.6 800.1,860.2 798.3,858.5 795.9,856.2 792.9,853.5 789.7,850.6 786.4,847.8 783.2,845.1 780.2,842.4 777.1,839.5 774.1,836.6 771.1,833.6 768.2,830.6 765.6,827.6 763.1,824.3 760.7,820.6 758.4,816.9 756.3,813.4 754.5,810.5 753.2,808.3" fill="#3f6b27"/>
<path d="M763.6 778.0C763.0 780.5 760.9 788.5 760.0 793.0C759.1 797.6 758.6 803.4 758.3 805.5" stroke="#c9d2a0" stroke-width="1.95" fill="none" stroke-linecap="round"/>
<polygon points="756.5,805.4 756.5,808.3 756.4,812.2 756.4,816.9 756.3,821.9 756.3,827.1 756.4,832.1 756.5,837.0 756.7,842.0 756.9,847.1 757.1,852.3 757.5,857.4 758.1,862.5 758.9,867.5 759.8,872.6 760.8,877.6 761.9,882.4 763.1,887.0 764.3,891.2 765.8,895.0 767.6,898.6 769.5,901.8 771.3,904.5 772.9,906.7 774.0,908.4 774.4,908.2 773.8,906.3 772.9,903.7 771.8,900.6 770.5,897.3 769.3,893.7 768.1,890.0 767.0,885.9 765.8,881.5 764.7,876.7 763.7,871.8 762.7,866.8 762.0,861.9 761.4,857.0 761.0,852.0 760.7,846.9 760.4,841.8 760.3,836.8 760.1,832.0 760.0,827.1 759.9,821.9 759.9,816.9 760.0,812.2 760.0,808.3 760.0,805.5" fill="#2f5622"/>
<path d="M760.9 810.8C762.1 816.4 765.9 833.5 768.0 844.5C770.1 855.4 771.6 866.9 773.3 876.4C775.1 885.8 777.8 897.1 778.7 901.2" stroke="#6e9440" stroke-width="3.01" fill="none" stroke-linecap="round"/>
<path d="M729.0 778.0L731.1 779.8" stroke="#6b4423" stroke-width="1.77" fill="none" stroke-linecap="round"/>
<path d="M747.6 776.7L749.9 778.0" stroke="#6b4423" stroke-width="1.77" fill="none" stroke-linecap="round"/>
<path d="M763.0 776.7L765.4 778.0" stroke="#6b4423" stroke-width="1.77" fill="none" stroke-linecap="round"/>
</g>
<g clip-path="url(#cb1)">
<path d="M807.0 826.7C808.2 828.2 810.9 833.8 814.1 835.6C817.4 837.4 823.0 839.7 826.5 837.4C830.1 835.0 833.9 824.1 835.4 821.4" stroke="#b9a868" stroke-width="1.24" fill="none" stroke-linecap="round"/>
<path d="M807.0 869.3C808.8 872.5 813.8 883.6 817.7 888.8C821.5 894.0 825.3 898.1 830.1 900.3C834.8 902.5 841.7 903.7 846.0 902.1C850.3 900.5 854.0 894.9 855.8 890.6C857.6 886.3 857.7 881.1 856.7 876.4C855.6 871.7 850.8 864.6 849.6 862.2" stroke="#c8924e" stroke-width="1.60" fill="none" stroke-linecap="round"/>
<path d="M849.6 859.5C852.5 859.4 861.4 857.5 867.3 858.7C873.2 859.8 880.8 864.0 885.0 866.6C889.3 869.3 894.2 872.4 893.0 874.6C891.8 876.8 880.5 879.0 877.9 879.9" stroke="#c9a047" stroke-width="1.60" fill="none" stroke-linecap="round"/>
<polygon points="814.9,876.8 815.7,875.4 816.7,873.5 817.8,871.2 819.1,868.8 820.5,866.5 822.0,864.6 823.4,862.9 825.0,861.2 826.5,859.6 828.2,858.2 830.1,857.0 832.2,856.1 834.8,855.4 838.0,854.9 841.4,854.5 844.7,854.1 847.6,853.8 849.6,853.6 849.6,853.1 847.5,853.1 844.7,852.9 841.3,852.8 837.8,852.9 834.4,853.3 831.5,854.1 829.1,855.2 827.0,856.6 825.2,858.1 823.5,859.8 821.9,861.6 820.4,863.4 818.9,865.4 817.5,867.8 816.2,870.3 815.0,872.6 814.0,874.6 813.3,876.0" fill="#3f6b27"/>
<path d="M837.2 777.1C836.9 780.3 835.7 790.4 835.7 796.6C835.7 802.8 836.9 811.4 837.2 814.3" stroke="#9aa866" stroke-width="1.77" fill="none" stroke-linecap="round"/>
<polygon points="835.6,814.8 836.5,818.0 837.8,822.4 839.4,827.7 841.1,833.4 842.7,839.3 844.3,844.9 845.8,850.6 847.3,856.6 848.8,862.8 850.3,868.9 851.7,874.8 853.0,880.4 854.3,885.8 855.6,891.4 857.1,896.7 858.5,901.4 859.9,905.4 860.9,908.4 861.3,908.2 861.1,905.2 860.7,901.0 860.0,896.0 859.2,890.6 858.1,885.0 856.8,879.5 855.4,873.9 854.0,868.0 852.4,861.9 850.9,855.7 849.3,849.7 847.8,844.0 846.2,838.3 844.4,832.4 842.7,826.7 841.1,821.5 839.7,817.1 838.8,813.9" fill="#2f5622"/>
<path d="M854.0 777.1C853.4 781.8 851.5 796.9 850.5 805.5C849.4 814.0 848.8 822.6 847.8 828.5C846.8 834.4 844.8 838.9 844.3 840.9" stroke="#b2b35c" stroke-width="1.77" fill="none" stroke-linecap="round"/>
<path d="M854.9 778.9C855.8 781.5 858.4 789.5 860.2 794.8C862.0 800.1 864.6 808.1 865.5 810.8" stroke="#6b4423" stroke-width="1.24" fill="none" stroke-linecap="round"/>
<path d="M865.5 810.8C865.4 815.2 864.3 830.0 864.6 837.4C864.9 844.8 866.0 845.7 867.3 855.1C868.6 864.6 871.7 887.6 872.6 894.1" stroke="#a8ad4a" stroke-width="1.60" fill="none" stroke-linecap="round"/>
<path d="M874.4 778.9C873.7 782.1 870.9 792.5 870.0 798.4C869.1 804.3 869.2 811.7 869.1 814.3" stroke="#9aa866" stroke-width="1.77" fill="none" stroke-linecap="round"/>
<polygon points="868.2,814.7 869.2,819.3 870.5,825.7 872.1,833.2 873.9,841.2 875.9,849.0 877.9,855.7 880.1,861.7 882.6,867.3 885.2,872.6 887.7,877.6 890.0,882.1 892.0,886.2 893.6,889.8 895.2,893.0 896.8,895.8 898.3,898.1 899.7,899.9 900.8,901.3 901.2,901.1 900.9,899.4 900.5,897.1 899.9,894.4 898.9,891.4 897.5,888.0 895.8,884.3 893.7,880.2 891.4,875.7 888.8,870.8 886.2,865.6 883.7,860.2 881.6,854.5 879.6,847.9 877.6,840.3 875.8,832.4 874.1,824.9 872.8,818.5 871.7,813.9" fill="#2f5622"/>
<polygon points="869.5,828.9 871.0,833.6 873.1,840.3 875.6,848.0 878.1,856.1 880.2,863.6 881.8,869.6 882.6,874.2 883.0,878.1 883.2,881.4 883.0,884.4 882.8,887.3 882.5,890.4 882.0,893.6 881.4,897.0 880.7,900.4 880.1,903.5 879.8,906.3 879.5,908.2 880.0,908.4 880.8,906.6 882.0,904.1 883.3,901.1 884.4,897.8 885.3,894.2 885.8,890.8 886.1,887.6 886.3,884.5 886.4,881.4 886.2,877.8 885.7,873.8 884.8,869.0 883.2,862.7 881.0,855.2 878.4,847.1 875.9,839.4 873.7,832.7 872.2,828.1" fill="#2f5622"/>
<polygon points="884.2,869.5 884.8,872.3 885.6,876.3 886.6,881.0 887.7,885.9 888.6,890.5 889.4,894.3 889.9,897.4 890.2,900.3 890.5,902.9 891.0,905.1 891.5,906.9 891.9,908.3 892.4,908.3 892.5,906.8 892.6,904.9 892.6,902.6 892.3,900.0 891.9,897.1 891.4,893.9 890.6,890.1 889.6,885.5 888.5,880.6 887.5,875.9 886.6,871.9 885.9,869.1" fill="#3f6b27"/>
<polygon points="838.1,823.3 838.7,826.3 839.5,830.5 840.4,835.4 841.4,840.6 842.4,845.6 843.3,850.0 844.3,853.9 845.3,857.8 846.3,861.5 847.5,864.7 848.6,867.4 849.3,869.4 849.8,869.2 849.4,867.1 848.9,864.3 848.2,860.9 847.2,857.3 846.1,853.4 845.2,849.6 844.2,845.3 843.2,840.3 842.1,835.1 841.2,830.2 840.3,826.0 839.7,823.0" fill="#3f6b27"/>
</g>
<g clip-path="url(#ct2)">
<polygon points="935.0,757.8 941.3,737.1 947.0,735.8 996.4,735.8 1001.8,737.6 1009.0,757.8 1007.6,765.8 1005.1,774.8 938.9,774.8 936.4,765.8" fill="#f2609f"/>
<polygon points="936.6,765.5 1007.4,765.5 1005.1,774.8 938.9,774.8" fill="#f274b0"/>
<polygon points="940.7,758.7 945.8,744.3 998.8,744.3 1004.0,758.7 1000.9,760.6 943.4,760.6" fill="#6e5a49"/>
<polygon points="945.2,756.9 948.8,747.9 995.5,747.9 999.7,756.9" fill="#806a55"/>
<path d="M938.9 667.9C941.0 666.4 947.3 658.4 951.5 658.9C955.7 659.5 961.4 663.4 964.1 671.5C966.8 679.6 967.1 701.5 967.7 707.5" stroke="#cdb68a" stroke-width="1.26" fill="none" stroke-linecap="round"/>
<path d="M933.6 691.3C933.2 694.6 930.5 706.6 931.4 711.1C932.3 715.5 937.7 717.0 938.9 718.2" stroke="#d9d3bf" stroke-width="1.26" fill="none" stroke-linecap="round"/>
<path d="M926.4 736.2C927.9 733.5 931.8 720.3 935.4 720.0C938.9 719.7 942.8 731.1 947.9 734.4C953.0 737.7 962.9 738.9 965.9 739.8" stroke="#c9c078" stroke-width="1.98" fill="none" stroke-linecap="round"/>
<path d="M987.5 667.9C990.5 667.0 999.4 662.5 1005.4 662.5C1011.4 662.5 1020.4 667.0 1023.4 667.9" stroke="#cdb68a" stroke-width="1.08" fill="none" stroke-linecap="round"/>
<path d="M930.9 642.8C933.1 648.5 939.1 666.7 944.3 676.9C949.6 687.1 959.3 699.4 962.3 703.9" stroke="#c08850" stroke-width="0.90" fill="none" stroke-linecap="round"/>
<path d="M942.5 685.9C944.3 686.8 949.4 686.2 953.3 691.3C957.2 696.4 963.8 712.2 965.9 716.4" stroke="#d9d3bf" stroke-width="1.26" fill="none" stroke-linecap="round"/>
<polygon points="951.0,739.7 949.3,734.7 947.0,727.8 944.1,719.7 941.0,710.9 937.8,702.3 934.7,694.4 931.7,686.7 928.4,678.4 925.1,670.2 922.0,662.7 919.4,656.3 917.6,651.7 917.2,651.9 918.9,656.5 921.0,663.1 923.7,670.8 926.6,679.1 929.6,687.5 932.4,695.3 935.3,703.3 938.6,711.8 942.1,720.4 945.4,728.4 948.2,735.1 950.2,739.9" fill="#5aa632"/>
<polygon points="951.0,754.1 950.1,748.2 949.0,740.5 947.4,731.2 945.6,720.3 943.1,708.1 940.2,694.6 936.3,678.1 931.4,657.9 926.2,636.4 921.0,615.7 916.6,598.0 913.6,585.6 913.1,585.7 916.0,598.2 920.0,615.9 924.7,636.7 929.6,658.3 934.1,678.6 937.7,695.1 940.5,708.6 943.0,720.8 945.3,731.6 947.3,740.8 948.9,748.4 950.2,754.2" fill="#74c043"/>
<polygon points="955.5,754.1 955.4,748.3 955.2,740.6 954.9,731.3 954.5,720.5 953.8,708.3 952.8,694.8 951.4,678.2 949.7,658.1 947.8,636.5 945.9,615.8 944.3,598.1 943.2,585.6 942.7,585.7 943.7,598.1 944.9,615.9 946.3,636.6 947.8,658.2 949.2,678.4 950.3,695.0 951.1,708.4 951.9,720.6 952.8,731.4 953.5,740.7 954.2,748.3 954.7,754.2" fill="#5aa632"/>
<polygon points="968.3,755.9 968.3,749.8 968.2,741.8 968.0,732.2 967.7,721.0 967.0,708.4 965.9,694.8 964.5,678.1 962.7,657.9 960.7,636.4 958.7,615.7 957.0,598.1 955.8,585.6 955.3,585.7 956.1,598.1 957.2,615.8 958.5,636.5 959.9,658.1 961.2,678.3 962.3,695.0 963.1,708.7 963.9,721.2 964.9,732.3 965.7,742.0 966.4,749.9 967.1,756.0" fill="#74c043"/>
<polygon points="969.9,756.0 970.4,749.9 971.0,742.0 971.6,732.3 972.3,721.1 972.9,708.6 973.4,694.9 974.1,678.2 974.9,658.0 975.7,636.5 976.4,615.8 977.0,598.1 977.6,585.7 977.1,585.6 976.4,598.1 975.4,615.7 974.2,636.4 973.0,657.9 971.8,678.1 971.0,694.8 970.2,708.5 969.7,721.0 969.4,732.2 969.2,741.9 969.1,749.9 969.1,755.9" fill="#5aa632"/>
<polygon points="971.8,756.0 972.7,750.0 973.9,742.0 975.2,732.4 976.7,721.3 978.3,708.8 980.0,695.1 982.3,678.4 985.3,658.2 988.4,636.6 991.4,615.9 993.9,598.1 995.8,585.7 995.3,585.6 993.2,598.0 990.1,615.6 986.5,636.3 982.9,657.8 979.6,678.0 976.9,694.7 975.0,708.3 973.4,720.9 972.5,732.1 971.7,741.8 971.2,749.8 970.8,755.9" fill="#74c043"/>
<polygon points="975.6,756.1 977.4,750.1 979.5,742.2 982.0,732.7 985.0,721.6 988.1,709.1 991.4,695.5 995.7,678.7 1001.1,658.5 1006.8,636.8 1012.3,616.0 1016.9,598.2 1020.2,585.7 1019.7,585.6 1016.0,598.0 1010.5,615.5 1004.2,636.1 997.8,657.5 991.9,677.7 987.1,694.3 983.4,708.0 980.4,720.5 978.3,731.8 976.5,741.6 975.2,749.6 974.2,755.8" fill="#8ccf55"/>
<polygon points="988.0,756.1 989.2,750.0 990.8,742.1 992.6,732.5 994.8,721.4 997.1,708.9 999.8,695.2 1003.3,678.5 1007.8,658.3 1012.6,636.7 1017.3,615.9 1021.2,598.2 1024.1,585.7 1023.6,585.6 1020.5,598.0 1016.0,615.6 1010.8,636.2 1005.4,657.7 1000.6,677.9 996.7,694.6 993.8,708.2 991.5,720.8 989.9,732.0 988.6,741.7 987.7,749.8 987.0,755.9" fill="#5aa632"/>
<polygon points="992.0,756.2 994.1,750.5 996.7,742.4 999.6,732.9 1002.9,723.0 1005.7,713.3 1008.3,704.9 1011.0,697.4 1014.2,689.9 1017.4,682.6 1020.4,676.0 1022.8,670.4 1024.5,666.3 1024.1,666.0 1021.6,669.7 1018.1,674.8 1014.1,680.9 1010.0,687.8 1006.0,695.2 1002.6,702.8 999.5,711.4 996.7,721.2 994.5,731.6 992.6,741.4 991.1,749.8 990.1,755.7" fill="#74c043"/>
<polygon points="993.7,756.3 995.9,752.0 998.9,745.9 1002.2,738.7 1005.8,731.1 1008.9,723.9 1011.5,717.7 1014.0,712.4 1016.7,707.2 1019.4,702.3 1021.7,698.0 1023.6,694.2 1025.0,691.4 1024.6,691.1 1022.6,693.5 1019.7,696.6 1016.5,700.4 1013.1,704.9 1009.7,709.9 1006.5,715.2 1003.4,721.5 1000.3,728.9 997.7,736.9 995.3,744.5 993.3,751.0 992.0,755.6" fill="#b8cb86"/>
<polygon points="989.8,747.4 991.5,745.6 993.9,742.9 996.6,739.7 999.3,736.3 1001.9,733.0 1003.9,730.1 1005.3,727.0 1006.2,723.5 1006.8,720.4 1007.1,717.9 1007.2,716.8 1003.7,716.4 1003.7,718.8 1003.4,723.3 1002.9,729.0 1002.4,734.8 1002.0,740.0 1001.6,743.4 1002.1,743.4 1002.6,740.0 1003.7,735.0 1004.8,729.3 1005.8,723.7 1006.7,719.1 1007.1,716.5 1003.5,715.6 1003.0,717.1 1002.5,719.5 1001.7,722.4 1000.8,725.4 999.7,728.0 998.4,730.8 996.4,734.2 994.1,737.9 991.8,741.4 989.9,744.4 988.7,746.6" fill="#5aa632"/>
<polygon points="954.6,747.0 955.3,742.0 956.1,735.7 957.1,727.9 958.2,718.5 959.1,707.6 959.9,695.0 960.9,678.8 962.0,658.7 963.2,637.1 964.2,616.1 965.0,598.2 965.8,585.7 965.3,585.6 964.5,598.2 963.2,616.1 961.7,637.0 960.1,658.6 958.7,678.6 957.5,694.8 956.5,707.4 955.6,718.3 955.0,727.7 954.4,735.5 954.1,741.9 953.8,746.9" fill="#8ccf55"/>
<polygon points="984.3,739.9 985.0,735.9 986.0,730.3 987.1,723.7 988.1,716.7 988.7,709.8 988.9,703.9 988.5,698.4 987.7,693.1 986.7,688.0 985.7,683.5 984.7,679.7 984.1,676.9 983.6,677.0 984.0,679.8 984.5,683.7 985.0,688.3 985.6,693.4 986.0,698.6 986.1,703.9 985.7,709.7 985.2,716.4 984.7,723.4 984.1,730.0 983.6,735.7 983.4,739.7" fill="#b8cb86"/>
</g>
<g clip-path="url(#ct3)">
<polygon points="1049.1,755.6 1055.4,733.5 1061.1,732.3 1106.9,732.3 1112.3,734.0 1120.4,755.6 1119.0,764.1 1116.5,774.8 1053.0,774.8 1050.5,764.1" fill="#f2609f"/>
<polygon points="1050.7,763.7 1118.8,763.7 1116.5,774.8 1053.0,774.8" fill="#f274b0"/>
<polygon points="1054.8,756.9 1059.7,741.6 1109.3,741.6 1115.0,756.9 1111.8,758.8 1057.9,758.8" fill="#6e5a49"/>
<polygon points="1061.1,756.0 1064.7,745.2 1104.2,745.2 1108.7,756.0" fill="#94897f"/>
<path d="M1080.9 637.4C1085.7 640.4 1100.1 649.4 1109.6 655.4C1119.2 661.3 1133.3 670.3 1138.0 673.3" stroke="#cdb68a" stroke-width="0.72" fill="none" stroke-linecap="round"/>
<path d="M1095.3 707.5C1097.1 703.6 1102.1 689.3 1106.0 684.1C1109.9 678.9 1114.9 676.0 1118.6 676.0C1122.4 676.0 1127.6 678.9 1128.5 684.1C1129.4 689.3 1124.8 703.6 1124.0 707.5" stroke="#cdb68a" stroke-width="0.72" fill="none" stroke-linecap="round"/>
<path d="M1106.0 732.6C1108.1 729.0 1114.6 714.6 1118.6 711.1C1122.7 707.5 1127.3 709.3 1130.3 711.1C1133.3 712.8 1138.5 714.6 1136.6 721.8C1134.6 729.0 1121.6 748.8 1118.6 754.2" stroke="#cdb68a" stroke-width="0.90" fill="none" stroke-linecap="round"/>
<path d="M1032.4 718.2C1032.7 715.8 1033.1 707.3 1034.2 703.9C1035.2 700.4 1037.9 698.6 1038.7 697.6" stroke="#cdb68a" stroke-width="1.08" fill="none" stroke-linecap="round"/>
<path d="M1037.8 747.0C1036.9 744.6 1033.5 737.4 1032.4 732.6C1031.2 727.8 1031.2 720.6 1030.9 718.2" stroke="#cdb68a" stroke-width="1.08" fill="none" stroke-linecap="round"/>
<path d="M1039.6 747.0C1041.1 745.2 1045.8 738.9 1048.5 736.2C1051.2 733.5 1054.5 731.7 1055.7 730.8" stroke="#c9c078" stroke-width="1.62" fill="none" stroke-linecap="round"/>
<path d="M1043.2 658.9C1046.1 658.2 1055.4 655.1 1061.1 654.5C1066.8 653.9 1074.6 655.2 1077.3 655.4" stroke="#cdb68a" stroke-width="0.90" fill="none" stroke-linecap="round"/>
<polygon points="1063.8,755.8 1063.0,749.5 1061.8,741.4 1060.3,731.5 1058.2,720.1 1055.1,707.6 1051.2,694.1 1046.0,677.9 1039.4,658.3 1032.2,637.6 1025.1,617.8 1019.0,600.9 1014.6,589.0 1014.2,589.1 1017.7,601.3 1022.8,618.5 1028.9,638.7 1035.3,659.7 1041.2,679.4 1045.9,695.7 1049.4,709.1 1052.5,721.5 1055.5,732.6 1058.0,742.2 1060.2,750.1 1062.0,756.2" fill="#74c043"/>
<polygon points="1065.3,754.1 1064.7,748.2 1063.9,740.5 1062.8,731.1 1061.3,720.2 1058.9,707.9 1055.7,694.4 1051.2,677.9 1045.4,657.7 1039.0,636.3 1032.7,615.6 1027.2,598.0 1023.5,585.6 1023.0,585.7 1026.4,598.2 1031.2,616.0 1036.8,636.9 1042.7,658.5 1048.0,678.7 1052.2,695.3 1055.1,708.7 1057.5,720.9 1059.7,731.6 1061.4,740.8 1062.9,748.4 1064.1,754.3" fill="#8ccf55"/>
<polygon points="1067.4,755.9 1067.1,749.8 1066.7,741.9 1066.2,732.2 1065.5,721.0 1064.3,708.5 1062.8,694.7 1060.6,677.8 1057.9,657.3 1055.0,635.5 1052.0,614.5 1049.4,596.5 1047.7,583.9 1047.2,584.0 1048.7,596.6 1050.6,614.6 1053.0,635.7 1055.4,657.6 1057.7,678.2 1059.5,695.1 1060.8,708.8 1062.0,721.4 1063.1,732.5 1064.1,742.1 1064.9,750.0 1065.6,756.0" fill="#b9ad7c"/>
<polygon points="1079.9,755.9 1079.7,749.8 1079.4,741.8 1078.8,732.1 1078.0,720.9 1076.5,708.3 1074.3,694.5 1071.1,677.6 1067.1,657.2 1062.6,635.3 1058.2,614.4 1054.3,596.5 1051.7,583.9 1051.2,584.0 1053.3,596.7 1056.2,614.7 1059.8,635.9 1063.5,657.8 1066.9,678.4 1069.5,695.3 1071.4,709.0 1073.0,721.5 1074.7,732.6 1076.1,742.1 1077.2,750.0 1078.3,756.0" fill="#74c043"/>
<polygon points="1081.5,755.9 1081.5,749.9 1081.6,741.9 1081.5,732.3 1081.3,721.1 1080.4,708.5 1079.1,694.7 1077.1,677.8 1074.4,657.3 1071.3,635.5 1068.3,614.5 1065.6,596.5 1063.9,583.9 1063.4,584.0 1064.8,596.6 1066.8,614.6 1069.1,635.7 1071.6,657.7 1073.8,678.2 1075.5,695.1 1076.6,708.8 1077.5,721.3 1078.4,732.4 1079.1,742.0 1079.7,749.9 1080.3,756.0" fill="#5aa632"/>
<polygon points="1083.3,754.2 1083.9,748.4 1084.5,740.8 1085.2,731.5 1086.1,720.8 1087.0,708.6 1088.1,695.1 1089.7,678.3 1092.0,657.8 1094.4,635.8 1096.8,614.7 1098.7,596.7 1100.2,584.0 1099.7,583.9 1097.9,596.6 1095.2,614.5 1092.2,635.6 1089.2,657.4 1086.5,677.9 1084.5,694.7 1083.1,708.3 1082.3,720.5 1082.0,731.4 1082.0,740.7 1082.0,748.3 1082.1,754.1" fill="#74c043"/>
<polygon points="1101.2,755.9 1100.9,749.8 1100.4,741.8 1099.7,732.2 1098.7,721.0 1097.2,708.4 1095.3,694.6 1092.6,677.8 1089.2,657.3 1085.6,635.4 1082.0,614.4 1078.8,596.5 1076.6,583.9 1076.1,584.0 1078.0,596.7 1080.4,614.7 1083.4,635.8 1086.5,657.7 1089.4,678.2 1091.7,695.1 1093.4,708.9 1095.0,721.4 1096.5,732.5 1097.9,742.1 1099.1,750.0 1100.1,756.0" fill="#5aa632"/>
<polygon points="1102.8,756.0 1103.9,750.0 1105.1,742.1 1106.5,732.5 1108.3,721.4 1110.3,708.9 1112.6,695.1 1115.9,678.2 1120.1,657.7 1124.7,635.8 1129.1,614.7 1132.8,596.6 1135.6,584.0 1135.1,583.9 1132.3,596.5 1128.1,614.4 1123.2,635.4 1118.2,657.3 1113.7,677.8 1110.2,694.6 1107.7,708.4 1105.7,721.0 1104.4,732.2 1103.4,741.9 1102.6,749.8 1102.0,755.9" fill="#74c043"/>
<polygon points="1085.2,733.1 1088.3,729.7 1092.5,724.7 1097.3,718.9 1102.4,712.6 1107.3,706.2 1111.8,700.3 1116.4,694.5 1121.5,688.4 1126.6,682.3 1131.4,676.6 1135.3,671.7 1138.2,668.1 1137.8,667.8 1134.4,670.8 1129.7,674.9 1124.2,679.9 1118.3,685.4 1112.6,691.2 1107.5,696.7 1102.6,702.5 1097.7,709.1 1093.3,716.0 1089.3,722.5 1086.0,728.0 1083.7,732.1" fill="#b8cb86"/>
<polygon points="1069.0,704.1 1070.4,701.2 1072.2,697.0 1074.3,692.1 1076.5,687.0 1078.2,681.9 1079.4,677.6 1080.4,673.8 1081.2,670.1 1081.9,666.6 1082.3,663.5 1082.6,660.9 1082.9,659.0 1082.4,658.9 1081.6,660.7 1080.5,663.0 1079.2,665.9 1077.9,669.1 1076.5,672.6 1075.2,676.2 1073.6,680.5 1072.0,685.5 1070.6,690.9 1069.3,696.1 1068.3,700.5 1067.6,703.6" fill="#8ccf55"/>
<polygon points="1111.9,734.1 1113.5,733.3 1115.7,732.0 1118.3,730.4 1120.9,728.8 1123.3,727.0 1125.2,725.5 1127.0,724.1 1128.9,722.8 1130.8,721.6 1132.4,720.3 1133.8,719.2 1134.9,718.5 1134.7,718.0 1133.4,718.3 1131.7,718.6 1129.6,719.1 1127.4,719.8 1125.0,720.7 1122.8,721.8 1120.5,723.2 1118.0,725.1 1115.8,727.4 1113.8,729.6 1112.1,731.5 1111.0,732.9" fill="#74c043"/>
<polygon points="1113.5,739.2 1115.2,738.3 1117.6,736.9 1120.4,735.3 1123.3,733.6 1126.0,731.7 1128.3,730.0 1130.3,728.5 1132.1,726.9 1133.9,725.4 1135.4,724.0 1136.6,722.8 1137.6,722.0 1137.3,721.6 1136.3,722.4 1134.8,723.2 1133.0,724.2 1131.0,725.4 1129.0,726.7 1126.9,728.0 1124.5,729.5 1121.9,731.4 1119.2,733.5 1116.6,735.5 1114.5,737.3 1113.0,738.6" fill="#5aa632"/>
<path d="M1098.8 739.8C1100.6 742.8 1106.6 752.3 1109.6 757.8C1112.6 763.2 1115.6 770.0 1116.8 772.5" stroke="#cdb68a" stroke-width="1.26" fill="none" stroke-linecap="round"/>
</g>
<g clip-path="url(#cb2)">
<path d="M953.3 788.0C951.2 794.0 945.5 813.7 940.7 823.9C936.0 834.1 924.9 844.0 924.6 849.1C924.3 854.1 932.4 855.9 938.9 854.4C945.5 852.9 959.9 842.5 964.1 840.1" stroke="#c6a066" stroke-width="0.90" fill="none" stroke-linecap="round"/>
<path d="M980.3 854.4C982.4 854.4 989.6 853.0 992.8 854.1C996.1 855.1 1000.6 858.9 1000.0 860.7C999.4 862.6 989.0 862.7 989.3 865.2C989.6 867.8 996.0 873.8 1001.8 876.0C1007.7 878.2 1020.5 878.2 1024.3 878.7" stroke="#c99a55" stroke-width="1.08" fill="none" stroke-linecap="round"/>
<path d="M1019.8 878.7C1020.5 881.5 1023.7 890.8 1024.3 895.8C1024.9 900.7 1023.5 906.2 1023.4 908.3" stroke="#c99a55" stroke-width="0.90" fill="none" stroke-linecap="round"/>
<path d="M935.4 908.3C936.9 906.2 941.3 899.4 944.3 895.8C947.3 892.2 951.8 888.3 953.3 886.8" stroke="#c99a55" stroke-width="1.08" fill="none" stroke-linecap="round"/>
<path d="M973.1 805.9C972.9 812.5 971.9 834.7 972.2 845.5C972.5 856.2 971.7 862.8 974.9 870.6C978.0 878.4 985.4 885.9 991.1 892.2C996.7 898.5 1006.0 905.6 1009.0 908.3" stroke="#c7a25e" stroke-width="1.08" fill="none" stroke-linecap="round"/>
<path d="M953.3 776.3C953.4 777.3 953.7 780.3 953.7 782.6C953.6 784.8 953.1 788.6 953.0 789.8" stroke="#6b4423" stroke-width="1.08" fill="none" stroke-linecap="round"/>
<path d="M953.0 789.8C952.9 793.1 951.8 802.3 952.4 809.5C953.1 816.7 956.2 829.0 956.9 832.9" stroke="#a7b154" stroke-width="1.44" fill="none" stroke-linecap="round"/>
<polygon points="950.0,823.8 949.6,827.4 949.0,832.3 948.3,838.2 947.6,844.5 946.9,850.6 946.4,856.2 945.9,861.5 945.5,867.1 945.2,872.6 945.1,877.6 945.1,881.9 945.0,885.0 945.5,885.0 945.7,881.9 946.2,877.7 946.6,872.7 946.9,867.2 947.3,861.6 947.7,856.3 948.2,850.8 948.9,844.6 949.6,838.3 950.3,832.5 950.8,827.5 951.2,824.0" fill="#2f5622"/>
<path d="M974.0 778.1C974.1 781.2 975.5 789.3 974.9 796.9C974.3 804.6 971.1 819.4 970.4 823.9" stroke="#a7b154" stroke-width="1.62" fill="none" stroke-linecap="round"/>
<polygon points="969.2,823.6 968.5,826.5 967.6,830.5 966.5,835.2 965.3,840.3 964.1,845.5 962.8,850.5 961.5,855.6 960.0,861.1 958.5,866.8 957.0,872.2 955.7,877.0 954.6,881.0 953.8,884.1 953.3,886.5 953.1,888.4 953.0,889.9 953.1,891.1 953.1,892.1 953.6,892.2 954.0,891.3 954.6,890.3 955.3,889.0 955.9,887.2 956.6,884.8 957.4,881.8 958.4,877.8 959.7,872.9 961.2,867.5 962.7,861.8 964.1,856.3 965.4,851.2 966.6,846.1 967.8,840.9 969.0,835.7 970.1,831.0 970.9,827.1 971.6,824.2" fill="#3f6b27"/>
<polygon points="968.3,810.1 965.9,812.5 962.5,815.8 958.6,819.7 954.4,823.9 950.3,828.0 946.6,831.6 943.4,834.7 940.2,837.7 937.1,840.6 934.1,843.5 931.2,846.5 928.5,849.6 925.8,852.9 923.2,856.3 920.6,859.7 918.4,863.2 916.6,866.7 915.4,870.2 915.1,873.6 915.6,876.9 916.5,880.0 917.8,882.8 919.0,885.3 920.2,887.5 921.4,889.7 922.9,891.9 924.4,893.8 925.8,895.4 927.1,896.7 928.0,897.7 928.4,897.4 927.8,896.2 927.1,894.5 926.2,892.6 925.3,890.5 924.3,888.3 923.5,886.0 922.6,883.6 921.5,881.1 920.4,878.5 919.5,876.0 919.2,873.5 919.4,871.0 920.3,868.3 921.8,865.2 923.9,862.0 926.3,858.6 928.9,855.3 931.4,852.1 934.0,849.1 936.8,846.2 939.7,843.3 942.8,840.4 946.0,837.4 949.2,834.2 952.9,830.5 956.9,826.4 961.1,822.3 965.0,818.3 968.4,815.0 970.7,812.6" fill="#2f5622"/>
<polygon points="964.9,837.8 962.9,841.7 960.2,847.1 957.1,853.6 953.6,860.5 950.1,867.3 946.8,873.6 943.4,879.8 939.6,886.3 935.8,892.9 932.4,899.0 929.8,904.3 928.0,908.2 928.4,908.5 930.9,905.0 934.3,900.1 938.1,894.2 941.9,887.6 945.7,881.0 949.1,874.8 952.4,868.5 955.8,861.6 959.2,854.6 962.4,848.2 965.0,842.7 966.9,838.8" fill="#2f5622"/>
<polygon points="961.6,841.4 959.0,845.0 955.5,850.2 951.3,856.2 946.8,862.5 942.3,868.5 938.2,873.6 934.2,878.0 929.9,882.3 925.6,886.3 921.8,890.0 918.6,893.2 916.3,895.6 916.7,895.9 919.2,893.9 922.8,891.2 926.9,887.7 931.2,883.7 935.6,879.3 939.7,874.8 943.8,869.6 948.3,863.6 952.8,857.2 956.9,851.1 960.5,846.0 963.0,842.3" fill="#2f5622"/>
<path d="M984.8 777.2C985.5 779.9 988.1 788.0 989.3 793.4C990.5 798.7 991.5 806.8 991.9 809.5" stroke="#b9bf6e" stroke-width="1.62" fill="none" stroke-linecap="round"/>
<path d="M991.9 809.5C992.5 812.8 994.6 822.7 995.0 829.3C995.4 835.9 994.4 845.8 994.3 849.1" stroke="#a7b154" stroke-width="1.80" fill="none" stroke-linecap="round"/>
<polygon points="991.4,823.9 991.4,826.9 991.4,831.0 991.4,835.8 991.3,841.0 991.3,846.2 991.3,850.9 991.4,855.4 991.4,860.3 991.5,865.1 991.7,869.6 992.0,873.3 992.1,876.0 992.6,876.0 992.5,873.3 992.7,869.5 992.7,865.1 992.7,860.3 992.6,855.4 992.5,850.8 992.5,846.1 992.5,841.0 992.5,835.8 992.5,831.0 992.5,826.9 992.5,823.9" fill="#2f5622"/>
<polygon points="987.9,811.0 987.1,813.9 985.9,818.0 984.5,822.8 983.1,828.1 981.7,833.2 980.6,838.0 979.8,842.1 979.1,845.8 978.5,849.5 977.9,853.5 977.4,857.9 976.9,863.3 976.3,870.2 975.9,878.5 975.6,887.4 975.5,895.9 975.6,903.2 975.5,908.3 976.0,908.4 976.6,903.3 977.4,896.0 978.2,887.5 978.9,878.7 979.6,870.4 980.1,863.6 980.6,858.3 981.0,853.8 981.5,849.9 982.1,846.3 982.7,842.6 983.5,838.6 984.6,833.9 985.9,828.8 987.3,823.6 988.6,818.8 989.8,814.7 990.6,811.7" fill="#2f5622"/>
</g>
<g clip-path="url(#cb3)">
<path d="M1104.2 780.8C1103.9 783.8 1102.6 793.1 1102.4 798.7C1102.3 804.4 1101.8 808.3 1103.3 814.9C1104.8 821.5 1108.6 830.8 1111.4 838.3C1114.3 845.8 1118.3 852.6 1120.4 859.8C1122.5 867.0 1124.3 875.1 1124.0 881.4C1123.7 887.7 1121.3 893.5 1118.6 897.6C1115.9 901.6 1109.6 904.3 1107.8 905.6" stroke="#c98f45" stroke-width="1.44" fill="none" stroke-linecap="round"/>
<path d="M1125.8 850.8C1123.1 852.0 1115.3 854.1 1109.6 858.0C1103.9 861.9 1097.7 867.9 1091.7 874.2C1085.7 880.5 1078.5 891.1 1073.7 895.8C1068.9 900.4 1065.9 903.2 1062.9 902.1C1059.9 900.9 1055.4 892.6 1055.7 888.6C1056.0 884.5 1061.1 881.1 1064.7 877.8C1068.3 874.5 1075.2 870.3 1077.3 868.8" stroke="#b98d4e" stroke-width="0.90" fill="none" stroke-linecap="round"/>
<path d="M1061.1 795.2C1062.2 798.4 1065.9 807.4 1067.4 814.9C1068.9 822.4 1070.3 834.1 1070.1 840.1C1070.0 846.1 1067.1 849.1 1066.5 850.8" stroke="#c29a52" stroke-width="1.08" fill="none" stroke-linecap="round"/>
<path d="M1080.9 892.2C1082.7 894.0 1087.2 900.3 1091.7 903.0C1096.2 905.6 1105.1 907.4 1107.8 908.3" stroke="#c29a52" stroke-width="1.26" fill="none" stroke-linecap="round"/>
<path d="M1062.0 774.5C1061.1 777.0 1057.7 784.5 1056.6 789.8C1055.6 795.0 1055.9 803.2 1055.7 805.9" stroke="#b99a50" stroke-width="1.44" fill="none" stroke-linecap="round"/>
<path d="M1055.7 805.9C1055.7 809.8 1056.7 820.3 1055.4 829.3C1054.0 838.3 1049.5 851.1 1047.6 859.8C1045.8 868.5 1044.4 875.1 1044.1 881.4C1043.8 887.7 1043.9 893.1 1045.8 897.6C1047.8 902.1 1054.1 906.5 1055.7 908.3" stroke="#6f7f30" stroke-width="1.62" fill="none" stroke-linecap="round"/>
<path d="M1077.3 775.4C1076.8 777.5 1075.2 782.9 1074.6 788.0C1074.0 793.1 1073.8 802.9 1073.7 805.9" stroke="#6b4423" stroke-width="1.26" fill="none" stroke-linecap="round"/>
<polygon points="1072.6,805.9 1072.7,809.9 1072.7,815.3 1072.7,821.7 1072.8,828.6 1072.9,835.5 1073.1,841.9 1073.3,848.0 1073.6,854.1 1074.0,860.2 1074.4,866.3 1074.8,872.2 1075.2,877.9 1075.6,883.7 1076.2,889.6 1076.9,895.4 1077.6,900.7 1078.4,905.1 1078.8,908.4 1079.3,908.3 1079.2,905.0 1079.1,900.6 1078.9,895.2 1078.5,889.4 1078.1,883.5 1077.6,877.7 1077.2,872.0 1076.8,866.1 1076.4,860.1 1076.0,854.0 1075.7,847.9 1075.4,841.8 1075.2,835.4 1075.0,828.5 1074.9,821.6 1074.9,815.2 1074.8,809.8 1074.8,805.9" fill="#3f6b27"/>
<path d="M1106.9 779.9C1106.0 783.3 1102.9 794.7 1101.5 800.5C1100.2 806.4 1099.3 812.5 1098.8 814.9" stroke="#a59c4a" stroke-width="1.44" fill="none" stroke-linecap="round"/>
<path d="M1098.8 814.9C1097.7 820.9 1093.8 841.6 1091.7 850.8C1089.6 860.1 1088.1 865.5 1086.3 870.6C1084.5 875.7 1081.8 879.6 1080.9 881.4" stroke="#5c8030" stroke-width="1.98" fill="none" stroke-linecap="round"/>
<polygon points="1056.4,827.8 1057.1,830.6 1058.2,834.4 1059.4,838.8 1060.8,843.7 1062.2,848.5 1063.4,853.0 1064.6,857.3 1065.9,861.7 1067.1,866.0 1068.3,870.3 1069.5,874.4 1070.5,878.2 1071.6,881.8 1072.7,885.4 1074.0,888.7 1075.2,891.6 1076.3,894.0 1077.0,895.8 1077.5,895.7 1077.2,893.8 1076.8,891.1 1076.1,888.0 1075.3,884.6 1074.3,881.0 1073.3,877.4 1072.2,873.6 1071.0,869.6 1069.7,865.3 1068.5,860.9 1067.2,856.6 1066.0,852.3 1064.7,847.8 1063.3,843.0 1061.9,838.1 1060.6,833.7 1059.5,829.9 1058.7,827.2" fill="#2f5622"/>
<polygon points="1095.7,829.4 1095.9,832.4 1096.3,836.5 1096.8,841.3 1097.2,846.5 1097.6,851.6 1097.7,856.3 1097.8,860.5 1097.8,864.7 1097.7,868.8 1097.4,872.8 1097.0,876.9 1096.4,881.1 1095.3,885.7 1094.0,890.8 1092.6,896.0 1091.3,901.0 1090.3,905.2 1089.6,908.3 1090.1,908.4 1091.3,905.5 1093.1,901.6 1095.0,896.8 1096.9,891.7 1098.5,886.5 1099.5,881.7 1100.2,877.3 1100.6,873.1 1100.8,868.9 1100.8,864.7 1100.8,860.5 1100.7,856.2 1100.5,851.5 1100.1,846.3 1099.6,841.1 1099.1,836.2 1098.7,832.1 1098.4,829.2" fill="#2f5622"/>
<path d="M1077.3 813.1C1080.3 815.2 1090.5 821.2 1095.3 825.7C1100.0 830.2 1105.4 835.9 1106.0 840.1C1106.6 844.3 1104.2 847.6 1098.8 850.8C1093.5 854.1 1081.8 857.1 1073.7 859.8C1065.6 862.5 1054.2 865.8 1050.3 867.0" stroke="#a9a53e" stroke-width="1.62" fill="none" stroke-linecap="round"/>
<polygon points="1073.1,870.6 1073.0,871.8 1072.9,873.5 1072.8,875.5 1072.6,877.6 1072.4,879.6 1072.1,881.3 1071.8,882.7 1071.3,884.1 1070.7,885.4 1070.4,886.6 1070.1,887.7 1069.9,888.5 1070.3,888.7 1070.7,888.0 1071.4,887.1 1072.0,885.9 1072.6,884.6 1073.1,883.1 1073.5,881.5 1073.7,879.8 1073.9,877.7 1074.1,875.6 1074.2,873.6 1074.2,871.9 1074.3,870.6" fill="#2f5622"/>
</g>
<g clip-path="url(#ct4)">
<polygon points="1151.7,759.8 1162.6,729.0 1228.1,727.1 1235.0,755.2 1230.2,769.1 1158.5,771.0" fill="#1c1c1c"/>
<polygon points="1156.4,761.5 1165.8,734.3 1225.2,731.7 1229.8,764.7 1166.8,766.8" fill="#a5744a"/>
<polygon points="1166.8,746.8 1179.4,738.5 1208.8,736.4 1221.4,751.0 1208.8,762.6 1175.2,762.6" fill="#b58357"/>
<path d="M1246.6 719.6C1243.1 720.0 1231.9 723.0 1225.6 722.1C1219.3 721.2 1211.6 715.6 1208.8 714.3" stroke="#cdb68a" stroke-width="0.84" fill="none" stroke-linecap="round"/>
<path d="M1143.8 645.1C1146.9 648.1 1157.8 655.8 1162.6 662.9C1167.5 670.1 1171.4 683.9 1173.1 688.1" stroke="#cdb68a" stroke-width="0.84" fill="none" stroke-linecap="round"/>
<path d="M1179.4 686.0C1178.1 687.1 1172.2 688.1 1171.5 692.3C1170.7 696.5 1172.4 702.4 1174.8 711.2C1177.2 719.9 1181.5 737.9 1185.7 744.7C1190.0 751.6 1197.5 752.1 1200.4 752.1C1203.3 752.1 1208.5 747.4 1202.9 744.7C1197.3 742.1 1172.9 737.8 1166.8 736.4" stroke="#e2d8b8" stroke-width="1.47" fill="none" stroke-linecap="round"/>
<path d="M1154.3 759.4C1158.5 758.9 1171.7 756.6 1179.4 756.3C1187.1 755.9 1196.9 757.2 1200.4 757.3" stroke="#e2d8b8" stroke-width="1.05" fill="none" stroke-linecap="round"/>
<polygon points="1179.8,700.5 1178.5,697.4 1176.5,693.1 1174.1,688.0 1171.5,682.6 1168.7,677.4 1166.0,672.7 1163.3,668.2 1160.3,663.4 1157.2,658.7 1154.4,654.4 1151.9,650.8 1150.3,648.1 1149.8,648.4 1151.4,651.1 1153.3,655.0 1155.7,659.6 1158.3,664.5 1161.0,669.5 1163.5,674.1 1166.0,678.9 1168.8,684.1 1171.9,689.2 1174.7,694.0 1177.2,698.0 1179.0,700.9" fill="#5aa632"/>
<polygon points="1178.0,755.3 1178.7,749.1 1179.4,741.0 1180.2,731.1 1181.1,719.9 1181.6,707.6 1182.0,694.5 1182.3,678.9 1182.6,660.4 1182.9,640.8 1183.1,622.1 1183.2,606.1 1183.3,594.8 1182.8,594.7 1182.2,606.0 1181.3,622.0 1180.3,640.7 1179.4,660.3 1178.5,678.8 1177.7,694.3 1177.1,707.4 1176.6,719.7 1176.5,731.0 1176.5,740.8 1176.5,749.0 1176.6,755.2" fill="#74c043"/>
<polygon points="1186.3,746.9 1186.8,741.8 1187.2,735.3 1187.7,727.4 1188.2,717.9 1188.5,707.0 1188.6,694.4 1188.7,678.4 1188.8,658.7 1189.0,637.3 1189.0,616.7 1189.0,599.1 1189.0,586.8 1188.5,586.8 1188.1,599.1 1187.4,616.7 1186.7,637.3 1186.0,658.6 1185.4,678.4 1184.9,694.4 1184.6,706.9 1184.4,717.9 1184.5,727.3 1184.7,735.3 1184.9,741.8 1185.1,746.8" fill="#8ccf55"/>
<polygon points="1192.7,751.1 1193.2,745.5 1193.7,738.3 1194.3,729.6 1194.8,719.3 1195.1,707.6 1195.2,694.4 1195.3,678.0 1195.4,657.8 1195.4,636.1 1195.4,615.2 1195.3,597.3 1195.3,584.8 1194.8,584.8 1194.3,597.3 1193.6,615.2 1192.8,636.0 1192.1,657.7 1191.5,677.9 1190.9,694.4 1190.6,707.5 1190.4,719.3 1190.6,729.5 1190.8,738.3 1191.0,745.5 1191.3,751.0" fill="#5aa632"/>
<polygon points="1194.7,746.9 1195.9,742.0 1197.3,735.6 1199.0,727.7 1201.0,718.4 1203.1,707.4 1205.3,694.7 1208.4,678.5 1212.1,658.3 1216.2,636.5 1220.1,615.5 1223.4,597.5 1225.7,584.8 1225.2,584.7 1222.5,597.3 1218.6,615.2 1214.0,636.1 1209.4,657.8 1205.1,677.9 1201.8,694.1 1199.2,706.7 1197.2,717.7 1195.9,727.2 1194.9,735.1 1194.1,741.6 1193.5,746.7" fill="#74c043"/>
<polygon points="1211.6,755.2 1211.7,749.6 1211.7,741.8 1211.7,732.6 1211.6,722.8 1211.3,713.3 1210.9,704.8 1210.6,696.9 1210.3,688.7 1210.0,680.8 1209.6,673.5 1209.3,667.4 1209.0,662.9 1208.5,662.9 1208.3,667.4 1207.8,673.5 1207.4,680.8 1207.0,688.7 1206.8,696.9 1206.7,704.9 1206.8,713.5 1207.2,723.0 1208.0,732.8 1208.8,741.9 1209.6,749.7 1210.2,755.3" fill="#5aa632"/>
<polygon points="1213.7,734.5 1215.6,729.7 1218.0,723.1 1220.9,715.3 1224.0,706.9 1226.9,698.6 1229.6,691.0 1232.5,683.6 1235.8,675.8 1239.2,668.1 1242.3,660.9 1244.9,654.8 1246.8,650.5 1246.3,650.2 1244.0,654.4 1240.7,660.1 1236.9,667.0 1232.9,674.4 1229.1,682.1 1225.7,689.4 1222.7,697.0 1219.8,705.5 1217.4,714.2 1215.3,722.2 1213.5,729.1 1212.3,734.0" fill="#74c043"/>
<polygon points="1209.3,717.6 1210.5,714.0 1212.2,709.0 1214.2,703.0 1216.3,696.6 1218.1,690.2 1219.6,684.3 1221.0,678.5 1222.5,672.4 1223.9,666.3 1225.1,660.7 1226.0,655.9 1226.9,652.5 1226.4,652.4 1225.4,655.8 1223.9,660.4 1222.2,665.9 1220.4,671.8 1218.5,677.8 1216.8,683.5 1215.1,689.4 1213.4,695.8 1211.8,702.3 1210.3,708.4 1209.1,713.6 1208.3,717.3" fill="#8ccf55"/>
<polygon points="1200.8,684.2 1202.9,681.8 1205.5,678.6 1208.7,674.7 1212.4,670.2 1216.3,665.1 1220.4,659.6 1225.5,653.1 1231.6,645.2 1238.1,636.8 1244.3,628.7 1249.6,621.8 1253.4,617.0 1253.0,616.7 1249.1,621.4 1243.3,628.0 1236.7,635.7 1229.9,643.8 1223.4,651.4 1218.2,657.8 1213.8,663.3 1210.0,668.4 1206.7,673.2 1203.9,677.4 1201.7,680.9 1200.0,683.6" fill="#5aa632"/>
<polygon points="1233.6,642.0 1233.6,643.5 1233.7,645.6 1233.8,648.1 1233.9,650.7 1234.2,653.3 1234.5,655.7 1234.8,658.1 1235.0,660.7 1235.3,663.3 1235.5,665.7 1235.8,667.7 1235.8,669.2 1236.3,669.2 1236.3,667.7 1236.5,665.7 1236.7,663.2 1236.8,660.6 1236.8,658.0 1236.8,655.5 1236.6,653.0 1236.3,650.4 1235.8,647.8 1235.2,645.4 1234.8,643.4 1234.3,641.9" fill="#74c043"/>
<polygon points="1188.3,717.4 1188.1,713.8 1187.9,709.1 1187.5,703.4 1187.0,696.6 1186.1,688.7 1185.1,679.6 1183.7,667.8 1182.1,653.2 1180.3,637.4 1178.5,622.2 1176.9,609.1 1175.9,600.0 1175.4,600.0 1176.2,609.2 1177.2,622.3 1178.5,637.6 1179.8,653.4 1181.1,668.1 1182.2,679.9 1183.1,689.0 1183.9,697.0 1185.0,703.7 1185.9,709.4 1186.7,713.9 1187.4,717.5" fill="#a9c25a"/>
<polygon points="1203.0,725.8 1202.9,721.8 1202.7,716.6 1202.5,710.3 1202.3,702.8 1202.0,694.0 1201.9,683.9 1202.1,671.0 1202.5,654.9 1203.2,637.5 1203.8,620.7 1204.2,606.3 1204.6,596.2 1204.1,596.2 1203.6,606.3 1202.5,620.6 1201.4,637.4 1200.3,654.8 1199.5,670.9 1199.0,683.9 1198.9,694.1 1199.2,702.9 1200.0,710.5 1200.7,716.8 1201.5,721.9 1202.0,725.9" fill="#74c043"/>
<path d="M1166.8 656.6L1165.2 662.9" stroke="#d9d480" stroke-width="1.68" fill="none" stroke-linecap="round"/>
<path d="M1187.8 642.0L1186.1 650.3" stroke="#d9d480" stroke-width="1.68" fill="none" stroke-linecap="round"/>
<path d="M1204.6 639.9L1203.6 648.2" stroke="#d9d480" stroke-width="1.68" fill="none" stroke-linecap="round"/>
</g>
<g clip-path="url(#cb4)">
<path d="M1182.6 774.1C1182.5 775.5 1182.3 779.9 1181.9 782.5C1181.6 785.1 1180.7 788.6 1180.5 789.8" stroke="#8a6a35" stroke-width="1.05" fill="none" stroke-linecap="round"/>
<polygon points="1179.5,789.4 1178.9,790.8 1178.2,792.4 1177.3,794.5 1176.2,797.0 1174.8,800.2 1173.1,804.1 1171.0,809.0 1168.5,814.8 1165.7,821.2 1162.9,827.9 1160.0,834.6 1157.3,840.7 1154.6,846.9 1151.9,853.4 1149.2,859.9 1146.9,865.9 1145.0,871.0 1143.5,874.7 1144.0,874.9 1145.7,871.3 1148.2,866.5 1151.0,860.7 1154.0,854.4 1156.9,847.9 1159.6,841.7 1162.3,835.5 1165.1,828.9 1167.9,822.2 1170.7,815.7 1173.2,809.9 1175.2,805.0 1176.9,801.1 1178.3,797.9 1179.3,795.3 1180.2,793.3 1180.9,791.6 1181.5,790.3" fill="#2f5622"/>
<polygon points="1181.3,789.0 1181.9,792.2 1182.6,796.4 1183.5,801.5 1184.5,807.3 1185.5,813.6 1186.5,820.4 1187.5,828.3 1188.6,837.5 1189.7,847.3 1190.8,856.9 1191.8,865.7 1192.7,872.9 1193.4,878.5 1194.2,883.0 1194.9,886.7 1195.7,889.6 1196.5,891.8 1197.0,893.7 1197.5,893.6 1197.4,891.7 1197.4,889.3 1197.2,886.3 1196.9,882.6 1196.3,878.1 1195.6,872.5 1194.7,865.4 1193.6,856.6 1192.5,847.0 1191.3,837.2 1190.2,828.0 1189.2,820.1 1188.1,813.2 1187.1,806.8 1186.1,801.0 1185.2,796.0 1184.4,791.8 1183.8,788.6" fill="#2f5622"/>
<path d="M1191.0 777.3C1191.5 780.9 1193.1 792.5 1194.1 799.3C1195.2 806.1 1196.7 815.0 1197.3 818.2" stroke="#c9a055" stroke-width="1.05" fill="none" stroke-linecap="round"/>
<path d="M1201.5 776.2C1202.0 780.1 1202.0 791.9 1204.6 799.3C1207.2 806.6 1214.7 814.0 1217.2 820.3C1219.6 826.6 1219.6 833.6 1219.3 837.0C1218.9 840.5 1215.8 840.5 1215.1 841.2" stroke="#9a7440" stroke-width="1.05" fill="none" stroke-linecap="round"/>
<path d="M1202.5 799.3C1203.6 806.3 1205.7 828.3 1208.8 841.2C1211.9 854.2 1217.9 867.5 1221.4 876.9C1224.9 886.3 1229.8 893.3 1229.8 897.9C1229.8 902.4 1225.6 906.6 1221.4 904.2C1217.2 901.7 1207.4 886.7 1204.6 883.2" stroke="#5a6a2a" stroke-width="1.47" fill="none" stroke-linecap="round"/>
<path d="M1202.5 809.8C1202.7 813.3 1203.1 824.3 1203.6 830.8C1204.0 837.2 1204.8 845.6 1205.0 848.6" stroke="#6a7a35" stroke-width="0.84" fill="none" stroke-linecap="round"/>
<path d="M1185.7 818.2C1184.3 821.0 1178.7 829.7 1176.9 834.9C1175.2 840.2 1175.5 847.2 1175.2 849.6" stroke="#c9b060" stroke-width="1.47" fill="none" stroke-linecap="round"/>
<polygon points="1184.9,859.9 1184.2,862.7 1183.3,866.5 1182.1,871.1 1180.9,875.9 1179.7,880.7 1178.6,885.1 1177.4,889.3 1176.2,893.8 1175.0,898.2 1174.1,902.3 1173.4,905.8 1172.9,908.3 1173.4,908.4 1174.2,906.0 1175.5,902.7 1176.8,898.7 1178.0,894.2 1179.2,889.8 1180.3,885.5 1181.4,881.1 1182.6,876.3 1183.8,871.5 1184.9,866.9 1185.8,863.1 1186.5,860.3" fill="#2f5622"/>
<polygon points="1187.0,822.4 1187.1,825.6 1187.2,829.9 1187.4,835.1 1187.6,840.7 1187.8,846.4 1188.0,851.8 1188.2,857.3 1188.4,863.3 1188.7,869.3 1189.2,875.0 1189.7,879.8 1190.1,883.2 1190.6,883.2 1190.6,879.7 1190.7,874.9 1190.6,869.3 1190.3,863.2 1190.0,857.2 1189.8,851.7 1189.5,846.3 1189.3,840.7 1189.1,835.1 1188.9,829.9 1188.7,825.5 1188.6,822.3" fill="#2f5622"/>
<polygon points="1193.4,830.9 1194.1,835.5 1194.9,842.0 1196.0,849.6 1197.2,857.8 1198.4,865.7 1199.6,872.9 1201.0,879.6 1202.6,886.6 1204.2,893.4 1205.9,899.5 1207.5,904.7 1208.6,908.4 1209.0,908.3 1208.2,904.5 1207.2,899.2 1205.8,893.0 1204.2,886.2 1202.6,879.3 1201.2,872.6 1199.9,865.5 1198.7,857.5 1197.5,849.4 1196.4,841.8 1195.5,835.3 1194.8,830.7" fill="#2f5622"/>
</g>
</g>
<g id="panelG">
<text x="670.6" y="936.3" font-size="24">G</text>
<rect x="760.7" y="1001.3" width="21.7" height="121.0" fill="#04b804" stroke="#000" stroke-width="1.4"/>
<rect x="795.5" y="1003.2" width="22.0" height="119.1" fill="#04b804" stroke="#000" stroke-width="1.4"/>
<rect x="830.5" y="1041.5" width="22.0" height="80.9" fill="#04b804" stroke="#000" stroke-width="1.4"/>
<rect x="864.8" y="1066.3" width="22.5" height="56.0" fill="#04b804" stroke="#000" stroke-width="1.4"/>
<rect x="899.8" y="1075.5" width="22.2" height="46.8" fill="#04b804" stroke="#000" stroke-width="1.4"/>
<line x1="748.2" y1="935.5" x2="748.2" y2="1123.1" stroke="#000" stroke-width="2"/>
<line x1="740.7" y1="1122.3" x2="934.5" y2="1122.3" stroke="#000" stroke-width="2"/>
<line x1="740.7" y1="1122.3" x2="748.2" y2="1122.3" stroke="#000" stroke-width="2"/>
<text x="737.8" y="1127.5" font-size="14.5" text-anchor="end">0.0</text>
<line x1="740.7" y1="1060.3" x2="748.2" y2="1060.3" stroke="#000" stroke-width="2"/>
<text x="737.8" y="1065.5" font-size="14.5" text-anchor="end">0.5</text>
<line x1="740.7" y1="998.3" x2="748.2" y2="998.3" stroke="#000" stroke-width="2"/>
<text x="737.8" y="1003.5" font-size="14.5" text-anchor="end">1.0</text>
<line x1="740.7" y1="936.3" x2="748.2" y2="936.3" stroke="#000" stroke-width="2"/>
<text x="737.8" y="941.5" font-size="14.5" text-anchor="end">1.5</text>
<line x1="771.4" y1="1122.3" x2="771.4" y2="1129.8" stroke="#000" stroke-width="2"/>
<line x1="806.1" y1="1122.3" x2="806.1" y2="1129.8" stroke="#000" stroke-width="2"/>
<line x1="840.7" y1="1122.3" x2="840.7" y2="1129.8" stroke="#000" stroke-width="2"/>
<line x1="875.4" y1="1122.3" x2="875.4" y2="1129.8" stroke="#000" stroke-width="2"/>
<line x1="910.9" y1="1122.3" x2="910.9" y2="1129.8" stroke="#000" stroke-width="2"/>
<line x1="771.9" y1="995.9" x2="771.9" y2="1007.7" stroke="#000" stroke-width="1.1"/>
<line x1="766.6" y1="995.9" x2="777.2" y2="995.9" stroke="#000" stroke-width="1.1"/>
<line x1="766.6" y1="1007.7" x2="777.2" y2="1007.7" stroke="#000" stroke-width="1.1"/>
<line x1="806.4" y1="998.2" x2="806.4" y2="1007.7" stroke="#000" stroke-width="1.1"/>
<line x1="801.1" y1="998.2" x2="811.7" y2="998.2" stroke="#000" stroke-width="1.1"/>
<line x1="801.1" y1="1007.7" x2="811.7" y2="1007.7" stroke="#000" stroke-width="1.1"/>
<line x1="841.1" y1="1038.4" x2="841.1" y2="1042.7" stroke="#000" stroke-width="1.1"/>
<line x1="835.8" y1="1038.4" x2="846.4" y2="1038.4" stroke="#000" stroke-width="1.1"/>
<line x1="835.8" y1="1042.7" x2="846.4" y2="1042.7" stroke="#000" stroke-width="1.1"/>
<line x1="875.4" y1="1063.5" x2="875.4" y2="1067.5" stroke="#000" stroke-width="1.1"/>
<line x1="870.1" y1="1063.5" x2="880.7" y2="1063.5" stroke="#000" stroke-width="1.1"/>
<line x1="870.1" y1="1067.5" x2="880.7" y2="1067.5" stroke="#000" stroke-width="1.1"/>
<line x1="910.9" y1="1074.6" x2="910.9" y2="1075.8" stroke="#000" stroke-width="1.1"/>
<line x1="905.6" y1="1074.6" x2="916.2" y2="1074.6" stroke="#000" stroke-width="1.1"/>
<line x1="905.6" y1="1075.8" x2="916.2" y2="1075.8" stroke="#000" stroke-width="1.1"/>
<circle cx="770.2" cy="997.3" r="1.7"/>
<circle cx="773.7" cy="997.3" r="1.7"/>
<circle cx="771.9" cy="1007.7" r="1.7"/>
<circle cx="806.4" cy="998.2" r="1.7"/>
<circle cx="804.5" cy="1004.4" r="1.7"/>
<circle cx="808.0" cy="1007.2" r="1.7"/>
<circle cx="833.3" cy="1038.6" r="1.7"/>
<circle cx="841.1" cy="1042.7" r="1.7"/>
<circle cx="848.9" cy="1043.4" r="1.7"/>
<circle cx="868.3" cy="1063.5" r="1.7"/>
<circle cx="876.1" cy="1066.3" r="1.7"/>
<circle cx="884.1" cy="1067.5" r="1.7"/>
<circle cx="902.6" cy="1075.0" r="1.7"/>
<circle cx="910.9" cy="1075.0" r="1.7"/>
<circle cx="918.4" cy="1075.8" r="1.7"/>
<text x="772.1" y="987.6" font-size="11.5" text-anchor="middle">a</text>
<text x="806.4" y="990.7" font-size="11.5" text-anchor="middle">a</text>
<text x="843.5" y="1032.5" font-size="11.5" text-anchor="middle">b</text>
<text x="875.4" y="1055.2" font-size="11.5" text-anchor="middle">c</text>
<text x="910.9" y="1066.8" font-size="11.5" text-anchor="middle">c</text>
<text x="711.0" y="1029.0" font-size="15.5" text-anchor="middle" transform="rotate(-90 711.0 1029.0)" textLength="141" lengthAdjust="spacingAndGlyphs">Relative expression</text>
<text x="775.9" y="1143.0" font-size="14" text-anchor="end" stroke="#000" stroke-width="0.3" transform="rotate(-45 775.9 1143.0)">WT</text>
<text x="810.6" y="1143.0" font-size="14" text-anchor="end" stroke="#000" stroke-width="0.3" transform="rotate(-45 810.6 1143.0)">BSMV<tspan font-size="10" dy="2.5">0</tspan></text>
<text x="845.2" y="1143.0" font-size="14" text-anchor="end" stroke="#000" stroke-width="0.3" transform="rotate(-45 845.2 1143.0)">BSMV<tspan font-size="10.7" font-style="italic" font-weight="normal" stroke="#000" stroke-width="0.45" dx="0.3" dy="3">Tanfd4</tspan></text>
<text x="879.9" y="1143.0" font-size="14" text-anchor="end" stroke="#000" stroke-width="0.3" transform="rotate(-45 879.9 1143.0)">BSMV<tspan font-size="10.7" font-style="italic" font-weight="normal" stroke="#000" stroke-width="0.45" dx="0.3" dy="3">TaHDP21</tspan></text>
<text x="915.4" y="1143.0" font-size="14" text-anchor="end" stroke="#000" stroke-width="0.3" transform="rotate(-45 915.4 1143.0)">BSMV<tspan font-size="10.7" font-style="italic" font-weight="normal" stroke="#000" stroke-width="0.45" dx="0.3" dy="3">TaHSP18.6</tspan></text>
</g>
<g id="panelH">
<text x="960.7" y="936.3" font-size="24">H</text>
<rect x="1048.7" y="1013.6" width="22.5" height="110.2" fill="#04b804" stroke="#000" stroke-width="1.4"/>
<rect x="1083.4" y="1008.6" width="22.5" height="115.1" fill="#04b804" stroke="#000" stroke-width="1.4"/>
<rect x="1118.4" y="1003.7" width="22.5" height="120.1" fill="#04b804" stroke="#000" stroke-width="1.4"/>
<rect x="1153.1" y="1005.5" width="22.5" height="118.2" fill="#04b804" stroke="#000" stroke-width="1.4"/>
<rect x="1188.1" y="979.3" width="22.5" height="144.4" fill="#04b804" stroke="#000" stroke-width="1.4"/>
<line x1="1037.3" y1="937.1" x2="1037.3" y2="1124.5" stroke="#000" stroke-width="2"/>
<line x1="1029.7" y1="1123.7" x2="1222.9" y2="1123.7" stroke="#000" stroke-width="2"/>
<line x1="1029.7" y1="1123.7" x2="1037.3" y2="1123.7" stroke="#000" stroke-width="2"/>
<text x="1026.9" y="1128.9" font-size="14.5" text-anchor="end">0</text>
<line x1="1029.7" y1="1077.3" x2="1037.3" y2="1077.3" stroke="#000" stroke-width="2"/>
<text x="1026.9" y="1082.5" font-size="14.5" text-anchor="end">20</text>
<line x1="1029.7" y1="1030.8" x2="1037.3" y2="1030.8" stroke="#000" stroke-width="2"/>
<text x="1026.9" y="1036.0" font-size="14.5" text-anchor="end">40</text>
<line x1="1029.7" y1="984.4" x2="1037.3" y2="984.4" stroke="#000" stroke-width="2"/>
<text x="1026.9" y="989.6" font-size="14.5" text-anchor="end">60</text>
<line x1="1029.7" y1="937.9" x2="1037.3" y2="937.9" stroke="#000" stroke-width="2"/>
<text x="1026.9" y="943.1" font-size="14.5" text-anchor="end">80</text>
<line x1="1059.8" y1="1123.7" x2="1059.8" y2="1131.2" stroke="#000" stroke-width="2"/>
<line x1="1094.8" y1="1123.7" x2="1094.8" y2="1131.2" stroke="#000" stroke-width="2"/>
<line x1="1129.5" y1="1123.7" x2="1129.5" y2="1131.2" stroke="#000" stroke-width="2"/>
<line x1="1164.5" y1="1123.7" x2="1164.5" y2="1131.2" stroke="#000" stroke-width="2"/>
<line x1="1199.2" y1="1123.7" x2="1199.2" y2="1131.2" stroke="#000" stroke-width="2"/>
<line x1="1059.8" y1="1004.4" x2="1059.8" y2="1020.7" stroke="#000" stroke-width="1.1"/>
<line x1="1054.5" y1="1004.4" x2="1065.1" y2="1004.4" stroke="#000" stroke-width="1.1"/>
<line x1="1054.5" y1="1020.7" x2="1065.1" y2="1020.7" stroke="#000" stroke-width="1.1"/>
<line x1="1094.8" y1="999.4" x2="1094.8" y2="1016.7" stroke="#000" stroke-width="1.1"/>
<line x1="1089.5" y1="999.4" x2="1100.1" y2="999.4" stroke="#000" stroke-width="1.1"/>
<line x1="1089.5" y1="1016.7" x2="1100.1" y2="1016.7" stroke="#000" stroke-width="1.1"/>
<line x1="1129.5" y1="991.1" x2="1129.5" y2="1013.1" stroke="#000" stroke-width="1.1"/>
<line x1="1124.2" y1="991.1" x2="1134.8" y2="991.1" stroke="#000" stroke-width="1.1"/>
<line x1="1124.2" y1="1013.1" x2="1134.8" y2="1013.1" stroke="#000" stroke-width="1.1"/>
<line x1="1164.5" y1="999.6" x2="1164.5" y2="1010.3" stroke="#000" stroke-width="1.1"/>
<line x1="1159.2" y1="999.6" x2="1169.8" y2="999.6" stroke="#000" stroke-width="1.1"/>
<line x1="1159.2" y1="1010.3" x2="1169.8" y2="1010.3" stroke="#000" stroke-width="1.1"/>
<line x1="1199.2" y1="973.4" x2="1199.2" y2="984.7" stroke="#000" stroke-width="1.1"/>
<line x1="1193.9" y1="973.4" x2="1204.5" y2="973.4" stroke="#000" stroke-width="1.1"/>
<line x1="1193.9" y1="984.7" x2="1204.5" y2="984.7" stroke="#000" stroke-width="1.1"/>
<circle cx="1058.1" cy="1006.7" r="1.7"/>
<circle cx="1062.1" cy="1009.6" r="1.7"/>
<circle cx="1059.8" cy="1022.6" r="1.7"/>
<circle cx="1094.8" cy="999.4" r="1.7"/>
<circle cx="1095.9" cy="1008.4" r="1.7"/>
<circle cx="1094.3" cy="1016.7" r="1.7"/>
<circle cx="1129.5" cy="990.7" r="1.7"/>
<circle cx="1130.2" cy="1004.8" r="1.7"/>
<circle cx="1129.5" cy="1011.9" r="1.7"/>
<circle cx="1160.9" cy="1001.3" r="1.7"/>
<circle cx="1166.9" cy="1002.9" r="1.7"/>
<circle cx="1164.5" cy="1010.3" r="1.7"/>
<circle cx="1199.2" cy="972.4" r="1.7"/>
<circle cx="1196.9" cy="982.8" r="1.7"/>
<circle cx="1201.1" cy="983.6" r="1.7"/>
<text x="1060.0" y="997.7" font-size="13" text-anchor="middle">b</text>
<text x="1095.2" y="991.8" font-size="13" text-anchor="middle">b</text>
<text x="1129.7" y="982.8" font-size="13" text-anchor="middle">b</text>
<text x="1164.7" y="992.5" font-size="13" text-anchor="middle">b</text>
<text x="1198.8" y="966.3" font-size="13" text-anchor="middle">a</text>
<text x="1003.5" y="1030.6" font-size="15.5" text-anchor="middle" transform="rotate(-90 1003.5 1030.6)" textLength="131" lengthAdjust="spacingAndGlyphs">Disease index (DI)</text>
<text x="1064.3" y="1144.0" font-size="14" text-anchor="end" stroke="#000" stroke-width="0.3" transform="rotate(-45 1064.3 1144.0)">WT</text>
<text x="1099.3" y="1144.0" font-size="14" text-anchor="end" stroke="#000" stroke-width="0.3" transform="rotate(-45 1099.3 1144.0)">BSMV<tspan font-size="10" dy="2.5">0</tspan></text>
<text x="1134.0" y="1144.0" font-size="14" text-anchor="end" stroke="#000" stroke-width="0.3" transform="rotate(-45 1134.0 1144.0)">BSMV<tspan font-size="10.7" font-style="italic" font-weight="normal" stroke="#000" stroke-width="0.45" dx="0.3" dy="3">Tanfd4</tspan></text>
<text x="1169.0" y="1144.0" font-size="14" text-anchor="end" stroke="#000" stroke-width="0.3" transform="rotate(-45 1169.0 1144.0)">BSMV<tspan font-size="10.7" font-style="italic" font-weight="normal" stroke="#000" stroke-width="0.45" dx="0.3" dy="3">TaHDP21</tspan></text>
<text x="1203.7" y="1144.0" font-size="14" text-anchor="end" stroke="#000" stroke-width="0.3" transform="rotate(-45 1203.7 1144.0)">BSMV<tspan font-size="10.7" font-style="italic" font-weight="normal" stroke="#000" stroke-width="0.45" dx="0.3" dy="3">TaHSP18.6</tspan></text>
</g>
<g id="panelI">
<text x="7.6" y="1224.2" font-size="24">I</text>
<text x="68.3" y="1288.6" font-size="20.5" font-style="italic">TaHSP18.6</text>
<text x="180.5" y="1259.2" font-size="17.5">ATG</text>
<text x="1211.2" y="1259.7" font-size="17.5">TGA</text>
<rect x="568.9" y="1269.8" width="216.6" height="10.8" fill="#767171" stroke="#44546a" stroke-width="0.6"/>
<rect x="207.8" y="1267" width="361.1" height="16" fill="#00b050" stroke="#2f5597" stroke-width="0.9"/>
<rect x="785.3" y="1267" width="456.2" height="16" fill="#00b050" stroke="#2f5597" stroke-width="0.9"/>
<line x1="207.2" y1="1250.8" x2="207.2" y2="1283.7" stroke="#000" stroke-width="1.3"/>
<line x1="1241.7" y1="1252.5" x2="1241.7" y2="1283.5" stroke="#000" stroke-width="1.3"/>
<path d="M1238.6 1258.6 L1241.7 1252.3 L1244.8 1258.6" fill="none" stroke="#000" stroke-width="1.3"/>
<line x1="1042.8" y1="1262.0" x2="1042.8" y2="1284.3" stroke="#000" stroke-width="1.5" stroke-dasharray="5.5 3"/>
<text x="1042.0" y="1254.8" font-size="14" transform="rotate(-90 1042.0 1254.8)">SNP1</text>
<line x1="1042.8" y1="1289.6" x2="330.3" y2="1336.5" stroke="#000" stroke-width="1"/>
<line x1="1062.8" y1="1262.0" x2="1062.8" y2="1284.3" stroke="#000" stroke-width="1.5" stroke-dasharray="5.5 3"/>
<text x="1067.0" y="1254.8" font-size="14" transform="rotate(-90 1067.0 1254.8)">SNP2</text>
<line x1="1062.8" y1="1289.6" x2="448.9" y2="1336.5" stroke="#000" stroke-width="1"/>
<line x1="1102.9" y1="1262.0" x2="1102.9" y2="1284.3" stroke="#000" stroke-width="1.5" stroke-dasharray="5.5 3"/>
<text x="1104.1" y="1254.8" font-size="14" transform="rotate(-90 1104.1 1254.8)">SNP3</text>
<line x1="1102.9" y1="1289.6" x2="612.8" y2="1336.5" stroke="#000" stroke-width="1"/>
<line x1="1126.3" y1="1262.0" x2="1126.3" y2="1284.3" stroke="#000" stroke-width="1.5" stroke-dasharray="5.5 3"/>
<text x="1129.7" y="1254.8" font-size="14" transform="rotate(-90 1129.7 1254.8)">SNP4</text>
<line x1="1126.3" y1="1289.6" x2="747.5" y2="1336.5" stroke="#000" stroke-width="1"/>
<line x1="1152.8" y1="1262.0" x2="1152.8" y2="1284.3" stroke="#000" stroke-width="1.5" stroke-dasharray="5.5 3"/>
<text x="1155.5" y="1254.8" font-size="14" transform="rotate(-90 1155.5 1254.8)">SNP5</text>
<line x1="1152.8" y1="1289.6" x2="886.2" y2="1336.5" stroke="#000" stroke-width="1"/>
<line x1="1170.9" y1="1262.0" x2="1170.9" y2="1284.3" stroke="#000" stroke-width="1.5" stroke-dasharray="5.5 3"/>
<text x="1177.9" y="1254.8" font-size="14" transform="rotate(-90 1177.9 1254.8)">SNP6</text>
<line x1="1170.9" y1="1289.6" x2="1024.9" y2="1336.5" stroke="#000" stroke-width="1"/>
<rect x="260.4" y="1362.7" width="115.1" height="27.4" fill="#ffc000"/>
<rect x="375.5" y="1362.7" width="117.2" height="27.4" fill="#ffc000"/>
<rect x="492.7" y="1362.7" width="151.6" height="27.4" fill="#ffc000"/>
<rect x="644.3" y="1362.7" width="128.7" height="27.4" fill="#ffc000"/>
<rect x="773.0" y="1362.7" width="133.4" height="27.4" fill="#e7e6e6"/>
<rect x="906.4" y="1362.7" width="131.6" height="27.4" fill="#ffc000"/>
<rect x="260.4" y="1390.1" width="115.1" height="27.8" fill="#92d050"/>
<rect x="375.5" y="1390.1" width="117.2" height="27.8" fill="#92d050"/>
<rect x="492.7" y="1390.1" width="151.6" height="27.8" fill="#92d050"/>
<rect x="644.3" y="1390.1" width="128.7" height="27.8" fill="#92d050"/>
<rect x="773.0" y="1390.1" width="133.4" height="27.8" fill="#00b0f0"/>
<rect x="906.4" y="1390.1" width="131.6" height="27.8" fill="#00b0f0"/>
<rect x="260.4" y="1417.9" width="115.1" height="27.4" fill="#92d050"/>
<rect x="375.5" y="1417.9" width="117.2" height="27.4" fill="#92d050"/>
<rect x="492.7" y="1417.9" width="151.6" height="27.4" fill="#ffc000"/>
<rect x="644.3" y="1417.9" width="128.7" height="27.4" fill="#ffc000"/>
<rect x="773.0" y="1417.9" width="133.4" height="27.4" fill="#e7e6e6"/>
<rect x="906.4" y="1417.9" width="131.6" height="27.4" fill="#ffc000"/>
<rect x="260.4" y="1445.3" width="115.1" height="27.7" fill="#ffc000"/>
<rect x="375.5" y="1445.3" width="117.2" height="27.7" fill="#ffc000"/>
<rect x="492.7" y="1445.3" width="151.6" height="27.7" fill="#92d050"/>
<rect x="644.3" y="1445.3" width="128.7" height="27.7" fill="#92d050"/>
<rect x="773.0" y="1445.3" width="133.4" height="27.7" fill="#00b0f0"/>
<rect x="906.4" y="1445.3" width="131.6" height="27.7" fill="#00b0f0"/>
<line x1="92.9" y1="1340.9" x2="1248.5" y2="1340.9" stroke="#000" stroke-width="1.4"/>
<line x1="92.9" y1="1362.7" x2="1248.5" y2="1362.7" stroke="#000" stroke-width="1.4"/>
<line x1="92.9" y1="1390.1" x2="1248.5" y2="1390.1" stroke="#000" stroke-width="1.4"/>
<line x1="92.9" y1="1417.9" x2="1248.5" y2="1417.9" stroke="#000" stroke-width="1.4"/>
<line x1="92.9" y1="1445.3" x2="1248.5" y2="1445.3" stroke="#000" stroke-width="1.4"/>
<line x1="92.9" y1="1473.0" x2="1248.5" y2="1473.0" stroke="#000" stroke-width="1.4"/>
<line x1="92.9" y1="1494.8" x2="1248.5" y2="1494.8" stroke="#000" stroke-width="1.4"/>
<line x1="93.6" y1="1340.9" x2="93.6" y2="1494.8" stroke="#000" stroke-width="1.4"/>
<line x1="260.4" y1="1340.9" x2="260.4" y2="1494.8" stroke="#000" stroke-width="1.4"/>
<line x1="375.5" y1="1340.9" x2="375.5" y2="1494.8" stroke="#000" stroke-width="1.4"/>
<line x1="492.7" y1="1340.9" x2="492.7" y2="1494.8" stroke="#000" stroke-width="1.4"/>
<line x1="644.3" y1="1340.9" x2="644.3" y2="1494.8" stroke="#000" stroke-width="1.4"/>
<line x1="773.0" y1="1340.9" x2="773.0" y2="1494.8" stroke="#000" stroke-width="1.4"/>
<line x1="906.4" y1="1340.9" x2="906.4" y2="1494.8" stroke="#000" stroke-width="1.4"/>
<line x1="1038.0" y1="1340.9" x2="1038.0" y2="1494.8" stroke="#000" stroke-width="1.4"/>
<line x1="1151.4" y1="1340.9" x2="1151.4" y2="1494.8" stroke="#000" stroke-width="1.4"/>
<line x1="1247.8" y1="1340.9" x2="1247.8" y2="1494.8" stroke="#000" stroke-width="1.4"/>
<text x="177.7" y="1358.0" font-size="17.8" text-anchor="middle" font-style="italic">TaHSP18.6</text>
<text x="317.9" y="1358.3" font-size="17.3" text-anchor="middle">+546</text>
<text x="434.1" y="1358.3" font-size="17.3" text-anchor="middle">+552</text>
<text x="568.5" y="1358.3" font-size="17.3" text-anchor="middle">+592</text>
<text x="708.6" y="1358.3" font-size="17.3" text-anchor="middle">+611</text>
<text x="839.7" y="1358.3" font-size="17.3" text-anchor="middle">+620</text>
<text x="972.2" y="1358.3" font-size="17.3" text-anchor="middle">+624</text>
<text x="1084.7" y="1358.3" font-size="17.7" text-anchor="middle">Number</text>
<text x="1199.8" y="1358.3" font-size="17.7" text-anchor="middle">DI</text>
<text x="177.0" y="1383.3" font-size="18.3" text-anchor="middle" font-style="italic">Hap1</text>
<text x="317.9" y="1383.3" font-size="17.3" text-anchor="middle">T</text>
<text x="434.1" y="1383.3" font-size="17.3" text-anchor="middle">T</text>
<text x="568.5" y="1383.3" font-size="17.3" text-anchor="middle">T</text>
<text x="708.6" y="1383.3" font-size="17.3" text-anchor="middle">T</text>
<text x="839.7" y="1383.3" font-size="17.3" text-anchor="middle">G</text>
<text x="972.2" y="1383.3" font-size="17.3" text-anchor="middle">T</text>
<text x="1094.7" y="1383.3" font-size="17.3" text-anchor="middle">79</text>
<text x="1199.6" y="1383.3" font-size="17.3" text-anchor="middle">51.1a</text>
<text x="177.0" y="1410.9" font-size="18.3" text-anchor="middle" font-style="italic">Hap2</text>
<text x="317.9" y="1410.9" font-size="17.3" text-anchor="middle">C</text>
<text x="434.1" y="1410.9" font-size="17.3" text-anchor="middle">C</text>
<text x="568.5" y="1410.9" font-size="17.3" text-anchor="middle">C</text>
<text x="708.6" y="1410.9" font-size="17.3" text-anchor="middle">C</text>
<text x="839.7" y="1410.9" font-size="17.3" text-anchor="middle">A</text>
<text x="972.2" y="1410.9" font-size="17.3" text-anchor="middle">A</text>
<text x="1094.7" y="1410.9" font-size="17.3" text-anchor="middle">118</text>
<text x="1199.6" y="1410.9" font-size="17.3" text-anchor="middle">48.7b</text>
<text x="177.0" y="1438.5" font-size="18.3" text-anchor="middle" font-style="italic">Hap3</text>
<text x="317.9" y="1438.5" font-size="17.3" text-anchor="middle">C</text>
<text x="434.1" y="1438.5" font-size="17.3" text-anchor="middle">C</text>
<text x="568.5" y="1438.5" font-size="17.3" text-anchor="middle">T</text>
<text x="708.6" y="1438.5" font-size="17.3" text-anchor="middle">T</text>
<text x="839.7" y="1438.5" font-size="17.3" text-anchor="middle">G</text>
<text x="972.2" y="1438.5" font-size="17.3" text-anchor="middle">T</text>
<text x="1094.7" y="1438.5" font-size="17.3" text-anchor="middle">35</text>
<text x="1199.6" y="1438.5" font-size="17.3" text-anchor="middle">46.9b</text>
<text x="177.0" y="1466.1" font-size="18.3" text-anchor="middle" font-style="italic">Hap4</text>
<text x="317.9" y="1466.1" font-size="17.3" text-anchor="middle">T</text>
<text x="434.1" y="1466.1" font-size="17.3" text-anchor="middle">T</text>
<text x="568.5" y="1466.1" font-size="17.3" text-anchor="middle">C</text>
<text x="708.6" y="1466.1" font-size="17.3" text-anchor="middle">C</text>
<text x="839.7" y="1466.1" font-size="17.3" text-anchor="middle">A</text>
<text x="972.2" y="1466.1" font-size="17.3" text-anchor="middle">A</text>
<text x="1094.7" y="1466.1" font-size="17.3" text-anchor="middle">11</text>
<text x="1199.6" y="1466.1" font-size="17.3" text-anchor="middle">33.7c</text>
<text x="177.0" y="1489.6" font-size="18" text-anchor="middle">Variation type</text>
<text x="317.9" y="1489.7" font-size="15" text-anchor="middle" letter-spacing="0.25">Ala144Val</text>
<text x="434.1" y="1489.7" font-size="15" text-anchor="middle" letter-spacing="0.25">Ala146Val</text>
<text x="568.5" y="1489.7" font-size="15" text-anchor="middle" letter-spacing="0.25">Synonymous</text>
<text x="708.6" y="1489.7" font-size="15" text-anchor="middle" letter-spacing="0.25">Pro166Ser</text>
<text x="839.7" y="1489.7" font-size="15" text-anchor="middle" letter-spacing="0.25">Thr170Ala</text>
<text x="972.2" y="1489.7" font-size="15" text-anchor="middle" letter-spacing="0.25">Lys171Met</text>
</g>
</svg>
</body></html>
